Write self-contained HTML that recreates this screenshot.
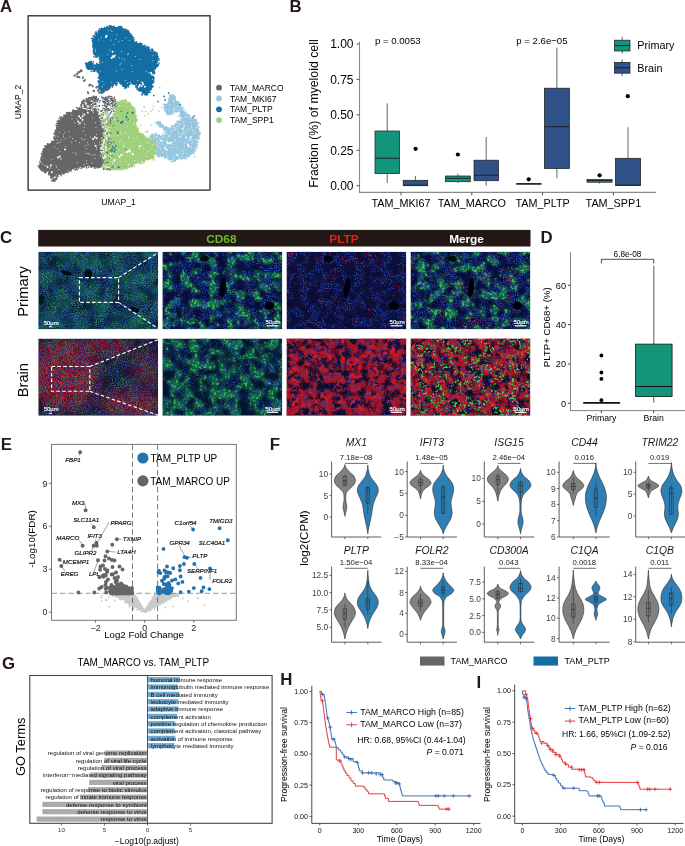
<!DOCTYPE html><html><head><meta charset="utf-8"><title>Figure</title><style>html,body{margin:0;padding:0;background:#fff}svg{display:block;will-change:transform;transform:translateZ(0)}text{font-family:"Liberation Sans",sans-serif}</style></head><body><svg width="685" height="846" viewBox="0 0 685 846" font-family='"Liberation Sans", sans-serif'><defs><filter id="fB1" x="0" y="0" width="100%" height="100%" color-interpolation-filters="sRGB"><feTurbulence type="fractalNoise" baseFrequency="0.85" numOctaves="2" seed="11"/><feColorMatrix type="matrix" values="0 0 0 0 0.122 0 0 0 0 0.267 0 0 0 0 0.659 5 0 0 0 -2.25" result="a"/><feTurbulence type="fractalNoise" baseFrequency="0.11" numOctaves="2" seed="5"/><feColorMatrix type="matrix" values="0 0 0 0 1 0 0 0 0 1 0 0 0 0 1 0 5 0 0 -1.9" result="m"/><feComposite in="a" in2="m" operator="in"/></filter><filter id="fB2" x="0" y="0" width="100%" height="100%" color-interpolation-filters="sRGB"><feTurbulence type="fractalNoise" baseFrequency="0.85" numOctaves="2" seed="23"/><feColorMatrix type="matrix" values="0 0 0 0 0.125 0 0 0 0 0.235 0 0 0 0 0.612 5 0 0 0 -2.25" result="a"/><feTurbulence type="fractalNoise" baseFrequency="0.11" numOctaves="2" seed="5"/><feColorMatrix type="matrix" values="0 0 0 0 1 0 0 0 0 1 0 0 0 0 1 0 5 0 0 -1.9" result="m"/><feComposite in="a" in2="m" operator="in"/></filter><filter id="fB3" x="0" y="0" width="100%" height="100%" color-interpolation-filters="sRGB"><feTurbulence type="fractalNoise" baseFrequency="0.85" numOctaves="2" seed="31"/><feColorMatrix type="matrix" values="0 0 0 0 0.157 0 0 0 0 0.282 0 0 0 0 0.722 5 0 0 0 -2.3" result="a"/><feTurbulence type="fractalNoise" baseFrequency="0.1" numOctaves="2" seed="14"/><feColorMatrix type="matrix" values="0 0 0 0 1 0 0 0 0 1 0 0 0 0 1 0 5 0 0 -1.7" result="m"/><feComposite in="a" in2="m" operator="in"/></filter><filter id="fB4" x="0" y="0" width="100%" height="100%" color-interpolation-filters="sRGB"><feTurbulence type="fractalNoise" baseFrequency="0.85" numOctaves="2" seed="47"/><feColorMatrix type="matrix" values="0 0 0 0 0.122 0 0 0 0 0.267 0 0 0 0 0.643 5 0 0 0 -2.4" result="a"/><feTurbulence type="fractalNoise" baseFrequency="0.1" numOctaves="2" seed="19"/><feColorMatrix type="matrix" values="0 0 0 0 1 0 0 0 0 1 0 0 0 0 1 0 5 0 0 -1.9" result="m"/><feComposite in="a" in2="m" operator="in"/></filter><filter id="fB5" x="0" y="0" width="100%" height="100%" color-interpolation-filters="sRGB"><feTurbulence type="fractalNoise" baseFrequency="0.9" numOctaves="2" seed="53"/><feColorMatrix type="matrix" values="0 0 0 0 0.157 0 0 0 0 0.345 0 0 0 0 0.722 5 0 0 0 -2.3" result="a"/><feTurbulence type="fractalNoise" baseFrequency="0.09" numOctaves="2" seed="3"/><feColorMatrix type="matrix" values="0 0 0 0 1 0 0 0 0 1 0 0 0 0 1 0 5 0 0 -1.6" result="m"/><feComposite in="a" in2="m" operator="in"/></filter><filter id="fG1" x="0" y="0" width="100%" height="100%" color-interpolation-filters="sRGB"><feTurbulence type="fractalNoise" baseFrequency="0.4" numOctaves="3" seed="3"/><feColorMatrix type="matrix" values="0 0 0 0 0.243 0 0 0 0 0.784 0 0 0 0 0.290 5 0 0 0 -2.35" result="a"/><feTurbulence type="fractalNoise" baseFrequency="0.11" numOctaves="2" seed="5"/><feColorMatrix type="matrix" values="0 0 0 0 1 0 0 0 0 1 0 0 0 0 1 0 0 6 0 -2.85" result="m"/><feComposite in="a" in2="m" operator="in"/></filter><filter id="fG2" x="0" y="0" width="100%" height="100%" color-interpolation-filters="sRGB"><feTurbulence type="fractalNoise" baseFrequency="0.42" numOctaves="3" seed="17"/><feColorMatrix type="matrix" values="0 0 0 0 0.227 0 0 0 0 0.796 0 0 0 0 0.298 5 0 0 0 -2.5" result="a"/><feTurbulence type="fractalNoise" baseFrequency="0.1" numOctaves="2" seed="25"/><feColorMatrix type="matrix" values="0 0 0 0 1 0 0 0 0 1 0 0 0 0 1 6 0 0 0 -2.6" result="m"/><feComposite in="a" in2="m" operator="in"/></filter><filter id="fG3" x="0" y="0" width="100%" height="100%" color-interpolation-filters="sRGB"><feTurbulence type="fractalNoise" baseFrequency="0.8" numOctaves="2" seed="29"/><feColorMatrix type="matrix" values="0 0 0 0 0.208 0 0 0 0 0.753 0 0 0 0 0.282 6 0 0 0 -2.8" result="a"/><feTurbulence type="fractalNoise" baseFrequency="0.08" numOctaves="2" seed="2"/><feColorMatrix type="matrix" values="0 0 0 0 1 0 0 0 0 1 0 0 0 0 1 0 5 0 0 -2.0" result="m"/><feComposite in="a" in2="m" operator="in"/></filter><filter id="fG4" x="0" y="0" width="100%" height="100%" color-interpolation-filters="sRGB"><feTurbulence type="fractalNoise" baseFrequency="0.42" numOctaves="3" seed="41"/><feColorMatrix type="matrix" values="0 0 0 0 0.282 0 0 0 0 0.863 0 0 0 0 0.314 5 0 0 0 -2.45" result="a"/><feTurbulence type="fractalNoise" baseFrequency="0.11" numOctaves="2" seed="33"/><feColorMatrix type="matrix" values="0 0 0 0 1 0 0 0 0 1 0 0 0 0 1 0 6 0 0 -2.5" result="m"/><feComposite in="a" in2="m" operator="in"/></filter><filter id="fR1" x="0" y="0" width="100%" height="100%" color-interpolation-filters="sRGB"><feTurbulence type="fractalNoise" baseFrequency="0.24" numOctaves="3" seed="6"/><feColorMatrix type="matrix" values="0 0 0 0 0.847 0 0 0 0 0.102 0 0 0 0 0.141 4.5 0 0 0 -2.0" result="a"/><feTurbulence type="fractalNoise" baseFrequency="0.1" numOctaves="2" seed="13"/><feColorMatrix type="matrix" values="0 0 0 0 1 0 0 0 0 1 0 0 0 0 1 0 5 0 0 -1.9" result="m"/><feComposite in="a" in2="m" operator="in"/></filter><filter id="fR2" x="0" y="0" width="100%" height="100%" color-interpolation-filters="sRGB"><feTurbulence type="fractalNoise" baseFrequency="0.8" numOctaves="2" seed="19"/><feColorMatrix type="matrix" values="0 0 0 0 0.878 0 0 0 0 0.125 0 0 0 0 0.188 6 0 0 0 -2.7" result="a"/><feTurbulence type="fractalNoise" baseFrequency="0.03" numOctaves="2" seed="4"/><feColorMatrix type="matrix" values="0 0 0 0 1 0 0 0 0 1 0 0 0 0 1 0 6 0 0 -2.6" result="m"/><feComposite in="a" in2="m" operator="in"/></filter><filter id="fR3" x="0" y="0" width="100%" height="100%" color-interpolation-filters="sRGB"><feTurbulence type="fractalNoise" baseFrequency="0.6" numOctaves="3" seed="27"/><feColorMatrix type="matrix" values="0 0 0 0 0.878 0 0 0 0 0.125 0 0 0 0 0.290 7 0 0 0 -4.2" result="a"/><feTurbulence type="fractalNoise" baseFrequency="0.06" numOctaves="2" seed="37"/><feColorMatrix type="matrix" values="0 0 0 0 1 0 0 0 0 1 0 0 0 0 1 0 6 0 0 -3.2" result="m"/><feComposite in="a" in2="m" operator="in"/></filter><filter id="fH1" x="0" y="0" width="100%" height="100%" color-interpolation-filters="sRGB"><feTurbulence type="fractalNoise" baseFrequency="0.11" numOctaves="2" seed="5"/><feColorMatrix type="matrix" values="0 0 0 0 0.086 0 0 0 0 0.478 0 0 0 0 0.345 0 0 4.0 0 -1.85"/><feGaussianBlur stdDeviation="1.2"/></filter><filter id="fH2" x="0" y="0" width="100%" height="100%" color-interpolation-filters="sRGB"><feTurbulence type="fractalNoise" baseFrequency="0.1" numOctaves="2" seed="25"/><feColorMatrix type="matrix" values="0 0 0 0 0.082 0 0 0 0 0.478 0 0 0 0 0.345 4.0 0 0 0 -1.65"/><feGaussianBlur stdDeviation="1.2"/></filter><filter id="fH3" x="0" y="0" width="100%" height="100%" color-interpolation-filters="sRGB"><feTurbulence type="fractalNoise" baseFrequency="0.03" numOctaves="2" seed="38"/><feColorMatrix type="matrix" values="0 0 0 0 0.659 0 0 0 0 0.094 0 0 0 0 0.188 3.0 0 0 0 -1.3"/><feGaussianBlur stdDeviation="2"/></filter><filter id="fH4" x="0" y="0" width="100%" height="100%" color-interpolation-filters="sRGB"><feTurbulence type="fractalNoise" baseFrequency="0.07" numOctaves="2" seed="2"/><feColorMatrix type="matrix" values="0 0 0 0 0.082 0 0 0 0 0.439 0 0 0 0 0.361 3.0 0 0 0 -1.1"/><feGaussianBlur stdDeviation="2"/></filter><filter id="fH5" x="0" y="0" width="100%" height="100%" color-interpolation-filters="sRGB"><feTurbulence type="fractalNoise" baseFrequency="0.12" numOctaves="4" seed="13"/><feColorMatrix type="matrix" values="0 0 0 0 0.612 0 0 0 0 0.071 0 0 0 0 0.149 0 5 0 0 -1.9"/><feGaussianBlur stdDeviation="0.35"/></filter><filter id="fB6" x="0" y="0" width="100%" height="100%" color-interpolation-filters="sRGB"><feTurbulence type="fractalNoise" baseFrequency="0.85" numOctaves="2" seed="61"/><feColorMatrix type="matrix" values="0 0 0 0 0.173 0 0 0 0 0.314 0 0 0 0 0.769 5 0 0 0 -2.75" result="a"/><feTurbulence type="fractalNoise" baseFrequency="0.1" numOctaves="2" seed="13"/><feColorMatrix type="matrix" values="0 0 0 0 1 0 0 0 0 1 0 0 0 0 1 0 5 0 0 -1.2" result="m"/><feComposite in="a" in2="m" operator="in"/></filter><filter id="fR4" x="0" y="0" width="100%" height="100%" color-interpolation-filters="sRGB"><feTurbulence type="fractalNoise" baseFrequency="0.8" numOctaves="2" seed="19"/><feColorMatrix type="matrix" values="0 0 0 0 0.894 0 0 0 0 0.125 0 0 0 0 0.188 6 0 0 0 -2.75"/></filter><filter id="soft" x="-2%" y="-2%" width="104%" height="104%"><feGaussianBlur stdDeviation="0.5"/></filter><filter id="soft2" x="-2%" y="-2%" width="104%" height="104%"><feGaussianBlur stdDeviation="0.75"/></filter><clipPath id="cA"><rect x="38.3" y="251.8" width="119.8" height="77.4"/></clipPath><clipPath id="cB"><rect x="162.4" y="251.8" width="119.8" height="77.4"/></clipPath><clipPath id="cC"><rect x="286.5" y="251.8" width="119.8" height="77.4"/></clipPath><clipPath id="cD"><rect x="410.5" y="251.8" width="119.8" height="77.4"/></clipPath><filter id="mblur" x="-30%" y="-30%" width="160%" height="160%"><feGaussianBlur stdDeviation="7"/></filter><mask id="mE" maskUnits="userSpaceOnUse" x="38.3" y="338.6" width="119.8" height="77.1"><rect x="38.3" y="338.6" width="119.8" height="77.1" fill="#000"/><g filter="url(#mblur)" fill="#fff"><ellipse cx="64.3" cy="374.6" rx="34" ry="36"/><ellipse cx="130.3" cy="404.6" rx="30" ry="13"/><ellipse cx="108.3" cy="344.6" rx="22" ry="9"/><ellipse cx="146.3" cy="368.6" rx="14" ry="18" opacity=".6"/></g></mask><clipPath id="cE"><rect x="38.3" y="338.6" width="119.8" height="77.1"/></clipPath><clipPath id="cF"><rect x="162.4" y="338.6" width="119.8" height="77.1"/></clipPath><clipPath id="cG"><rect x="286.5" y="338.6" width="119.8" height="77.1"/></clipPath><clipPath id="cH"><rect x="410.5" y="338.6" width="119.8" height="77.1"/></clipPath></defs><rect width="685" height="846" fill="#fff"/><text x="0" y="12" font-size="16.8" fill="#231815" font-weight="bold">A</text>
<polygon points="170.8,95.6 174,97.2 177.3,102.3 181.7,108.4 186.2,113.8 191.6,118.3 195.7,120.7 197.3,126.4 199,134 197.3,140.8 195.6,147.7 192.3,153.5 187.4,156.7 182.4,157.5 177,158.4 173,161 169,158.5 163.6,156.6 158.6,155.9 156.5,153 156.5,146.1 153.7,140.4 150.4,137.6 153.2,135.1 157.9,135.1 163.5,136.9 167.9,133.3 164.1,128.9 159.8,125.5 158,122.5 160.2,123.7 164.6,127.1 170.4,129 174.5,127 178.2,122.5 181.9,118.5 180,113.2 175.7,110.2 171.6,112 168.8,113.7 166,110.7 164.4,106.2 167.7,102.3 170.5,98.6" fill="#97c7de"/>
<path d="M153.6 140.9h0M176.8 121.2h0M181.9 157.7h0M195 120.1h0M174.2 159.9h0M174.3 110.9h0M198.8 136.4h0M156.3 148.7h0M176.4 112.1h0M188.5 115.6h0M179.3 121.9h0M158.8 123.5h0M172.3 161.8h0M150.7 140.8h0M198.6 131h0M167.4 127.8h0M181.4 114.9h0M151.2 135.6h0M194.2 120.8h0M184.6 113.5h0M170.6 97h0M169.4 100.7h0M169.9 113.9h0M196.1 140.2h0M163.9 127.6h0M198.1 139h0M163.7 128.1h0M176.6 159.4h0M177.2 158h0M157.9 156.3h0M179.9 113.5h0M166.9 110.7h0M170 96.8h0M196 123.8h0M181 158.7h0M196 121h0M156.6 135.4h0M158.7 136.2h0M156.2 135.8h0M158.9 123.5h0M149.9 138.5h0M175.7 126.6h0M197.4 144.8h0M157.4 145.2h0M166.9 157.1h0M175 159h0M174.9 158.5h0M184 156h0M174.7 159h0M176 101.3h0M166.9 114.3h0M152.7 135.7h0M174.5 160.5h0M165.2 111.3h0M163.6 104.2h0M185.7 158.5h0M154.8 139.7h0M160.3 122.5h0M193.5 153.6h0M160.8 124.8h0M162.4 126.9h0M199.4 132.8h0M197.4 123.3h0M183.5 158h0M157.6 153.6h0M181.1 122.3h0M152.1 133.9h0M177 124.6h0M176.9 121.8h0M189.4 154.9h0M196.3 142.9h0M153.6 142h0M197.7 126h0M179.6 107h0M187.8 115.1h0M171 129.7h0M162.4 126.5h0M164.5 156.4h0M160.3 125.8h0M189.3 117.1h0M156.9 147.2h0M167.7 105.1h0M159.4 122.5h0M165.2 126.9h0M159.1 126.1h0M151.3 136.6h0M180.8 115.2h0M176.5 124.2h0M173.6 161.3h0M181.9 109.2h0M159.5 124.1h0M165.2 135.8h0M157.5 146h0M160.3 126h0M196.4 121.1h0M187.7 115.1h0M182.2 115.7h0M179.7 106h0M195.6 151.1h0M165.6 108.6h0M173 129.3h0M169.9 158.5h0M184.9 158.1h0M169 99.7h0M167.6 133.9h0M176.3 158.1h0M168.3 109.9h0M197.7 132.8h0M164.9 129.2h0M173 128.3h0M158.8 156.4h0M174 95.5h0M183.1 117.2h0M181.4 157.8h0M161 124.1h0M171.3 95.3h0M176.3 110.4h0M178.3 158.2h0M195.8 143.5h0M162 135.4h0M156.9 153.6h0M172.8 126.1h0M197.5 139h0M175.1 100.4h0M170.6 95.4h0M177.6 103.4h0M157.9 122.9h0M170.5 98.9h0M189.1 117.2h0M169.1 99.3h0M190.9 119.1h0M175 160.2h0M159 134.9h0M179.8 105.8h0M195.9 141.9h0M167.5 112h0M159.3 156.3h0M165.3 127.6h0M160.8 123.3h0M156.7 146.1h0M155.3 122.5h0M163.5 155.3h0M190 117.3h0M154.3 134.1h0M198.7 133.7h0M168.1 129.7h0M170.5 97.7h0M152.1 137.2h0M154.6 141.4h0M184.5 156.8h0M152.1 136.2h0M187.5 115.7h0M184.2 110.4h0M164.5 107.2h0M171.9 126.8h0M160.8 124.7h0M180.8 115.3h0M166.2 130h0M158.6 153.9h0M193.6 151h0M164.8 104.6h0M181.6 115.9h0M188.2 114.2h0M174.4 160.9h0M163.6 128.8h0M151.5 139.6h0M180.9 112.8h0M159.3 135.7h0M150.1 138.3h0M152.6 135.1h0M182.6 157h0M167.6 104h0M173.1 98.6h0M164.1 127h0M178.3 123.1h0M197.5 124h0M197 124.8h0M158.2 122.6h0M199.8 135h0M155.7 145.5h0M161.4 126.7h0M178.2 123.4h0M168.7 111.3h0M157.7 154.4h0M162.3 125.4h0M165.1 130.3h0M169.5 128.5h0M174.9 159.8h0M180.2 105.7h0M164.8 134.8h0M170.1 128.9h0M186.6 158.4h0M157.5 154.7h0M175.3 159.5h0M170.7 112.7h0M171.5 112.4h0M165.3 134.5h0M199.7 133.7h0M188.1 155.4h0M155.9 149h0M152.5 139.4h0M193.5 119h0M180.4 157.1h0M163.5 128h0M181.9 119.6h0M158.9 124.6h0M164 136.8h0M182.8 107.9h0M151.4 141.3h0M178.3 103.1h0M161.9 155.2h0M166 107.1h0M198.6 122.8h0M163.7 135.7h0M198.1 141.8h0M156.7 146.1h0M152.6 141.6h0M171.9 113.6h0M170.8 159.1h0M181.2 121h0M188 115.2h0M170.9 128.9h0M197.3 135.9h0M181.1 118.7h0M157.2 154.7h0M168 158.8h0M197.3 142.4h0M189.4 115.5h0M175.2 160.7h0M176.1 103.2h0M158.9 123h0M196 125.8h0M181.5 158.7h0M158.9 122.4h0M170.1 95.1h0M182.1 157.8h0M168.6 156.4h0M172.7 97.4h0M168.4 114.3h0M179.6 116.8h0M169 100h0M193.9 152.6h0M169.3 101h0M176 110.6h0M155.5 135.7h0M172.5 96.7h0M194 118.6h0M195.6 148.6h0M163.3 136h0M170.8 129.1h0M193.4 153.7h0M186.1 156.7h0M160.6 123.9h0M194.1 119.3h0M194.3 150.4h0M166.7 110.7h0M182.7 157.3h0M150.8 138.7h0M185.8 156.1h0M179.9 107.2h0M158.7 122.6h0M166.7 132.8h0M155.1 135.2h0M165.1 111h0M166.1 111.5h0M162.7 125.4h0M152.7 135.5h0M178.9 104h0M154 141.7h0M173.2 125.9h0M178.3 101.5h0M198.7 127.8h0M193.2 151h0M152.1 136.8h0M168.2 112.4h0M173.2 127.2h0M167.3 112.4h0M189.9 154.2h0M154.8 142.4h0M200.3 132.8h0M157.2 123h0M194.4 121.8h0M155.6 135h0M155.3 135.4h0M168.3 112h0M169.1 157.5h0M170 97.5h0M175.6 158.2h0M172.9 128.6h0M167 111.7h0M150.2 136.6h0M165.2 130.4h0M166.6 111.3h0M169.9 159.3h0M196 145.9h0M165.3 157.3h0M151 135.5h0M177.2 125.7h0M178.2 102.7h0M195.4 147.9h0M180.9 115.9h0M175.4 124.2h0M168 113.9h0M186 112.8h0M179 121.3h0M157.9 122.1h0M195.9 121.8h0M165 158.3h0M163.2 125.4h0M157.9 153.9h0M170.4 129.6h0M182.7 156.7h0M159.9 137.7h0M166.2 106.4h0M180.7 119.5h0M175.3 98.3h0M155.6 148.3h0M176.2 110.6h0M198 126.4h0M175 98.4h0M180.4 106.2h0M173.3 113.7h0M183.2 119.7h0M158.6 135.7h0M182.8 107.3h0M194.5 119.7h0M196.3 120.2h0M157.8 155h0M165.4 157.2h0M153.5 141.1h0M158.2 154.3h0M162.7 127.7h0M184.5 113.1h0M193.8 120.6h0M175.5 123.6h0M173.1 97h0M185.7 155.3h0M172.2 128.2h0M177.4 158.9h0M162 107.4h0M179.8 113.8h0M168.8 132.6h0M160.9 126h0M166.2 157.5h0M164.6 109.9h0M169.3 113.8h0M194.7 147.1h0M154.6 145.7h0M174.1 111.7h0M170.8 161.2h0M168.7 113.8h0M154.4 143.2h0M189 156.1h0M193.1 153.8h0M195.8 145.3h0M187.5 156.4h0M162.3 136.1h0M159.9 126.5h0M158 124h0M174 96.3h0M176.4 110.1h0M170.8 98.6h0M171.6 110.6h0M158.9 124.4h0M165.8 133h0M193.9 149.6h0M165.1 111h0M187.9 156.5h0M170.4 129.3h0M182 155.5h0M176.4 124.6h0M177.2 158.1h0M153.8 136.3h0M177.5 159.4h0M197.6 131.1h0M167.4 158h0M163.5 128.3h0M174.8 112.1h0M180.3 122.6h0M159.6 123.9h0M164.8 108.7h0M195.6 141.9h0M165.8 132.3h0M196.1 139.6h0M175.4 159.6h0M159.6 126.8h0M161.4 155.7h0M166.2 126.9h0M153.7 135.9h0M196.3 119.4h0M197.4 138.6h0M169 101.9h0M164.2 156.5h0M188.2 156.4h0M167.9 135.7h0M170.5 114.7h0M180.7 113.8h0M179.5 157h0M198.2 131.3h0M197.2 136.9h0M196.1 146.1h0M170.9 113.5h0M158.8 123.3h0M156.8 124.1h0M186.3 115.6h0M175.2 98.4h0M151.9 138.7h0M197 139.8h0M152.9 139.5h0M177.2 124.1h0M150.7 138.6h0M157.1 154.9h0M158.9 156.5h0M168.8 129.3h0M156.9 152h0M178.2 104.4h0M179.7 113.2h0M181.8 157.6h0M186.3 112h0M167.7 112h0M171.7 98.7h0M165.2 107.6h0M180.8 106.1h0M172.7 94.8h0M180.9 114.3h0M177.5 104.8h0M182.3 110.9h0M166.6 130.2h0M170.6 95.1h0M169.5 98.8h0M194 121.5h0M167.4 110.7h0M199.4 133.4h0M198.9 127.6h0M171.1 157.8h0M156.4 133.4h0M191.8 118.6h0M170.2 101.2h0M178.7 102.5h0M168 114.8h0M193.1 152.1h0M154.6 143.6h0M171 98h0M165.3 104.6h0M158.4 121.5h0M157.1 154.2h0M168.7 111.1h0M195.9 145.8h0M171 158.9h0M173.7 160.5h0M168.7 159.7h0M179.8 105.5h0M180.9 112.5h0M181.3 114.5h0M193 119.7h0M176.6 159.5h0M177.3 158.3h0M161.9 136.8h0M185.8 113.9h0M175.1 125.6h0M182 158.9h0M154.9 136.3h0M197.8 142h0M196 122.9h0M154.2 143.6h0M174.8 99.5h0M177.2 111.5h0M162.9 155.8h0M168.9 113.9h0M182.3 157.6h0M180.5 105h0M189.6 116.1h0M191.5 118.4h0M169.8 102h0M158.4 135.1h0M181.8 108h0M180.3 113.5h0M171.8 125.5h0M182.1 109.1h0M183.7 158.4h0M164.4 106.4h0M197.2 130h0M196.5 146.4h0M184.4 158.8h0M192.5 116.6h0M199.7 138.8h0M161.9 135.9h0M152.7 139.9h0M154 135.4h0M159.9 125.3h0M161.5 156.5h0M176.1 111.1h0M164.2 127.6h0M197.4 148.2h0M168.7 98.3h0M198 129.2h0M164 156.5h0M158.6 156.1h0M157.7 154.7h0M171.9 128.4h0M175.4 125.9h0M166.6 132.1h0M189.8 155.7h0M172.4 112.8h0M169.2 129h0M170.1 98.6h0M187 155.7h0M183.6 111.8h0M164.5 106.8h0M160.4 123.5h0M176 111.1h0M156.4 134.5h0M158.8 123h0M170.3 158.3h0M161.7 135.7h0M196.1 126.2h0M177.9 123.9h0M192.7 119.2h0M166.2 157.4h0M186.8 155.8h0M159 122.7h0M197.3 124.9h0M168 127.8h0M198.8 130.4h0M175 158.1h0M193.7 153.3h0M165.4 130.5h0M184.8 113.2h0M152 137.4h0M154.4 141.2h0M174.7 125.6h0M161.7 126.7h0M191 154.1h0M174 98.8h0M160.1 121.5h0M177 101.9h0M169.6 95.6h0M180 107.2h0M163.5 128.2h0M153.1 136.8h0M175.2 127.8h0M194.7 143.7h0M165.5 132.2h0M177.9 121.8h0M174.8 161.4h0M159.6 124.5h0M156.2 153.3h0M179.5 120.9h0M151.6 136.9h0M154.6 145.9h0M159.6 155.9h0M168.8 113.6h0M161.6 137.8h0M176.8 125.6h0M196.3 143.2h0M185.3 155.8h0M176.1 125h0M160.5 123.7h0M199 137.4h0M178.5 115.5h0M179.8 112.2h0M166.4 112.6h0M158.1 123.5h0M176 125.1h0M166.4 128.9h0M196.1 144.2h0M153.6 138.1h0M154.2 145.8h0M170.8 97.6h0M156.7 145.5h0M160.5 127h0M161.8 136.3h0M157.6 121.7h0M195.1 123h0M179.7 113.6h0M163.3 133.2h0M151.4 138h0M156.4 134.9h0M170.7 128h0M152.9 138h0M163.8 130.2h0M179.9 158.5h0M166 108.9h0M165.9 108.1h0M171.8 96h0M156.6 150.3h0M173.5 98.2h0M160.1 155.3h0M195.9 145h0M193.7 150.6h0M185.5 114.3h0M168 111.2h0M170.1 97.6h0M152.4 137.1h0M175.9 111.5h0M175.1 96.8h0M178.8 104.5h0M177.5 103h0M174 96.4h0M172.8 110.8h0" stroke="#97c7de" stroke-width="1.6" stroke-linecap="round" fill="none"/>
<path d="M153.7 139.9h0M183.2 133.8h0M166.7 152.6h0M166.7 138.2h0M194.8 131.8h0M176.9 147.1h0M177.4 126.1h0M168.3 109.8h0M170.1 136.8h0M173.5 109h0M192.1 139.8h0M179.4 124.4h0M170.1 129h0M156.5 144.7h0M191.8 143.7h0M184.2 146.4h0M194.8 148.2h0M164.4 149h0M191.5 126h0M180.9 136.7h0M189.3 140.8h0M184.6 125.9h0M180 109.9h0M183.3 122.1h0M180 123.8h0M186.3 131.7h0M181 157.2h0M177.9 110.5h0M174.6 129.7h0M195.4 139.4h0M178.4 156.8h0M182.3 154.5h0M192.9 133.9h0M165.9 146.4h0M167.2 155.3h0M170.7 144.2h0M167.4 157.7h0M174.9 140.6h0M191.2 136.5h0M175.1 139.8h0M160.4 139.6h0M191.6 146.5h0M174.2 108h0M177.6 107h0M158.4 146.7h0M183.8 127.4h0M173.9 141.7h0M156.9 137.5h0M184.8 134h0M162.1 136.8h0M196.2 139.9h0M191.2 122.2h0M160.4 140.7h0M173.2 159.7h0M174 144.5h0M166.5 143.9h0M163.3 137.8h0M196.9 127.5h0M188.5 116.7h0M185.9 141.3h0M169.6 105.1h0M175.9 154.2h0M185.4 115.9h0M180.4 120.4h0M181.9 118.9h0M179.7 136.6h0M157.1 137.2h0M191.8 127h0M190.9 129h0M159 143h0M189.5 139.8h0M178 126.3h0M176.8 129.4h0M171.2 130.6h0M169.9 135.4h0M185.5 117.3h0M182.4 132.6h0M192.5 130.3h0M181.2 151.1h0M161.2 144h0M178.6 131.9h0M191.1 138.1h0M159.5 139.4h0M172.7 131h0M184.3 143.7h0M194.6 132.7h0M191.8 140h0M174.9 128.8h0M183.8 131.2h0M173.5 101.7h0M168.6 136.1h0M196.9 125.7h0M156 143.2h0M191.3 148.2h0M175.4 129.9h0M190.1 118.7h0M167.6 141h0M171.8 147.3h0M174.1 100.4h0M183 150.3h0M179 112h0M174.1 127.3h0M154 136.2h0M181.7 134.8h0M184.1 124.9h0M156.8 136.4h0M160.7 149.2h0M185.8 117.3h0M173.2 156.9h0M173.9 110.4h0M162.5 152.9h0M180 136.9h0M178.3 133.8h0M157.2 141.3h0M171.1 133h0M192.8 142.4h0M166.7 141.7h0M183.1 153.4h0M188.4 128.5h0M193.9 148.5h0" stroke="#fff" stroke-width="0.9" stroke-linecap="round" fill="none"/>
<path d="M177.3 113.9h0M175.9 115.1h0M178.7 113h0M167.7 142.8h0M169.5 143.2h0M171.2 142.8h0M186.1 137.6h0M187.9 144.6h0M188.7 146.3h0M177.3 155.1h0M165.1 148.1h0M166.8 149.8h0M190.5 137.6h0M182.6 128.8h0M161.6 141.1h0" stroke="#fff" stroke-width="2.0" stroke-linecap="round" fill="none"/>
<polygon points="117.2,103.5 121.5,101.4 126.8,102.1 131.5,106.1 134.8,111.8 136.4,118.4 135.5,124.5 137.5,131.4 142.2,135.2 146.7,138.8 151.8,142.1 154.9,146.8 154.9,152.9 151.8,157.5 145.3,160.7 138.3,162.4 131.2,166 124.4,168.5 117.8,169.3 111.1,168.5 106.5,167 104.4,163.5 105.2,157.1 107,149.9 106.1,142.9 107.9,136.1 108.8,128.7 106.9,123.1 111,120.2 114.8,115.4 115.7,109" fill="#a0d07c"/>
<path d="M155.4 149.5h0M103.7 161h0M151 141.6h0M106.6 146.6h0M116.2 109.4h0M115.4 115.9h0M142.9 160.4h0M111.1 119.8h0M136.2 120.3h0M135.9 122.4h0M124 102.8h0M109.5 122.1h0M126.3 101.9h0M107.3 129.4h0M116.2 102.7h0M106.6 166h0M109.4 120.2h0M105.9 160h0M107.3 135.2h0M129.6 167.2h0M108 122.6h0M150.8 141.4h0M152.9 142.9h0M127.4 168.8h0M148.8 156.9h0M135.2 115.6h0M106.9 144.6h0M125.1 103.4h0M105.8 154.9h0M116.1 108.6h0M133.8 109h0M106 165.9h0M120.7 102.9h0M137.5 130.3h0M156.4 150.2h0M110.8 120.6h0M105.7 138.7h0M135.9 130.2h0M143.9 160.8h0M106.2 159.3h0M152.4 156.5h0M155.5 153.7h0M104.8 164.1h0M106.1 154.6h0M106.5 141.8h0M136.3 163h0M111 118.2h0M136 118h0M132.1 166.3h0M107.2 168h0M114.8 115.3h0M126 101.5h0M108.8 122.2h0M108.1 135.2h0M114.2 113.4h0M106.3 141.4h0M153.3 144.3h0M155.5 146.8h0M108.9 131.5h0M109.6 168.3h0M117.6 103.2h0M131.4 106.8h0M152 158.6h0M104.5 164.4h0M155.2 151.8h0M137.9 130.3h0M128.4 103.9h0M131.5 106.2h0M108.3 132.1h0M104.6 157h0M155.7 145.1h0M104.7 155.7h0M151.2 157.9h0M147.6 159.3h0M141 133.4h0M109.4 167.3h0M105.3 161.5h0M114.5 111.4h0M104.2 159.1h0M117.7 167.6h0M128 166.6h0M107.6 124.3h0M106 156.5h0M104.4 160.3h0M121.4 168.4h0M144.8 138.7h0M124.1 166h0M130.1 105.6h0M129.2 167.4h0M134.9 117.5h0M106.1 122.3h0M153.8 142.4h0M132.6 107.6h0M155.2 147.9h0M140.5 162.6h0M139.4 162.2h0M107.9 134.8h0M134.7 114.1h0M155.1 149.3h0M122.8 168.5h0M134.2 119.7h0M143.5 135.7h0M105.8 165.6h0M116.2 104h0M125.1 102.1h0M105.6 141.6h0M108.2 135.9h0M137.2 120.1h0M106.8 153.2h0M107.3 122h0M129.6 166.5h0M107 135.3h0M137.7 163h0M134.7 124.2h0M126.8 167.9h0M137.7 127.6h0M121.5 169.4h0M129.3 103.8h0M133.5 108.4h0M144.3 159.5h0M130.7 165h0M109.4 125.4h0M109.2 121.8h0M116.9 102.8h0M128.2 105.2h0M122.8 167.9h0M149.3 138.6h0M108.9 122h0M135.9 128.9h0M134.6 166.6h0M153.4 142.5h0M125.7 101.9h0M116.2 106.5h0M108.4 133.4h0M112.5 169.6h0M138.2 130.9h0M107.4 168h0M108.5 127.2h0M119.8 169.7h0M106.2 145.8h0M108.7 126.4h0M131.8 167.1h0M116.1 110.4h0M106.6 150.1h0M126.8 102.5h0M143.4 162.4h0M153.8 144.6h0M144 135.9h0M108.8 133.6h0M152.5 143.4h0M120 169.6h0M135.9 120.6h0M107.8 126.2h0M103.7 163.6h0M155.3 145h0M113.1 115h0M108.4 167.1h0M137.7 162.3h0M139.9 134.7h0M133.5 113.4h0M105 162.3h0M136.5 162.7h0M109.1 128.6h0M143.1 160.3h0M109.5 168h0M116.8 168.9h0M113.5 169.3h0M107.9 150.6h0M150.7 140.8h0M149 140.3h0M131.9 108.1h0M153.8 145.2h0M130.2 166.4h0M123.5 169.2h0M109.1 122h0M133 111.6h0M116.4 168.8h0M136.3 119.5h0M153.9 156.5h0M131.2 106.3h0M105.8 167.2h0M106.2 125.8h0M122.7 101h0M148.8 139h0M114.1 116.1h0M108.8 133.4h0M107.4 147.7h0M106.6 142.5h0M154 145.4h0M111.2 117.9h0M114.6 114.7h0M110.3 120h0M131 104.5h0M108 127.6h0M134.9 112.8h0M126.3 100.5h0M115.7 170.1h0M116.3 106.4h0M119.8 168.8h0M108.5 132h0M137.7 131.7h0M114 117.1h0M104.9 156h0M106.6 164h0M152.2 158.6h0M106.7 132.6h0M107.8 135h0M116.3 107.5h0M110.4 169h0M129.2 102.5h0M149 139.9h0M111.8 116.7h0M131.6 106.7h0M111.4 121.6h0M153.9 149.1h0M113.5 116.5h0M117.3 103h0M110.8 121.7h0M121.4 102.1h0M112.4 169.5h0M134.6 110.3h0M106.4 160.3h0M103.9 160.8h0M145.6 139.6h0M106.5 164h0M125.5 102.1h0M118.1 102.2h0M121.5 169.8h0M136 116.4h0M155.4 144.4h0M141.9 135.1h0M127.3 103.2h0M145.1 139h0M120.3 102.4h0M108 128.2h0M106.5 154.1h0M108.4 124.1h0M155.4 153.8h0M122.3 100.9h0M149.2 140.6h0M108.4 136.2h0M150 142h0M115.7 113h0M154.2 153.4h0M133 106.7h0M109 128h0M122.4 100.5h0M118.5 169.4h0M154.7 154h0M151.7 142.3h0M117.9 102.4h0M153.3 152.4h0M109.8 119.4h0M105.8 157h0M113.6 111.6h0M105.6 165.1h0M107 122.6h0M152.4 156.7h0M105.7 150.6h0M105 158.2h0M103.5 163.7h0M109.3 122.4h0M136.4 130.2h0M109.1 130.2h0M108 120.9h0M113.1 119.7h0M153.1 157.9h0M107 153.5h0M107.5 138.1h0M137 131.5h0M111.5 167.7h0M107.8 154.9h0M135.2 124.2h0M145.7 136.8h0M109 167.7h0M132.5 110.9h0M115.6 106.9h0M108.1 132.4h0M115.7 169.2h0M120.6 102.6h0M116.5 104.3h0M154.6 154.4h0M106.7 157.9h0M116.1 105.5h0M106.1 166.1h0M104.7 157.5h0M109.6 168.6h0M135.8 124.9h0M106.3 141h0M143.2 134.2h0M152.4 140.6h0M107.3 145.7h0M152.7 156.4h0M104.1 164.7h0M114.3 168.8h0M125.1 101.1h0M120.3 101.9h0M133.1 112.4h0M132.6 165.1h0M133.7 165.3h0M126.8 167.4h0M145.7 137.3h0M147.4 138.5h0M107.4 146.5h0M151.6 157.9h0M115.9 169.2h0M108.1 134.8h0M114.9 169.2h0M107 168.1h0M111.8 121.2h0M153.7 158h0M114.9 108.2h0M106.3 163.9h0M113.9 169.1h0M154.7 153.8h0M106 151.5h0M134.1 112.6h0M106.3 155.3h0M153.1 154.8h0M106.7 144.8h0M137.4 130.1h0M143.5 134.6h0M125.1 100.5h0M141.4 135.6h0M117.3 108.2h0M135.1 119h0M152.5 140.8h0M115.8 109.8h0M103.5 164.1h0M106 167h0M104.6 160.9h0M119.8 102.9h0M125.3 168.2h0M103.7 162.2h0M105.8 166.8h0M131.9 108.5h0M131.7 107.4h0M145.5 137.7h0M106.7 141.7h0M104.1 158.4h0M139.4 161.9h0M137.2 129.2h0M116.1 115.8h0M105.5 158.4h0M110.6 119.4h0M145.4 138.5h0M154.5 147.3h0M134.4 122.7h0M107.2 137.2h0M152.6 144.3h0M117.8 102.5h0M108.4 125.3h0M112.7 118.8h0M125.4 103.2h0M155.6 147.8h0M136 127.3h0M118 103.5h0M108.3 136.6h0M151.6 140.4h0M147.7 159.7h0M142.1 163.6h0M150.5 142h0M118.4 102.3h0M105.9 166.2h0M107.1 167.2h0M127.2 102.5h0M153.5 146.7h0M104.1 163h0M107.5 139.4h0M153.3 153.9h0M106.9 143h0M156 146.3h0M138.3 132.6h0M153.2 143.4h0M111.6 118.5h0M150.2 141.4h0M134.9 111.1h0M129.5 104.7h0M120.3 102h0M154.8 148.5h0M108.2 131h0M104.5 164.4h0M150.7 141.2h0M106.2 167.2h0M155.4 147.8h0M116.5 101.9h0M137.8 132.6h0M132.9 108.4h0M134.8 108h0M149.2 159.1h0M154.9 150.3h0M122.2 102.9h0M115.8 168.8h0M155.6 153h0M139.2 133.3h0M131.6 108.6h0M140.9 163.3h0M106.2 167.2h0M154.6 146.2h0M144.3 136h0M124.2 167.2h0M124.5 102.8h0M109.9 169h0M114.5 113.9h0M154.1 149.6h0M120.1 102h0M136.7 132.7h0M108.4 126.4h0M116.4 108.7h0M155 153.6h0M125.4 166.8h0M137.1 130.4h0M136.3 125.9h0M117.4 104.9h0M148.3 159.7h0M136.5 119.4h0M107 134.5h0M105.8 155.5h0M146.8 139h0M129.6 167.7h0M136.8 120.8h0M139.7 163.2h0M142.3 134.5h0M117.6 105.6h0M109.3 128.2h0M150.7 141.7h0M130.2 102.9h0M104.1 164.1h0M132.2 163.9h0M112 117.3h0M111.3 168.3h0M106.4 149.5h0M116.3 105.8h0M106.7 148.9h0M155.3 145.9h0M106.8 158.1h0M138.7 161.7h0M152.3 157.5h0M152.5 156.9h0M105.6 145.7h0M155 148.2h0M140.9 135.5h0M110.2 168.5h0M115.4 106.9h0M107.4 140.8h0M120.3 101.2h0M134.8 109.9h0M106 167.5h0M106.5 140.8h0M143.9 136.2h0M104.6 157.6h0M118.8 102.8h0M118 103.3h0M105.9 155.8h0M113.8 116.8h0M132.3 106.9h0M135.1 163.5h0M147.5 159.3h0M115.1 115.2h0M111.3 168.4h0M109.3 121.9h0M138.4 128.6h0M106.1 141h0M105.1 157.3h0M137.1 162.5h0M104.4 154.2h0M110.1 167.4h0M135.4 111.7h0M107.6 125.9h0M148.3 159.4h0M141.1 134.9h0M104.4 164.7h0M135.7 120.9h0M143.8 136.1h0M153.9 143.7h0M107.7 130.8h0M146.7 138.7h0M123.3 102.2h0M104 164.1h0M133.7 108.8h0M103.5 158.6h0M133 109.2h0M127.7 102.6h0M155.3 145.7h0M103.9 155.1h0M116.5 113.8h0M129.8 104.9h0M117.7 104.7h0M110 167h0M104.7 158.7h0M152.4 154.6h0M123.1 101.1h0M133.1 111.6h0M107.5 167.8h0M107.3 136.6h0M112.3 119h0M147.8 138h0M154.6 154.7h0M150.1 141.7h0M108.8 137.2h0M132.7 110.9h0M115.6 103.5h0M135.8 117.7h0M106 145.2h0M152.1 157.6h0M155 145.6h0M111.7 120h0M154.2 146.8h0M154.3 151h0M116.8 107.2h0M103 163.5h0M108 121h0M107.3 149.3h0M125.5 168.8h0M134.9 112.1h0M124.3 100.2h0M115.3 114.7h0M109.5 120.9h0M112.5 120.4h0M133.1 163.4h0M136.8 129.8h0M134.2 108.2h0M138.5 132.1h0M121.7 101.7h0M107.4 133.4h0M112.5 116.2h0M106.2 143.2h0M113.4 113.8h0M130.6 166.2h0M116.9 106.1h0M153.9 150.9h0M105.7 164.1h0M153.9 159.9h0M136.6 120.2h0M155.2 146.2h0M124.8 99.7h0M150.6 157.7h0M150.2 158.9h0M104.7 143.2h0M121.5 103.8h0M107.9 125h0M115.7 110.9h0M115.9 168.8h0M121.9 100.4h0M104.8 150.1h0M123.6 169.5h0M118.5 102.2h0M143.5 137.3h0M122.8 101.5h0M105.8 154.8h0M140.5 134.5h0M115.7 115.8h0M133.6 109h0M145 138.7h0M131.2 165.9h0M130.2 105.4h0M151.2 141.9h0M152.5 141h0M137.3 132.7h0M147.6 139.1h0M134.7 114.1h0M136.9 119.6h0M115.5 168.6h0M135.4 127.7h0M137.2 129.4h0M154.5 152.5h0M106.1 152.5h0M110 120.6h0M107.7 131.7h0M116.6 110.7h0M135.2 120.5h0M115.8 104.2h0M151.3 155.8h0M154.9 146.8h0M107.5 167.7h0M107.5 127.8h0M140.6 163h0M155.1 149.4h0M116 107.1h0M108.6 167.6h0M106.9 134.7h0M124.9 168.1h0M137.1 162.8h0M135.9 125.5h0M148.5 139.8h0M106.5 142.9h0M136 115.2h0M115 114.2h0M131.9 165.7h0M110 121.5h0M147.3 139.1h0M118.4 102.3h0M144.7 162.1h0M105.3 157.9h0M108.2 122.3h0M141.1 133.4h0M111.8 119.8h0M154.3 149.8h0M108.9 167.7h0M109.6 129.6h0" stroke="#a0d07c" stroke-width="1.6" stroke-linecap="round" fill="none"/>
<path d="M137.7 136.1h0M129.5 148.2h0M112.3 145.3h0M129.6 164.1h0M123.6 146.4h0M121.2 134h0M112.5 162.2h0M115 146.5h0M133.7 123.6h0M136.8 139.4h0M133.3 138.5h0M126 107h0M125.3 121.4h0M130 149.3h0M111.1 127h0M148.6 142.6h0M126.4 161.4h0M127 126.4h0M106.2 158.1h0M119.5 105.8h0M117.4 154.5h0M114.7 135.9h0M129.7 137.2h0M143.2 148.5h0M138.9 148.8h0M146.6 156.5h0M119.3 142.3h0M148.1 151.5h0M117.5 135.8h0M126.8 103.1h0M108.5 155.1h0M134.7 160.9h0M146.8 142.8h0M152.7 145.2h0M142.6 145.2h0M112.7 163h0M115.6 159.7h0M115.7 119h0M123.7 143.8h0M125.4 133.3h0M120.2 105.5h0M123.7 145.7h0M128.6 137.4h0M114.3 119h0M130.7 109.5h0M120.4 161.8h0M128.1 164.8h0M121 124.7h0M109.2 127.2h0M110 167.3h0M129.5 120.6h0M121 140.6h0M113.4 153.7h0M120.4 132.5h0M123 154.3h0M151.8 148.6h0M128.6 164.6h0M114.3 166.5h0M119.2 149.6h0M140.2 141.2h0" stroke="#fff" stroke-width="0.9" stroke-linecap="round" fill="none"/>
<path d="M128.3 150.7h0M130 151.6h0M126.9 151.9h0M121.3 155.1h0M119.5 156.8h0M132.7 154.2h0M114.3 160.3h0M139.7 146.3h0" stroke="#fff" stroke-width="2.2" stroke-linecap="round" fill="none"/>
<polygon points="83.7,101.5 88.3,100.2 93.5,98.5 96.4,97.2 94.7,102.2 96,109.6 98.3,116.7 100.7,125.4 102.4,132.2 101.8,140.6 100,147.7 100.9,155 101.7,161.7 100.5,166 96.5,166.5 89.6,165.6 82.3,166.5 75.2,168.3 68,170.1 62.7,172.7 57,174.7 54.4,180 53.4,180.6 52.4,177 50.2,172 44.5,170.9 40.9,168.8 40.3,165.4 42,160.4 42.9,153.4 44.4,148.6 48.4,144.7 54,141.7 55.1,135.9 56.9,128.9 58.5,122.2 62.6,117.4 68.4,113.2 74.3,110.7 80.9,108.7 83.1,104.5" fill="#666666"/>
<path d="M40.3 168.6h0M54.7 137.2h0M104.4 128.8h0M72.9 111.4h0M40 166.9h0M85.2 102h0M58.8 123.4h0M101.8 161.7h0M102 126.5h0M53.2 180.1h0M89.9 97.8h0M103 130.3h0M39.7 161.7h0M93.8 101.3h0M100 150.8h0M52.2 176.2h0M101.7 140.9h0M58.8 173.2h0M40.6 165.8h0M86.6 167.5h0M82.1 167.6h0M45.8 146.7h0M93.3 96.7h0M42.9 153.7h0M100.9 157.9h0M98.1 112.7h0M96 105.8h0M99.5 142.7h0M99.5 123.1h0M96.4 97.7h0M100.9 153h0M95.6 98.9h0M101.8 165h0M40.1 164.3h0M43 154.3h0M100.5 163.3h0M51.5 176.7h0M94.8 167.3h0M95.9 103.9h0M76.6 168.7h0M51.5 145.1h0M66.7 116h0M45.8 148.5h0M89.7 97.8h0M95.9 97.1h0M56.8 178.1h0M72.4 168.1h0M73.5 168.8h0M102.1 131.2h0M83.2 101.2h0M99.9 127.1h0M84.6 101.1h0M56.2 176.5h0M60 116.8h0M65.4 115.7h0M53.6 181h0M92 165.5h0M90.2 99h0M58.3 127.8h0M42 154.9h0M53.9 138.3h0M94.4 97.6h0M98.5 165.2h0M43.5 150.2h0M98.2 166.3h0M77.5 166.9h0M95 99.4h0M76.6 107.6h0M92.7 166.4h0M100.8 158.8h0M49.2 145.1h0M39.5 166.2h0M55.7 174.4h0M54.7 178.8h0M54.5 180.3h0M40.7 163.6h0M100.8 127.2h0M81.7 108.6h0M102.1 157.6h0M55.6 175.3h0M100.5 162h0M95 167.9h0M86.9 165.2h0M55.8 174.9h0M74.3 110.7h0M41.5 158.7h0M96.4 166.3h0M39.9 163.7h0M94.3 97.6h0M44.9 145.9h0M94.1 100.8h0M102.2 159.2h0M51.7 171.2h0M43.4 153.3h0M99.5 167.1h0M100.2 157.9h0M62.6 173.2h0M99.6 148.4h0M63.9 174.1h0M51.6 176.9h0M75.1 169.9h0M48.8 174.8h0M56.5 175h0M101.2 150.5h0M45.1 170.9h0M57 126.3h0M44.5 151.8h0M96.8 99.6h0M41 169.5h0M101.6 164.2h0M100.8 156.4h0M81.6 104h0M65.8 172.3h0M81 109h0M99.9 163h0M66.7 112.6h0M55.6 176.8h0M42.6 156.8h0M97.6 116.6h0M54.6 139.2h0M101.8 161h0M81.3 105.6h0M44.1 150.4h0M84.1 103.7h0M97.3 109.2h0M95.9 98.7h0M99 115.7h0M71.5 169.3h0M68.5 171.8h0M59 118.8h0M44.7 171.6h0M44.7 149.2h0M70.2 169h0M60.6 174.1h0M50.8 175.6h0M82.5 103.7h0M53.6 180.1h0M44 169.7h0M99.7 158.1h0M100.9 165.6h0M98.7 119.4h0M65.5 170.8h0M42.2 160.8h0M101 136.1h0M102.6 139.2h0M99.5 122.1h0M41.5 160.3h0M99.6 119.8h0M57.1 175.2h0M101.3 139.6h0M99.5 151h0M56.6 140.3h0M102.2 162.7h0M99.9 122.9h0M57.4 172.8h0M100.7 160.1h0M96.4 110.1h0M78.3 167h0M68.3 114h0M96.9 110.8h0M100.8 157.6h0M52.6 175.2h0M91.6 166.7h0M43.1 152.6h0M98.8 167h0M57.4 126.6h0M54.3 136.3h0M56 130.2h0M40.6 165.2h0M94.3 100.3h0M81.9 166.5h0M50.3 172.6h0M76.7 166.3h0M48.3 144.7h0M83.9 103.6h0M87.7 100.8h0M55.7 177.8h0M94.9 102.1h0M58 173.8h0M99.6 115.7h0M93.5 98.1h0M80.8 107h0M99.9 126.5h0M41.7 158h0M100.3 161.7h0M41 169.3h0M66.9 113.7h0M100.6 163.1h0M51.1 176.2h0M68.8 171h0M39.8 167.7h0M56.1 175.1h0M101.1 125.2h0M91.4 100h0M96.4 110.3h0M96.7 115h0M95.3 102.4h0M77.2 169.7h0M68.7 115.5h0M41.1 168h0M40 164h0M70 170.6h0M89.1 99.3h0M70.2 169.4h0M56 132.9h0M54.7 137.6h0M87.1 165.5h0M82.3 108.8h0M76.6 166.9h0M100.8 139.2h0M58.5 123.5h0M51.4 175.4h0M42.7 151.9h0M98 117.5h0M41.7 170.8h0M42.5 170.8h0M61 117.9h0M64.2 116.3h0M100.5 144.7h0M44.1 153.9h0M97.2 106.9h0M68 170.1h0M77.3 108.3h0M58.2 124.9h0M63.9 115.4h0M55.3 134.2h0M53.3 181h0M99.9 166.2h0M46.4 172h0M85 101.1h0M90.5 166.4h0M73.2 112.1h0M94.8 168.4h0M101 129.9h0M72.8 110.1h0M43.3 170.4h0M46.1 172h0M82.7 103.8h0M64.1 173.4h0M52 174.7h0M79 167.1h0M41.2 157.5h0M102.1 130.5h0M102.6 135.2h0M101.5 165.7h0M96.4 99.8h0M101.5 158.1h0M47 145.7h0M90.8 164.5h0M86.5 165.2h0M94.5 100.4h0M78.9 109.4h0M84.7 100h0M54 142.2h0M69.7 114.3h0M83 103.5h0M58 125.6h0M98.5 121.5h0M87.4 98.9h0M63.4 171.9h0M71.4 169.5h0M86.6 166h0M82.9 101.7h0M57.7 126.5h0M66.7 113.2h0M60.6 118.9h0M45.8 147.2h0M63.8 172.6h0M95.2 103h0M100.8 154.4h0M90.8 163.3h0M56.5 179.2h0M98 118.8h0M51.6 180.6h0M63.8 172.6h0M49.9 145.7h0M83.5 100.4h0M95.9 105h0M61.4 174.3h0M44.7 152.3h0M102.6 126.3h0M92.1 166.3h0M81.7 165.1h0M84.3 100.6h0M101.3 141.2h0M99.6 146.3h0M78.5 168.7h0M50.5 174h0M101 126.9h0M56.5 176.7h0M43.2 149.3h0M97.2 111.7h0M97.9 109.2h0M44.3 172.1h0M41.2 167.3h0M101.8 161.3h0M43.5 150.4h0M49.2 172.3h0M100.8 127.5h0M83.1 103.3h0M97 116.6h0M40.7 164.6h0M54.1 136.8h0M99.6 166h0M55 181.1h0M97.7 115.5h0M53.4 142.5h0M64.9 171.3h0M46.5 145.8h0M78.4 167h0M88.7 99.5h0M101.7 166.5h0M100.7 164.3h0M83.8 102.5h0M39.9 166.4h0M43.6 150.7h0M96.2 105.5h0M39.3 166h0M81.8 165.8h0M38.2 166.1h0M40.9 160.2h0M95.7 101.6h0M98.2 117.5h0M42.5 154.3h0M95 103.9h0M100.4 146.5h0M94.5 104.1h0M100.6 125.7h0M42.1 170.6h0M94.2 166.3h0M45.6 148h0M101.5 136.4h0M58.5 122.7h0M71.1 168.9h0M53.5 179.7h0M86.8 99.8h0M51.9 176.9h0M60.8 172.3h0M47.7 143.9h0M50.5 171.1h0M90.9 98h0M54.5 177.8h0M79 109.2h0M99.4 164.8h0M64.6 170.5h0M41.4 153.6h0M64 170.6h0M100.4 166h0M66 169.8h0M101 158.6h0M69.8 113.2h0M53.8 138.5h0M63.1 170.3h0M56.3 179.4h0M84.9 102.8h0M39.9 165.3h0M58.9 173.1h0M102.9 134.5h0M101.3 129h0M41.7 157.7h0M95.8 97.2h0M57.2 121.4h0M82.8 166.1h0M84.5 166.7h0M88.2 164.7h0M51.7 144h0M94.1 166h0M54.3 180.4h0M102.5 142.8h0M81.9 103h0M101.5 134.3h0M97.7 117h0M52.3 180.6h0M101.5 163.8h0M44.1 148.5h0M99.5 120.1h0M60.9 120h0M40.1 168.3h0M83.6 102.4h0M53.9 180.1h0M49.6 144.9h0M73.1 111.8h0M97.4 113.2h0M103.3 131.9h0M78.6 111.4h0M40.3 165.9h0M102.6 137.8h0M89.6 164.9h0M69.1 112.6h0M85.3 99.9h0M98 120.2h0M95.7 99.1h0M99.4 155.9h0M102.8 136.1h0M95.3 111.7h0M63.8 116.1h0M101.8 161.8h0M54.2 180.4h0M101.8 154.7h0M97 167.7h0M99.5 165.1h0M44.1 149.3h0M53.9 181h0M98.6 116.9h0M55.3 130.3h0M94.4 100h0M41.2 167.6h0M40.9 169.7h0M55 133.5h0M76.3 110.7h0M42.9 170.3h0M96 98.3h0M62.5 170.6h0M83.5 167h0M46.6 147.2h0M50 175h0M45.2 148.8h0M100.7 164.7h0M49 144.9h0M101.6 132.5h0M85.2 162.6h0M69.1 113.6h0M55.5 174.1h0M57.8 132.8h0M55.4 179.4h0M79.5 107.9h0M41.6 159.3h0M61.2 175.8h0M72.7 168.3h0M101 142.1h0M75.6 110.8h0M98.4 167.8h0M59.5 173.7h0M48.6 173.4h0M81.7 166.4h0M98.9 166.6h0M50.7 171.1h0M76 111h0M56.6 125.8h0M100.9 156.1h0M64.8 172.1h0M64 170.9h0M96.2 99.9h0M102.9 129.5h0M54 134h0M102.9 162.5h0M54.4 179.6h0M101.7 126.6h0M60.2 121.1h0M78.2 108.7h0M71 170.9h0M97.1 114.4h0M40.7 165h0M82.9 101.6h0M68.1 114.1h0M86.4 165.9h0M40.1 165.8h0M95.8 110.2h0M75 111.3h0M100.6 122.7h0M100.6 145h0M41.7 159.5h0M49.1 172.5h0M51.3 173.5h0M45.5 148.5h0M56.5 123.9h0M65.6 117.4h0M55.2 179.3h0M101.9 158.2h0M81 168.3h0M101.1 128.4h0M43.9 150.4h0M55.8 178.9h0M95.5 98.1h0M51.9 177.6h0M75.8 169.3h0M83.9 106.5h0M94.2 98.1h0M58.1 127.1h0M102.2 140.2h0M43 154.6h0M89.8 165.7h0M101.5 142.9h0M56.7 128.7h0M49.3 145.5h0M91.3 167.2h0M54.5 142.1h0M100.9 138.3h0M54.9 132.4h0M51.4 143h0M47.6 145h0M92.1 99.2h0M94.3 103.3h0M41.5 156.3h0M61.3 117.2h0M59.6 126.2h0M97.6 166.6h0M50.8 177.5h0M96.8 167.1h0M90.3 99.6h0M40.1 166.8h0M79.2 108h0M82.5 102.6h0M67.7 172.4h0M57.7 174.3h0M53.3 142.9h0M83.1 104.7h0M51.4 178.3h0M53.8 178.6h0M102.6 141.6h0M96.1 105.6h0M90.7 166.2h0M41.2 166.8h0M87.3 99.8h0M50.9 176.2h0M45.2 172.7h0M90.8 99.7h0M89.6 99.2h0M57.9 132.5h0M95.4 106.6h0M96 106h0M44.7 154.5h0M58.9 123.2h0M47.6 145.2h0M61 119.1h0M91.3 99h0M40.8 159h0M66.1 171.2h0M57 129.7h0M101.7 159.8h0M52.4 175.7h0M85.9 166h0M95.6 107.6h0M100.2 120.5h0M55.9 179.3h0M46.5 147.3h0M101.2 158.2h0M63.4 118.7h0M51.7 173.5h0M39.2 167.5h0M80.7 105.1h0M67.4 169.7h0M58.3 122.3h0M86.5 162.6h0M41.6 169.9h0M99.9 144.2h0M95.2 103.2h0M45 149.8h0M84.6 100.5h0M100.4 161.6h0M100.4 165.6h0M98.3 165.4h0M82.6 165.6h0M55.3 178.4h0M62 170.6h0M91.5 99.5h0M39.3 167.6h0M92.9 97.2h0M101.6 146.2h0M82 102.5h0M57.2 127.6h0M90.6 99.8h0M87.1 99.6h0M48 143.9h0M99.8 128.4h0M57.6 123.3h0M95.7 166.4h0M56.1 131.4h0M68.1 112.6h0M84.9 102.4h0M96.2 166.3h0M95.3 98h0M49.5 144.2h0M100 163.9h0M95.2 165h0M64.7 116.1h0M96 110.7h0M96.1 102.3h0M93.8 96.5h0M81.4 105.8h0M88.7 167.3h0M84.3 103.2h0M54.9 138.5h0M94.2 165.4h0M83.7 101.7h0M85.6 100.2h0M95.1 104.4h0M102.1 139.7h0M56.8 127.6h0M86.7 98.8h0M101.6 136.3h0M90.5 100.4h0M87.6 101.1h0M96.7 166.4h0M54.6 139h0M100.8 158h0M81.4 105.1h0M102 163.8h0M96.6 109.4h0M102.1 125.5h0M48.9 172.6h0M102 130.8h0M98.8 120.3h0M73.8 168.1h0M99.1 166h0M101.7 156.4h0M55.9 178.5h0M75.2 111h0M65.6 114.8h0M50.9 175.3h0M53.9 179.1h0M62.1 117.3h0M59 120.9h0M96.3 96.6h0M65.7 115.2h0M45 146.7h0M40.9 164.1h0M41.5 162.7h0M53.3 142.9h0M52.9 141.8h0M60.7 173.3h0M101.4 150.7h0M71 169.5h0M92.3 99.5h0M100.5 144.4h0M52 142.4h0M97 167.2h0M100.7 140.7h0M93.9 96.7h0M53.6 179.9h0M72.4 111.3h0M40.1 168.6h0M51.3 176h0M47.4 144.1h0M100.6 132.2h0M40.3 166.5h0M95.5 102.6h0M94 165.4h0M76.6 167.7h0M100.9 153.8h0M74.3 110.5h0M99 118.7h0M84.5 164.9h0M66.6 172.2h0M100 153.4h0M74.1 110.9h0M96.9 166.1h0M95.2 101.8h0M49.6 173.1h0M98.6 126.3h0M41.8 160h0M46 171.8h0M44.2 170.7h0M97.5 112.3h0M99.2 118.8h0M96.8 107.7h0M101.1 123.2h0M56.2 125.7h0M56.6 175.5h0M44.8 170.9h0M84.2 103.1h0M53.7 178.7h0M48.3 145.9h0M100.5 167h0M81.7 103.4h0M95.9 110.1h0M100.5 126.6h0M80 109.6h0M40 166.2h0M96.7 166.8h0M67 169.6h0M54.9 179.3h0M96 105.7h0M40.2 163.9h0M39.9 164.1h0M45.5 150h0M78.7 166.1h0M44.6 149.3h0M101.5 136.3h0M49.5 144.4h0M58.2 174.3h0M95.3 106.4h0M59.5 173.9h0M100.4 150.9h0M44.3 151h0M75.8 169.2h0M51.7 141.2h0M44.3 148.7h0M94.8 101.9h0M52.6 177.3h0M61.8 119.2h0M96.3 113h0M99.6 122.4h0M42.9 156.8h0M54.2 179.5h0M102 146.2h0M97.5 111.3h0M100.7 141.5h0M98.7 125.1h0M83 106.4h0M56.3 176.1h0M45.4 148.9h0M97 166.1h0M72.6 111.4h0M98 111h0M58.8 124.9h0M77.3 166.7h0M68.2 171h0M98.8 149h0M95.4 107.9h0M84.2 104.2h0M56.6 173.8h0M47.9 146.6h0M96.1 107.9h0M100.3 129.2h0M50.4 143.8h0M53 180.3h0M96.5 108.6h0M66.1 171.6h0M73.7 167.2h0M94 166.7h0M95.1 107.6h0M41.4 162.5h0M53.5 180.6h0M76.4 167.7h0M95.1 97.2h0M71 169.7h0M65.4 170.2h0M86.6 168h0M94.6 100.4h0M97.9 166.7h0M55.7 131.2h0M100.7 164.7h0M70.6 113.9h0M51.5 174.5h0M67.3 115.2h0M55.5 132.4h0M101.6 139h0M81.8 101.5h0M96.1 103.4h0M65.2 171.3h0M45.3 152.9h0M52.2 177.3h0M97.1 166.6h0M58.6 120.7h0M101 142h0M44.9 170.8h0M101.2 137h0M59 122.4h0M42.7 151.8h0M57.6 130.3h0M102.4 138.5h0M53 179.7h0M57.8 175.6h0M100.8 126.5h0M53 180.5h0M82 106.1h0M100.8 129.7h0M55.1 178.8h0M100.8 156.7h0M82.6 167.1h0M77.9 108.7h0M51.8 174.5h0M95.1 101.1h0M54.5 175.4h0M90.3 100.8h0M52.6 142h0M44.4 148.7h0M101.8 134.3h0M69.9 169.7h0M100 145.4h0M67.3 169h0M63.5 172h0M94.3 102.9h0M58.1 176.8h0M98.4 166.1h0M95.8 98.2h0M97.4 116.4h0M55.4 138.6h0M58.2 121h0M44.5 170.7h0M63.2 171.2h0M46.2 171.5h0M56.9 128.1h0M64.2 116.4h0M89.9 164.1h0M43.4 163h0M53.9 142h0M45.9 149.4h0M72.1 113.1h0M100.8 157.7h0M41.5 162h0M42 170.2h0M60.8 121.3h0M101.5 133.3h0M53.4 141.2h0M41.9 171h0M83 105.1h0M43.3 150.4h0M96.1 97.8h0" stroke="#666666" stroke-width="1.6" stroke-linecap="round" fill="none"/>
<path d="M87.1 153.7h0M65.8 146.9h0M71.8 142.2h0M69 131.5h0M83.2 106.5h0M87.6 142.5h0M51.7 159.7h0M90.4 137.2h0M93.6 112.8h0M61.1 140.1h0M85.4 134.6h0M59 169.5h0M64.6 132.2h0M84.2 127.4h0M81.4 138.3h0M58.2 142.7h0M49.8 168.2h0M57.1 139.8h0M96.5 134.3h0M54.8 147h0M74.4 123h0M86.6 148.6h0M96.8 147.8h0M84 164.8h0M57.8 136.2h0M94.5 143.9h0M86.5 161h0M57.5 148.8h0M63.6 136.8h0M73.2 152.8h0M50.7 167.1h0M87.6 110.7h0M61.8 158.8h0M92.7 111.5h0M75.4 141.1h0M78.4 124.3h0M88 145h0M91.7 104.5h0M92.9 139.5h0M79.6 117.1h0M83.5 131.1h0M85.1 145.9h0M79.5 142.7h0M84.7 124.6h0M69.9 137h0M86.8 103.3h0M72 118.8h0M76.9 118.8h0M95.9 127.5h0M95 158.5h0M57 143.4h0M72.5 138.5h0M82 121.3h0M96.8 149.1h0M44.8 165.5h0M95.3 122.6h0M92.3 117.9h0M90.1 154.5h0M99.9 145h0M86 153.1h0M65.1 138.8h0M71.8 115.2h0M56.5 167.6h0M92.9 155.4h0M83.1 139.7h0M75.9 152.8h0M56.1 165.9h0M42.3 163.8h0M56.2 174.9h0M63.4 134.8h0M99.4 142.6h0M82.6 106.4h0M46.8 165.9h0M55.8 177.1h0M82.4 113.2h0M84.4 123.7h0M92 162.9h0M76.4 154.8h0M60.5 158.9h0M55.2 136.8h0M95.5 107.9h0M86.8 163.5h0M59.9 142.4h0M59.5 132.4h0M59.9 151.6h0M95.1 154.7h0M85.2 139.4h0M93.1 106.1h0M77.4 162.8h0M88.5 153.3h0" stroke="#fff" stroke-width="0.9" stroke-linecap="round" fill="none"/>
<path d="M79.1 116.3h0M80.8 118h0M82.6 119.8h0M78.2 121.5h0M79.9 123.3h0M82.6 116.3h0M84.3 114.5h0M87.8 112.8h0M94.8 137.3h0M96.6 138.2h0M93.1 139.1h0M95.7 146.1h0M65 149.6h0M58 157.4h0M59.8 156.6h0M47.5 167.1h0M51.9 172.3h0M54.5 177.6h0M51 165.3h0" stroke="#fff" stroke-width="2.0" stroke-linecap="round" fill="none"/>
<polygon points="97.8,31.9 104.3,27.8 112.6,26.7 120.9,27.8 127.4,31.1 130.6,35.2 136.1,42.4 143.4,46.1 150.3,49.6 156,53.5 157.5,58.9 156.7,65.2 154.1,68.7 152.8,74.4 153.1,81.4 151.5,87.9 148.3,91.9 145.8,94.1 142.3,91.7 138.1,88.4 134.4,83.8 129.7,82.8 126.6,85.6 125,86.7 122.2,83.8 117.9,81.8 111.8,83.8 108.1,87.4 103.4,90.6 101.2,90.9 100,86.5 99.2,79.8 99.9,72.2 96.3,69.6 91.9,69.6 88.9,68.1 86.9,66.4 88.1,63.4 90.4,62.9 94.9,65.5 100.7,63.1 100.7,58 95.3,55.2 93.9,49.7 93,43 93.8,36.6" fill="#136ea3"/>
<path d="M128.6 30.7h0M117 83.7h0M93 44.5h0M154.9 67.4h0M149.9 89.9h0M89.7 68.1h0M130.7 37.2h0M90.2 63.8h0M155.2 57.9h0M152.3 51h0M91.2 61.4h0M98.1 56.9h0M100.6 86h0M94.1 43.5h0M156.8 58.6h0M115.4 84.5h0M100.9 59.3h0M127.1 84.2h0M89.5 62h0M147 92.4h0M99.5 28.9h0M155.1 54.6h0M90.1 62.1h0M98.6 86.9h0M93.5 45.9h0M140.1 90.6h0M148.2 91.8h0M132.1 82h0M121.3 83.9h0M93.5 41.2h0M126.1 85.1h0M112.3 83.1h0M125.3 86.6h0M153.6 67.6h0M94.8 54.3h0M133.4 83h0M97.1 33.2h0M95.2 40.5h0M109.5 27.4h0M105 88.2h0M101.7 57.5h0M157.4 60.3h0M87.8 68.6h0M120.4 27h0M128.5 32.4h0M138 86.8h0M128.4 85.2h0M153.3 51h0M143.8 91.1h0M144.5 46.4h0M100.9 88.6h0M93.8 50.6h0M124.7 84.8h0M86 65.2h0M94 56.7h0M113.5 26.9h0M118.8 80.6h0M151.4 81.1h0M150.9 50.3h0M121.5 82.2h0M99.4 75.2h0M87.5 65.2h0M155.8 57h0M155.7 53.7h0M152.6 51.1h0M97.7 50.5h0M136.1 85.3h0M120.2 27.1h0M128.2 31.9h0M128.7 33.7h0M101.5 58.3h0M153.9 81.7h0M158.1 56.9h0M120.3 83h0M113.1 85.4h0M156.1 66.7h0M94.7 69.5h0M154.4 71.6h0M123.1 83.3h0M128.9 35h0M116.4 81.8h0M146 93h0M106.4 88.3h0M115 83.3h0M112.2 83.1h0M112.3 84.2h0M153.9 71.2h0M156.3 66.1h0M129.9 37.7h0M128.8 35.5h0M113.7 26.2h0M134.6 84.2h0M90.5 65.6h0M125 88.4h0M95.2 43h0M96.3 65.6h0M153.2 68.6h0M101.1 81.6h0M97.2 32.5h0M137.9 86.7h0M128.8 83h0M96.9 69h0M91.2 71.3h0M99.4 76.3h0M127.1 84.6h0M102.1 89.1h0M119.6 81.7h0M91 63.2h0M131.4 83h0M88.4 62.6h0M92.5 40.7h0M127.8 85.3h0M130.3 83.3h0M146.9 46.3h0M148.6 47.1h0M115.7 83.5h0M126.7 87.8h0M116.1 28h0M156.2 67.3h0M126.6 86.8h0M132.6 37.1h0M93.5 45.2h0M125.3 30.6h0M102.7 89.5h0M151.8 51h0M100.6 87.1h0M93.7 42.6h0M95 64.9h0M121.8 26.9h0M127.6 31.5h0M156.3 65.6h0M151.3 70.6h0M128.5 84.6h0M90.3 67.7h0M97.7 69.4h0M152.2 82.1h0M99.2 85.4h0M146.6 93.7h0M87.1 67.6h0M126.9 86.3h0M96.6 34h0M141.7 94.8h0M95.2 33.4h0M154.8 53.3h0M97.6 56.8h0M142 90.2h0M93.8 41.8h0M157.3 54.4h0M96.6 69.4h0M101 79.1h0M127.9 32.4h0M150.4 85.2h0M92.7 44.7h0M147 46.5h0M92.8 38.9h0M99.5 62.6h0M96 31.9h0M131.8 81.6h0M124 85.6h0M142.2 93.1h0M100.9 85.3h0M157.5 55.9h0M87.8 64.6h0M102 90.1h0M100 58.1h0M87.1 65.9h0M144.8 93.3h0M99.2 83.7h0M96.3 56.9h0M101.6 30.9h0M100.7 72.9h0M153.7 79.1h0M96.2 66h0M123.8 85.8h0M124.8 86.9h0M137 89.3h0M94.4 50.1h0M151.2 51.1h0M98.6 31.9h0M95.2 55.5h0M112 27.2h0M94 41.6h0M142.1 90.1h0M132.8 83.9h0M93 39.7h0M116.2 85.5h0M103.7 89.6h0M155.7 59.2h0M116 80.7h0M122.4 82.9h0M89.4 68.9h0M139.7 86.8h0M136.1 87.7h0M101.7 28.2h0M130.2 35.7h0M87.9 68.2h0M87.4 63.5h0M128.2 85.8h0M121.6 82.4h0M138.3 44.6h0M93 63.7h0M97 68.9h0M122.7 83.2h0M109.9 87.1h0M157.3 58.5h0M96.8 68.1h0M101.7 88.8h0M157.3 66.4h0M87.1 65.5h0M153.8 69.8h0M97.2 56.3h0M133.5 84.1h0M95.7 53h0M149.6 89.8h0M129.6 84.5h0M154.4 67.5h0M98.2 56.3h0M118.7 80.5h0M148.7 48.3h0M102.2 59.6h0M96.5 34.9h0M128.9 81.5h0M152.9 73.2h0M128 32.7h0M86.6 67.4h0M107.9 87.1h0M110.8 86h0M108.5 85.7h0M99 81.5h0M118.9 28.3h0M93.5 49.4h0M100.9 60.4h0M140.9 90.9h0M154.8 53.7h0M142.4 91.4h0M110.8 85.6h0M120.1 26.4h0M86.8 63.2h0M112.7 81.8h0M88.5 64.2h0M104.3 90h0M153.3 72.8h0M94.7 65.6h0M152.6 68.8h0M99.5 85.7h0M143.8 93.3h0M98.9 88.2h0M95.9 69h0M100.1 76.6h0M112.7 81.9h0M146.7 94.4h0M149.7 90.1h0M88.2 67.1h0M93.1 42.3h0M142 46.7h0M89.8 61.9h0M142.1 46.5h0M90.3 68.1h0M154.5 72.7h0M88.2 67.5h0M98.2 32.6h0M155.8 64.3h0M137.6 43.9h0M99 89.3h0M147.4 92.6h0M113.7 83.7h0M149.1 48.1h0M130.9 34.7h0M93.9 46.2h0M88.5 65.5h0M107.5 87.6h0M123.1 28.8h0M156 53.8h0M93.6 49h0M141.2 46.7h0M157.3 55.7h0M124.6 31.2h0M153.3 53.6h0M107.2 88.5h0M141.9 46.8h0M103.3 91h0M156.5 66.1h0M89 69.1h0M153 80.4h0M155.4 67.9h0M125.1 86.8h0M96.2 53.9h0M157.1 56.5h0M94 39.1h0M101.2 57h0M107.9 85.5h0M135.8 84h0M134.8 83.2h0M121.2 27.9h0M156.4 57.7h0M112.7 82.5h0M90.5 67.2h0M133.8 37.8h0M96.9 34.9h0M95.2 50.7h0M96 51.4h0M98.5 81.7h0M99.3 58.8h0M123.6 84.7h0M89.1 68.1h0M152.8 77h0M93.9 70.8h0M88.2 66.2h0M112.3 83h0M129.2 83h0M94 69.6h0M140.9 43.3h0M115.5 82.8h0M113.5 84.1h0M126.1 35.1h0M95.9 67h0M86.7 63.3h0M99.5 78.6h0M125.7 30.8h0M98.4 71.2h0M123.4 86.2h0M135.5 43.6h0M158.3 65.4h0M93.5 35.6h0M94 69.4h0M106.6 87h0M108.8 85h0M93.3 43.8h0M150.2 92.3h0M131.5 82.8h0M95.8 56.5h0M89.1 63h0M155.7 65.9h0M159 60.2h0M96.9 63.3h0M94 45.6h0M109.9 26.6h0M139.5 45.6h0M136.8 42h0M99.6 74.8h0M93.7 70.3h0M92.7 64.2h0M120.5 82.4h0M141.6 44.8h0M106.9 27.9h0M128.7 32.9h0M107.6 88.1h0M88.3 64.5h0M147.7 94h0M155.3 67.1h0M149 92.3h0M155.9 66.4h0M151.5 87h0M144.9 46.5h0M151.9 81.7h0M109.2 88.2h0M125.5 30.1h0M93.6 51.6h0M93.6 39.1h0M115.1 80.7h0M99 89.1h0M129.1 84.6h0M110.5 83.4h0M107.6 89.4h0M145.7 93.7h0M113 26.9h0M135.2 83.3h0M88 68.7h0M121.4 28.3h0M143.9 91.1h0M102.4 89.6h0M128.8 36.3h0M98.9 31.5h0M125.3 85.2h0M147.7 93.4h0M140.4 44.6h0M139.5 91.1h0M120.4 28.6h0M153.3 76.8h0M94.4 68.8h0M125.3 85.1h0M101.8 90.9h0M122.6 84h0M103.5 90.3h0M156.4 63.5h0M93.4 42.5h0M151.8 49h0M99.9 58.1h0M96.6 35h0M93.8 48.6h0M127.8 84.7h0M105 90.2h0M152.2 79.7h0M149.9 50.1h0M92.8 65.8h0M115.5 82.7h0M99.4 83.4h0M139.9 45.3h0M98.2 77.6h0M151.7 86.9h0M107.5 88.1h0M142 89.8h0M144.8 91.8h0M110.8 27.4h0M93 64.5h0M127.5 32.5h0M155.2 68.9h0M103.1 28.6h0M153.5 53.3h0M107.9 88.6h0M157.5 64.7h0M102.1 62.3h0M154 68h0M139.4 46.2h0M104.4 91.7h0M124.4 85.4h0M148.3 49h0M144.6 45.4h0M93.9 49.7h0M100.4 61.6h0M125.3 29.1h0M98.1 71.2h0M94.1 50.7h0M124.8 87h0M98.3 32.3h0M157.7 58.4h0M141.9 90.8h0M140 89.8h0M142.5 94.8h0M132.4 82.2h0M156.6 60.7h0M86.6 66.6h0M147.1 95.1h0M108.8 87h0M93 68.2h0M92.6 65.7h0M109.9 85.2h0M102.1 91.5h0M117.3 28.5h0M110.4 84.1h0M88 64.2h0M132.6 83.6h0M99.2 88.7h0M128.2 32.9h0M104 90.4h0M109.4 85.2h0M152.4 74.9h0M123.5 84.2h0M86.5 63.9h0M86.3 64.2h0M93.2 45.1h0M147.1 92.8h0M94.6 70h0M93.1 71.2h0M154.9 68.1h0M151.5 87.2h0M138.5 90.2h0M156.7 56.6h0M96.1 54h0M156.5 64.2h0M152 79.7h0M88 69.2h0M134.9 82.1h0M125.2 86.1h0M103.2 92.1h0M108.5 29.9h0M115.7 82.4h0M104.5 29.1h0M105.9 88.5h0M108.6 86h0M108.5 87.4h0M152.6 50h0M152.2 87.3h0M111.2 83.6h0M94.2 49.9h0M100.5 90.2h0M99.9 88.9h0M145 93.8h0M100.2 57.2h0M153.3 82.2h0M151.8 49.1h0M105.7 88.9h0M146.8 94h0M126.7 30.3h0M107.3 87.3h0M98.7 71.9h0M153.1 76.7h0M126.6 29.7h0M152.7 50.2h0M133.9 40.1h0M149.1 90.7h0M98.5 65.1h0M88.1 63h0M94.6 37h0M155.1 57.4h0M137.4 87.8h0M143.2 45.9h0M111.9 83.2h0M158.6 64h0M106.3 86.8h0M121.9 84.2h0M109 86.8h0M96.7 64.2h0M149.2 50.1h0M112.3 85h0M94.2 48.6h0M93.2 36.2h0M115.1 82.7h0M89.1 62.8h0M99.2 78.4h0M95 37.3h0M133.3 40.5h0M97.3 56.5h0M143.3 92.4h0M107.5 89.7h0M101.3 90.3h0M92.4 65.1h0M125.9 85.2h0M143.7 92.3h0M115.3 81.9h0M106.4 89.4h0M90 64.9h0M129.2 33.5h0M146.9 48.4h0M107.5 27.1h0M122.7 86.2h0M137.5 87.4h0M147.4 93.2h0M153.8 79.9h0M102.2 29h0M110.4 84.1h0M89.5 68.9h0M159 63.1h0M125 88h0M131.7 37.4h0M91.8 68.7h0M118.3 80.8h0M153.4 77.9h0M93.5 65.6h0M109.7 83.8h0M93.6 47.2h0M106.5 89h0M88.5 68.7h0M126.5 33.8h0M91.8 69.5h0M98.3 80.9h0M126.2 85.3h0M129.2 32.5h0M88.1 64.7h0M138.3 90.3h0M94.5 44.5h0M154.1 53h0M116.7 27.9h0M94.9 50.4h0M106.4 87.8h0M100.3 84.7h0M100.9 29.4h0M157.2 61.4h0M88.6 63h0M151.7 79.2h0M90.8 63h0M108.8 87.2h0M98.8 77.6h0M100.1 88h0M98.4 82.2h0M94.4 52.7h0M127.4 85.9h0M86.6 67.7h0M108.4 89.1h0M88.8 67.9h0M96.9 32.7h0M156.7 61.1h0M88.8 63.2h0M97.2 71.7h0M94.1 42.3h0M92.8 64.3h0M96.1 34.6h0M147.9 92.8h0M90.4 68.9h0M112.3 83.8h0M157.1 62.5h0M88.6 63.2h0M89.1 68h0M136.9 86.1h0M127.3 84.7h0M136.4 85h0M102.1 31.3h0M149.2 50.1h0M133.5 83.1h0M95.4 69.9h0M107.2 89.5h0M98.4 70.8h0M147.5 94.1h0M138.6 87.4h0M99.7 60h0M152.9 50.9h0M95.4 54.3h0M91.4 62.4h0M154.1 69.6h0M126.9 32.1h0M100.1 30.5h0M89.6 68.5h0M127.1 86.1h0M136.7 84.7h0M93.5 42.8h0M151.3 74.6h0M92.8 42.2h0M128.1 84.2h0M92.9 46.9h0M154.2 67.9h0M137.2 85.4h0M102.4 88.8h0M152.6 49.2h0M138.6 89.4h0M96.9 33h0M144.4 93.5h0M128.1 84.2h0M100.3 72.7h0M130.2 82h0M151.9 87.6h0M98.4 71.4h0M132.2 37.2h0M154.1 72.8h0M154.1 77.8h0M108.9 86.5h0M152.8 78.2h0M152.2 82.8h0M113.6 84h0M127.7 84.5h0M156.9 57.1h0M98.9 85.4h0M146.8 92.5h0M117.6 83.3h0M128.7 87h0M101.3 90.4h0M128.6 84.4h0M97 64.3h0M99.3 83.7h0M93.3 51.2h0M94.9 49.5h0M151.8 80.9h0M120 83.3h0M130.4 33.8h0M88.5 65.2h0M102.6 60.3h0M147.3 93h0M92.8 46.5h0M100.3 71.2h0M102 89.6h0M153.6 53h0M130.2 83.6h0M153.4 71.6h0M119.1 27.1h0M92.6 68.9h0M157.8 57.2h0M92.4 40.6h0M127.1 30.4h0M88.3 63.1h0M98.5 69.9h0M101.7 91.5h0M94.4 69h0M145 94.9h0M93.2 51.7h0M110.7 25.9h0M113 84.8h0M156.3 66.8h0M139.8 90.6h0M99 72.3h0M100.9 61.6h0M120.2 83.6h0M146 94.4h0M87 63.8h0M126.5 85.6h0M123.9 29.8h0M102.6 89.7h0M136.2 85.8h0M136.4 42.2h0M94.1 54.1h0M125.6 86h0M93.3 61.9h0M130.5 81.6h0M151.5 51.8h0M126.8 31h0M144.3 92.9h0M91.8 38.4h0M131.2 35.5h0M88.7 67.1h0M143.8 93h0M124.7 85.6h0M152.9 82.6h0M155.7 53.1h0M95.9 57.3h0M89 65.4h0M151.9 87.3h0M151.2 89.5h0M150.7 75.9h0M140.3 45.2h0M100.3 31.9h0M85.6 63.4h0M101.3 29.6h0M131.9 35.8h0M157 52.7h0M153.7 65.7h0M100 75.5h0M101.1 87.7h0M99.5 87.6h0M88.7 67.5h0M98.4 30.6h0M116.7 83.9h0M103.3 90.1h0M107 85h0M96.1 65.8h0M97.4 64.9h0M101.9 90.8h0M125.5 86.9h0M88.4 65.4h0M120.5 83.6h0M131.8 35.4h0M111 84.9h0M153.2 68.1h0M103.2 90.9h0M126.7 87h0M156.7 59.7h0M93.3 68.8h0M121.9 27.8h0M98.1 66h0M152.7 72.5h0M155.2 52.6h0M97 69.2h0M156.4 58.7h0M97.9 72.2h0M101.3 63.6h0M111.2 26.3h0M97.2 55.7h0M145.1 46.5h0M122.6 83.6h0M123.3 85h0M151.2 78.1h0M146.6 48.4h0M151.7 50.6h0M146.7 47.6h0M145.7 91.7h0M92.1 69.2h0M94.7 35.7h0M151.4 80.3h0M139.5 90.1h0M150.1 89.3h0M155.5 53.5h0M141.9 43.9h0M87.4 65.9h0M146.6 94.2h0M150 90.1h0M115.4 84.3h0M155.1 52.1h0M107.5 87h0M128.1 83.7h0M89 63.8h0M122.9 30h0M111.2 26.1h0M128.7 35.7h0M142.8 92.9h0M145.2 94.5h0M93.5 50.2h0M154 52.7h0M91.9 63.8h0M115 28.1h0M118.4 26.7h0M102.5 89.8h0M108.3 87.7h0M114 26.4h0M125.8 84.6h0M109.3 27.6h0M154.4 73.7h0M88 68.9h0M87.2 67.2h0M157.3 55h0M101.2 62.3h0M106.7 90.5h0M94.8 37.3h0M93.6 45.5h0M99.6 73h0M146.1 94.2h0M135.8 86.6h0M113.1 82.9h0M148.3 47.3h0M93.7 51h0M88.5 69.3h0M88.1 68.4h0M86.8 66.7h0M101.1 60h0M153.2 73h0M102.3 58.2h0M102.4 63h0M123.4 84.8h0M132.7 37.9h0M95.3 35.3h0M97.8 65.3h0M97.5 69.9h0M155.3 68.9h0M88.5 64.4h0M96 70.6h0M101.7 91.9h0M98.1 71.6h0M103 91.1h0M114.8 82h0M95.3 69.2h0M94.4 67.8h0M106.8 28h0M104.1 90.4h0M147.3 92h0M138.2 87.7h0M134.1 39.9h0M98.9 73.8h0M96.4 33.9h0M107.4 29h0M93.2 41.6h0M133.8 84.1h0M136.5 42.1h0M157.1 65.1h0M152.9 80.2h0M146.3 91.9h0M153.2 86.3h0M102.2 90.1h0M109.1 25.9h0M101.6 74h0M101.6 90.6h0M88.2 67h0M91.5 63h0M107 26.6h0M154.7 52.1h0M94.5 71.5h0M101 60h0M111.9 81.3h0M124.4 86.7h0M131.2 39.5h0M153.9 70.2h0M109.5 86h0M119.2 28h0M103.4 90h0M99.9 83.2h0M87.5 64.6h0M100.7 90.6h0M154.5 53.1h0M128.3 31.5h0M130.9 81.1h0M145.2 93.5h0M155.1 54.1h0M139.9 44.1h0M90.8 68.9h0M127.3 84.9h0M155.8 58h0M151.5 74h0M151.2 88.5h0M151.9 67h0M149.3 89.6h0M111.2 84.1h0M99.3 85h0M122.4 29h0M146.3 92.2h0M99.5 62.7h0M89.4 63.4h0M156 56.8h0M96.7 65.7h0M99 74.3h0M134.7 84h0M122.9 85.3h0M92.7 65.6h0M103.1 92.6h0M152 86h0M146 92.6h0M96.9 56.3h0M104.8 27.3h0M156 55.7h0M142.5 91.8h0M124.7 86.8h0M98.8 81h0M98.4 71.7h0M153.3 73.5h0M125.7 85.6h0M92.3 40.7h0M101.5 61.8h0M123.8 82.9h0M92.5 41.6h0M143.8 92.4h0M157.1 59.9h0M151.9 81.3h0M106.6 88.4h0M93.3 46.1h0M152.8 83.3h0M101.7 91.4h0M139.4 43.2h0M100.1 76h0M158.9 58.9h0M154.2 66h0M92.5 63.8h0M128.4 80.9h0M100.2 60.6h0M104.7 28.2h0M94.4 47.3h0M93.6 53.5h0" stroke="#136ea3" stroke-width="1.6" stroke-linecap="round" fill="none"/>
<path d="M148.5 73h0M152.4 79.4h0M134.4 40.8h0M95.2 49.7h0M111.8 82.2h0M103.9 84.6h0M121.3 51.8h0M110.8 29.9h0M100.1 71.1h0M98.9 56.1h0M97.5 32.8h0M121.1 63.2h0M111.9 31.5h0M125.9 37.8h0M132.7 71.7h0M129.6 40.3h0M111.2 40.2h0M98.7 40h0M122.2 40.5h0M101.1 37.9h0M120 64.3h0M136.3 84.6h0M95.2 35.6h0M95.4 51.1h0M116.2 71h0M153.1 55.6h0M127.7 54.4h0M113.9 44.5h0M137.9 80.5h0M135.3 56.4h0M115.9 39.4h0M128.4 53.9h0M124.7 59.9h0M107.6 54.8h0M119 41.6h0M119.4 57.7h0M122.2 58.6h0M108.3 30.3h0M109.8 50.1h0M94.2 67.1h0M102.4 62.5h0M122 69.6h0M150 73.2h0M146 71.3h0M102.7 81.5h0M140.2 59.5h0M151 50.8h0M125.2 80.4h0M117 34.8h0M152.7 60.8h0" stroke="#fff" stroke-width="0.9" stroke-linecap="round" fill="none"/>
<path d="M112.6 56.2h0M114 57h0M111.7 57.9h0M114.7 55.6h0M105.9 36.9h0M106.6 35.7h0M139.7 85.1h0M141.5 86h0M143.2 84.2h0M138.8 86.8h0M145 86.8h0M142.3 82.4h0M151.1 72.8h0M152 74.6h0M112.6 51.8h0" stroke="#fff" stroke-width="2.0" stroke-linecap="round" fill="none"/>
<path d="M107.1 130.8h0M103.5 115h0M101.3 138.9h0M102.8 139.7h0M102.6 98.4h0M112.8 109.2h0M101.2 158.9h0M98 115h0M108.8 138.7h0M104.3 144.3h0M100.6 162.6h0M101.1 120.1h0M107.7 146.9h0M103.8 108.5h0M103.7 169.6h0M103.4 145.5h0M99.3 105.4h0M110.8 151.5h0M105.1 130.6h0M105 105.5h0M107 143.4h0M105.5 136.7h0M110.8 138.9h0M110.8 142.1h0M105.3 120.8h0M107.3 99.5h0M106.6 125.5h0M109.1 152.5h0M106.9 135.2h0M107.2 147.2h0M104.6 106.1h0M107.5 123.5h0M101.4 114.5h0M109.4 121.9h0M105.4 99.8h0M103.3 168h0M107.9 117.7h0M104.1 130.6h0M106.9 161.6h0M110.9 149h0M100.6 165.4h0M109.1 110.4h0M104.5 169h0M103.8 155.1h0M101.1 118.4h0M108.3 101.6h0M104.2 130.3h0M105.4 159.3h0M103.3 112.5h0M104.3 137.7h0M98.6 109.5h0M105.1 131h0M102.6 110.6h0M106.5 125h0M103.5 120.4h0M104.9 135.5h0M108.9 122.3h0M104.1 99.5h0M102.6 105.5h0M105.2 131.6h0M103.3 150.7h0M103.5 143.1h0M106.4 135.4h0M105.9 141.2h0M103.3 122.1h0M104.7 149.4h0M102.4 113.7h0M107.9 142.9h0M105.3 152.1h0M105.5 155.6h0M113.1 148.3h0M104.9 131.1h0M105 127.6h0M110.5 120.6h0M108.7 148.9h0M108.4 153.2h0M106.7 143.5h0M107.3 106.5h0M111 143.1h0M100.7 116.1h0M100.5 122.2h0M103.4 144.4h0M99.9 153.7h0M101.3 145.8h0M99 141h0M103.6 147.3h0M104.9 137.7h0M106.9 113.2h0M107.7 162.4h0M105.1 121.3h0M107 120.5h0M109.4 169.5h0M104.4 119.6h0M104.5 105.2h0M101.6 120.1h0M105.7 146.1h0M99.9 146.6h0M107.5 115.9h0M105.9 114.2h0M104.8 99.1h0M109.3 158.4h0M104.3 169.3h0M111.3 98.5h0M109.2 148.2h0M106.3 162h0M102.5 153h0M102.9 108.6h0M105.5 102.6h0M101.7 110.7h0M104.5 135.7h0M107.9 145.8h0M106.8 108h0M103.8 161.4h0M105.3 112.4h0M112 167.4h0M102.5 117.6h0M105 168h0M104.4 147.5h0M107.2 104.7h0M105.9 122.4h0M110.7 120.8h0M103.3 156.1h0M109.5 125.4h0M105.8 102.5h0M109.6 169.7h0M103.2 143.7h0M104.3 131.8h0M104.3 162.5h0M101.2 130.6h0M103.9 123.1h0M107.7 110.6h0M105.7 103.7h0M110.6 169.7h0M107.3 147.9h0M106.6 159h0M103.6 124.8h0M106.9 118.8h0M103.6 135.4h0M105.9 150h0M107.9 154.6h0M110.1 122.6h0M105 131.2h0M101.8 164h0M103.3 138.4h0M109 129.6h0M104.6 99.1h0M103.8 97.8h0M108.8 129.1h0M107.4 161.5h0M107.2 163.8h0M108.7 132.5h0M108.3 100.9h0M104.3 128h0M109.3 138.6h0M109.5 141.6h0M107.3 110.8h0M98.7 162.1h0M102.4 142h0M100.2 130.1h0M104.8 148.6h0M102.7 150.6h0M108.4 139.7h0M103 122.6h0M103.6 144.8h0M102.2 124.7h0M106.6 118.2h0M100.9 111.2h0M100.8 144.4h0M101 145.4h0M104.6 126.2h0M108.5 135h0M105.7 143h0M109.7 144.7h0M103.4 122.6h0M106 161.6h0M103.9 132.7h0M100.8 136.6h0M106.9 169.7h0M106.3 140.4h0M106.3 113.5h0M107.1 135.6h0M116.8 118.4h0M104 115.4h0M107.2 106.8h0M110.7 123.3h0M104.7 104.9h0M112.1 103.9h0M104.5 160.4h0M96.7 129.2h0M102.6 128.8h0M109.7 114.4h0M105.7 161.3h0M106.6 121.4h0M112 155.9h0M103.8 139h0M98.2 123.3h0M105.3 104.5h0M107.8 118.8h0M103.1 97.5h0M110.9 133.6h0M103.6 147.6h0M105.4 112.1h0M105.4 161.1h0M103.6 119.8h0M107 111.9h0M106.5 106.6h0M102.2 124.4h0M113.3 125.7h0M105.5 103.4h0M104.2 160.5h0M104.6 110.4h0M107.3 151.3h0M108.7 149h0M105 130.7h0M106.3 121.8h0M108.2 115.3h0M105.9 125.2h0M104.2 150.6h0M113.6 141.9h0M107.2 144.6h0M106.3 158.6h0M107.5 168.2h0M111.4 111.6h0M106.1 102.6h0M104.3 158.4h0M104.7 158.6h0M105.1 134.5h0M107.2 151.7h0M110.4 106h0M106.7 124.6h0M106.2 136h0M106.6 118.9h0M111.4 150h0M101.8 134.4h0M103.8 131.2h0M103.2 137h0M102.4 159.2h0M107.2 169.2h0M104.9 119.3h0M99.2 102.4h0M106.1 152.8h0M109.2 150.6h0M110.3 118.8h0M102.7 101h0M102.7 160.5h0M105.8 163.1h0M100.1 150.1h0M104.2 134.9h0M98.1 155.2h0M108.3 138.7h0M107.3 153.2h0M105.4 137.2h0M104.8 139.4h0M107 160.4h0M108.6 169h0M111.6 111.2h0M102 121.5h0M104.3 105.7h0M104.7 158.3h0M113.1 166.5h0" stroke="#666666" stroke-width="1.5" stroke-linecap="round" fill="none"/>
<path d="M103.1 113.7h0M106 135.6h0M99.1 113.9h0M102.1 149.4h0M112.4 122.1h0M107.9 151.6h0M104.9 137.7h0M104.7 135.4h0M107.1 113.8h0M108.3 152.5h0M109.1 134h0M105.4 140.9h0M108.5 151.5h0M109.2 116.2h0M105.1 152.1h0M106.9 110.9h0M106.6 160.1h0M105.3 121.5h0M102.1 166.3h0M105.3 162.5h0M108.3 135.8h0M109.2 120h0M100.3 111.2h0M107.4 151.9h0M101 138.5h0M104.6 124.9h0M106.7 151.3h0M105 127.6h0M107.4 161h0M106.5 119.4h0M107.2 165.7h0M105.3 113.2h0M104.3 145.8h0M103.4 165.5h0M107.2 144.2h0M113.8 158.5h0M106 153.2h0M114.6 138.3h0M107 143.6h0M111 169.4h0M109.1 153.3h0M103.2 120.1h0M107.9 115.9h0M102.5 114.2h0M107.4 155.9h0M107 156h0M105.2 166.3h0M103.7 119.1h0M106.4 125.6h0M108.7 154.2h0M108.1 129.4h0M102.4 144.8h0M104.7 141.9h0M108.9 119.2h0M108.6 156.7h0M102.2 115.5h0M106.4 158.5h0M110.1 147.1h0M108.4 123.6h0M104.9 138.5h0M105.2 156.9h0M108.3 129.4h0M105.2 111.3h0M102.7 140.6h0M108.4 161.1h0M103.3 148.3h0M106.7 135.5h0M106 121.9h0M106.1 149.9h0M103.9 149.3h0M109.4 129.7h0M106.4 125.2h0M103.8 122.8h0M103.2 152.7h0M106.8 163.3h0M106.4 165.7h0M113.7 154.5h0M103.3 144.1h0M103 166.6h0M105.4 168h0M104.5 142.3h0M106.7 135.4h0M108 147.2h0M100.7 114.9h0M104.7 142.2h0M105.7 159.1h0M104.7 119.5h0M103.5 165.9h0M108 113.1h0M103.9 150.6h0M104 132.7h0M107.5 126.5h0M108.3 141.1h0M108.8 135.9h0M106 119.7h0M103 126.1h0M102.5 148h0M104.7 154.8h0M103.3 145h0M109.3 125.3h0M108.5 160.8h0M108.5 167h0M107.9 145.4h0M101.7 124.7h0M104.6 126.4h0M110.8 139h0M105.5 116.7h0M105.9 122h0M107.3 115.2h0M101.8 119.7h0M107.5 158h0M105.9 145.2h0M108.8 115.8h0M103.1 156.2h0M105.8 166.5h0M105.3 127.5h0M103 143.3h0M106.7 144.2h0M110.5 141.4h0M108 115.9h0M104.4 135.9h0M106 153.2h0M106 127.3h0M104.5 168.1h0M104.9 146.6h0M104.8 124.9h0M109.3 116.7h0M107.6 118.4h0M103.2 114.1h0M100.1 154.9h0M106.5 111h0M106.7 111.2h0M105.3 110.8h0M100.6 119h0M108.4 129.3h0M106.7 121.5h0M106.5 147.9h0M104.9 118.6h0M105.3 121.8h0M104.9 169.3h0M105.7 149.6h0M108.7 169.9h0M104.8 150.1h0M105.6 151h0M103.9 159.2h0M104.8 113.8h0M103 165.1h0M105.1 156.8h0M106.2 145.8h0M108.5 132.8h0M113.2 137.3h0M109 118.4h0M106.3 164.7h0M106.4 118.4h0M100.5 156.1h0M103.7 145.5h0M105.2 158.4h0M109.7 122.4h0M106.3 145.9h0M108.6 163.4h0M104.3 153.5h0M104.9 119h0M106.3 144.6h0M106.2 144.7h0M102.9 121.3h0M106.7 122.6h0M103.8 140h0M104.7 164.9h0M102 113.6h0M106.8 139.4h0M107.6 121.3h0M106.6 133h0M109.2 128h0M110.9 128.3h0M108.2 157h0M107 142.8h0M108.7 148.6h0M103.9 135.6h0M107.4 118.4h0M103.7 123.5h0M106.3 120.8h0M105.2 147.6h0M104.8 149.1h0M103.4 135.2h0M105.4 134.7h0M105.6 168.4h0M104 147.4h0M105 168.6h0M103.5 159.3h0M106.6 161h0M106.6 127.9h0M109.7 131.2h0M106.8 164.9h0M103.8 139.2h0M106.9 134.3h0M105 112h0M109.3 139.2h0M101.9 137.9h0M108.4 128.4h0M105.5 118.2h0" stroke="#a0d07c" stroke-width="1.5" stroke-linecap="round" fill="none"/>
<path d="M109.4 135.8h0M103.3 149.6h0M107.4 107.4h0M102.3 144.1h0M107.5 129h0M103.5 143.8h0M106.1 146.3h0M107.2 167.5h0M108.3 134.2h0M107.9 102.6h0M106.6 147.1h0M107.3 109h0M103.1 151.3h0M108 167.7h0M106.4 138h0M104.1 141.2h0M102.3 126h0M104.4 116.2h0M103 146.4h0M101.1 144.7h0M107.3 139.1h0M105 156.2h0M105.4 134.7h0M105.4 155.5h0M106.2 166.8h0M107.9 130.9h0M102.3 157.8h0M104.6 131h0M108.6 127.3h0M103.2 141.8h0M105.2 133h0M106.3 103.1h0M104 166h0M110.1 113.5h0M106.7 130.6h0M107.5 109.6h0M106 136.7h0M104.1 118.5h0M104.7 133.6h0M104.5 157.7h0M107.1 104.9h0M105.7 156.9h0M104.6 161.2h0M103.9 111.8h0M101.5 140.9h0M105.8 104.5h0M107 164.3h0M106 161.1h0M105.3 143.2h0M106.2 113.5h0M109.9 153.2h0M102 152.8h0M106.3 125.8h0M100.9 149.1h0M109.3 130.3h0M105.8 166.9h0M106.1 148.1h0M102.8 139.8h0M105.3 115.3h0M105.3 117.5h0M103.9 142.7h0M100.2 151.6h0M104.6 117.4h0M104.4 139.6h0M105.6 147.3h0M102.9 122.7h0M104.9 128.1h0M106.9 139.4h0M109.9 100.6h0M109.2 149.7h0M102.1 119.5h0M110.3 101.7h0M104.6 155.6h0M103.2 145.3h0M102.1 146.3h0M106.8 122.3h0M106.7 138.7h0M108.9 103.2h0M106.9 106.1h0M107.8 135.7h0M103.8 151h0M106.8 150.2h0M108.6 167.5h0M106.9 141.2h0M107.3 115h0M105.3 122.2h0M105.6 117.3h0M107 134.1h0M107.1 102.7h0M101.5 152.1h0M104.2 100.5h0M104 158.5h0M106.8 120.7h0M106.9 154.2h0M110.7 157.8h0M103.6 157.5h0M104.7 116h0M105.6 109.6h0M106.5 121.7h0M106.4 103.4h0M104.1 116.4h0M110.2 134.6h0M105.8 149.4h0M105.1 136.9h0M110.7 154.1h0M106.5 106.9h0M108.7 143.2h0M104.7 114.4h0M109.3 148.5h0M106.2 112.3h0" stroke="#fff" stroke-width="1.2" stroke-linecap="round" fill="none"/>
<path d="M104.8 105.2h0M108 101.6h0M114.3 105h0M105.8 107.2h0M112.7 105.1h0M115.3 103.6h0M111.9 97h0M107.9 100.9h0M109.4 104.2h0M105.8 107h0M105.1 100.1h0M111.1 96.5h0M108.2 108.9h0M112.8 102.1h0M106.4 108h0M114.4 97.4h0M109.2 104.8h0M112.4 99.3h0M113.8 105.7h0M113.6 111.1h0M112.2 106.7h0M107.8 100.4h0M108.7 108.9h0M111.2 100.5h0M114.7 104.3h0M115.6 106.4h0M112.8 101.6h0M115.7 103.7h0M112.1 102.5h0M110.4 98.9h0M108.7 102.6h0M112.9 98.6h0M106.7 106.3h0M109.8 110h0M104.7 103.1h0M113.9 108h0M108.5 104.3h0M109 96.2h0M105.4 99.7h0M114.4 99.2h0M107.7 104.9h0M112.4 106.4h0M108 101.5h0M104.6 108.7h0M108.8 100.7h0M106.8 103.9h0M106.2 101.3h0M105.7 99.1h0M110.5 101.3h0M105.7 109.9h0M105.1 102.6h0M107.8 97h0M107.8 103.1h0M112.3 100.2h0M108.8 110.3h0M111.7 103.2h0M106.9 108.5h0M115.1 99.9h0M114.1 102h0M109.9 96.5h0M107.2 99.9h0M106.8 109.2h0M115.3 101.2h0M113.6 100.9h0M111.1 99.2h0M114.8 104.3h0M111.2 108.7h0M110.4 103.9h0M112.6 103.6h0M111 100.8h0" stroke="#666666" stroke-width="1.6" stroke-linecap="round" fill="none"/>
<path d="M84.8 100.8h0M97 105.6h0M82.8 100.3h0M91.2 104.6h0M97.3 109.8h0M83.6 108.5h0M97.2 107.7h0M96.8 102.9h0M91.9 106.9h0M94.4 107.3h0M94.8 102.3h0M94.4 105.7h0M96.9 102.1h0M91.8 109.2h0M93.9 107h0M84.7 99.9h0M87.3 106.4h0M83 106.6h0M84.3 100.4h0M86.7 105.1h0M93.3 110.3h0M86 99h0M95.3 105.6h0M96.2 107.3h0M84.5 102.6h0M85.8 103.8h0M86.8 109.2h0M95.9 100.4h0M97.4 110.5h0M88.3 109.4h0M96.6 107.5h0M88 106.2h0M94 102.3h0M89.6 99.1h0M84.9 108.3h0M87.2 107.1h0M89 107.2h0M86.8 99h0M92.5 101.3h0M85.6 104h0M89.9 109.6h0M92.9 103.6h0M89.1 105.8h0M84.5 101.8h0M91.5 110.2h0M91.5 100.6h0M97 108.3h0M85.9 102.7h0M83.1 107.9h0M85.8 108.7h0M93.2 108.1h0M91 101.1h0M83.1 105.7h0M82.8 104.7h0M94.1 99.7h0" stroke="#fff" stroke-width="1.3" stroke-linecap="round" fill="none"/>
<path d="M74.9 75.4h0M76.6 73.7h0M78.4 71.9h0M80.1 71.1h0M81.9 70.7h0M77.5 76.3h0M79.3 77.2h0M82.8 78.1h0M84.5 80.7h0M89.8 85.1h0M92.4 86h0M88 92.1h0M93.3 91.2h0M97.7 90.3h0M99.4 92.1h0M96.8 86.8h0M104.7 90.3h0M107.3 89.5h0M109.9 87.7h0M112.6 86h0M102 93h0M83.7 100.8h0M86.3 99.1h0M88.9 98.2h0M91.5 97.3h0M94.2 96.5h0M95 99.1h0M97.7 100.8h0M105.6 97.3h0M107.3 99.1h0M103.8 101.7h0M74.3 75.7h0M75.1 75.7h0M74.7 75.2h0M76.8 74h0M77.6 73.3h0M77.1 74.1h0M78.3 72h0M78.4 72.7h0M79.6 72.1h0M80 71.5h0M80.4 71h0M80.5 71.5h0M81.7 71.1h0M80.8 70.1h0M81.8 70.8h0M76.8 77h0M77.4 76.4h0M77.5 76.7h0M79 77.5h0M78.9 76.5h0M79.5 77.3h0M83.2 77.2h0M82.8 77.8h0M82.7 77.9h0M84.4 80.4h0M85 79.9h0M83.7 80.9h0M90.8 84.7h0M89.4 84.5h0M89.3 85.7h0M92.8 86.4h0M92.6 86.1h0M92.2 85.5h0M88.4 93.3h0M87.9 92.7h0M87.7 92.1h0M94.1 91.2h0M93.6 90.9h0M94.2 90.6h0M98 90.2h0M97.8 90.5h0M98.3 90.7h0M99.9 92.3h0M98.9 92.7h0M100.2 92.3h0M97.2 86.7h0M96.1 87.3h0M96.5 87.7h0M105 90.3h0M104.4 90.4h0M104.2 90.2h0M108.1 89.3h0M108.2 89.4h0M107.5 89h0M109.8 87.5h0M109.3 88.6h0M110.2 87.7h0M112 86h0M112.1 85.5h0M112.5 87h0M101.2 93.2h0M101.8 91.6h0M101.4 92.9h0M83.7 100.5h0M84.5 101.1h0M83.4 100.1h0M86.4 98.8h0M86.8 98.6h0M86.9 98.9h0M89 98.1h0M89.2 98.8h0M88.7 97.8h0M92.5 97.8h0M92.5 97.8h0M91.6 98.1h0M93.9 96.3h0M94 96.8h0M93.8 96.4h0M94.6 99h0M95.6 99.6h0M94.9 100.3h0M97.3 101.1h0M97.5 99.8h0M97.1 101.4h0M104.8 98.7h0M105.5 97.5h0M106.2 97.4h0M107 98.8h0M106.9 99.4h0M107.1 99.3h0M103.1 101.5h0M104.8 101.9h0M103.8 102.3h0" stroke="#666666" stroke-width="1.7" stroke-linecap="round" fill="none"/>
<path d="M86.9 133.8h0M71.2 160.1h0M44 155.7h0M43.1 151.3h0M99.2 105.8h0M100.1 100.5h0M101 111h0M101.8 118h0M99.2 123.3h0M112.3 118h0M117.6 132h0M121.1 122.4h0M126.4 116.3h0M128.1 119.8h0M122.9 121.5h0M132.5 112.8h0M114.1 147.8h0M112.3 150.4h0M115.8 146.1h0M118.5 167.1h0M110.6 112.8h0M108.8 97.9h0M101.8 97h0M98.3 98.8h0M107.1 133.8h0M108 142.6h0" stroke="#136ea3" stroke-width="1.7" stroke-linecap="round" fill="none"/>
<path d="M127.4 113h0M132.7 112.7h0M126.5 117.4h0M122.2 121.8h0M121.3 123.5h0M112.5 146.3h0M115.1 149.8h0M114.3 151.6h0M117.8 133.2h0M118.7 167.3h0M168.6 92.9h0M164.2 96.4h0M165.1 99.9h0M180 104.3h0M153.7 95.5h0M158.1 101.6h0" stroke="#136ea3" stroke-width="1.7" stroke-linecap="round" fill="none"/>
<path d="M174.7 126.2h0M190.5 127.9h0M194.9 148.1h0M142.3 111.3h0M145.8 111.3h0M148.4 113.9h0M151.1 111.3h0M152.8 109.5h0M144.9 115.7h0M140.6 125.3h0M145.8 132.3h0M147.6 131.4h0M151.9 137.6h0" stroke="#a0d07c" stroke-width="1.6" stroke-linecap="round" fill="none"/>
<path d="M193.1 117.4h0M194.5 115.7h0M121.3 111.3h0M117.8 120.9h0M126.5 149.8h0M107.3 152.4h0M108.1 146.3h0" stroke="#666666" stroke-width="1.6" stroke-linecap="round" fill="none"/>
<path d="M144.1 106.9h0M153.7 106h0M158.9 111.3h0M157.2 101.6h0M159.8 87.6h0M194.9 156.8h0M151.1 125.3h0M158.1 122.7h0" stroke="#97c7de" stroke-width="1.6" stroke-linecap="round" fill="none"/>
<path d="M127.4 83.3h0M130.1 82.4h0M131.8 65.8h0M102 86.8h0" stroke="#a0d07c" stroke-width="1.5" stroke-linecap="round" fill="none"/>
<rect x="28.1" y="15.8" width="181.9" height="174.3" fill="none" stroke="#2e2422" stroke-width="1.3"/>
<text x="118.5" y="204.8" font-size="8.6" fill="#000" text-anchor="middle">UMAP_1</text>
<text x="21.2" y="102" font-size="8.6" fill="#000" text-anchor="middle" transform="rotate(-90 21.2 102)">UMAP_2</text>
<circle cx="219" cy="87.7" r="2.9" fill="#666666"/>
<text x="229.9" y="90.8" font-size="8.5" fill="#000">TAM_MARCO</text>
<circle cx="219" cy="98.5" r="2.9" fill="#97c7de"/>
<text x="229.9" y="101.6" font-size="8.5" fill="#000">TAM_MKI67</text>
<circle cx="219" cy="109.3" r="2.9" fill="#136ea3"/>
<text x="229.9" y="112.4" font-size="8.5" fill="#000">TAM_PLTP</text>
<circle cx="219" cy="120.1" r="2.9" fill="#a0d07c"/>
<text x="229.9" y="123.2" font-size="8.5" fill="#000">TAM_SPP1</text>
<text x="289.6" y="12" font-size="16.8" fill="#231815" font-weight="bold">B</text>
<line x1="359.5" y1="41.8" x2="359.5" y2="192.9" stroke="#8a8a8a" stroke-width="1.1"/>
<line x1="359" y1="192.4" x2="656" y2="192.4" stroke="#8a8a8a" stroke-width="1.1"/>
<line x1="356.5" y1="185.7" x2="359.5" y2="185.7" stroke="#444" stroke-width="0.9"/>
<text x="353.5" y="190" font-size="12" fill="#000" text-anchor="end">0.00</text>
<line x1="356.5" y1="150.3" x2="359.5" y2="150.3" stroke="#444" stroke-width="0.9"/>
<text x="353.5" y="154.6" font-size="12" fill="#000" text-anchor="end">0.25</text>
<line x1="356.5" y1="114.8" x2="359.5" y2="114.8" stroke="#444" stroke-width="0.9"/>
<text x="353.5" y="119.1" font-size="12" fill="#000" text-anchor="end">0.50</text>
<line x1="356.5" y1="79.4" x2="359.5" y2="79.4" stroke="#444" stroke-width="0.9"/>
<text x="353.5" y="83.7" font-size="12" fill="#000" text-anchor="end">0.75</text>
<line x1="356.5" y1="44" x2="359.5" y2="44" stroke="#444" stroke-width="0.9"/>
<text x="353.5" y="48.3" font-size="12" fill="#000" text-anchor="end">1.00</text>
<line x1="401" y1="192.4" x2="401" y2="195.4" stroke="#444" stroke-width="0.9"/>
<text x="401" y="207.3" font-size="10.8" fill="#000" text-anchor="middle">TAM_MKI67</text>
<line x1="471.8" y1="192.4" x2="471.8" y2="195.4" stroke="#444" stroke-width="0.9"/>
<text x="471.8" y="207.3" font-size="10.8" fill="#000" text-anchor="middle">TAM_MARCO</text>
<line x1="542.6" y1="192.4" x2="542.6" y2="195.4" stroke="#444" stroke-width="0.9"/>
<text x="542.6" y="207.3" font-size="10.8" fill="#000" text-anchor="middle">TAM_PLTP</text>
<line x1="613.4" y1="192.4" x2="613.4" y2="195.4" stroke="#444" stroke-width="0.9"/>
<text x="613.4" y="207.3" font-size="10.8" fill="#000" text-anchor="middle">TAM_SPP1</text>
<text x="318" y="113.5" font-size="12.3" fill="#000" text-anchor="middle" transform="rotate(-90 318 113.5)">Fraction (%) of myeloid cell</text>
<text x="375" y="44.3" font-size="9.6" fill="#000">p = 0.0053</text>
<text x="516.3" y="44.3" font-size="9.6" fill="#000">p = 2.6e−05</text>
<line x1="387.2" y1="131" x2="387.2" y2="103.4" stroke="#333" stroke-width="0.75"/>
<line x1="387.2" y1="173.6" x2="387.2" y2="183" stroke="#333" stroke-width="0.75"/>
<rect x="375" y="131" width="24.5" height="42.6" fill="#12957a" stroke="#222" stroke-width="0.75"/>
<line x1="375" y1="158.2" x2="399.5" y2="158.2" stroke="#222" stroke-width="1.0"/>
<line x1="415.4" y1="180.3" x2="415.4" y2="176" stroke="#333" stroke-width="0.75"/>
<rect x="403.2" y="180.3" width="24.5" height="5.4" fill="#2f5288" stroke="#222" stroke-width="0.75"/>
<line x1="403.2" y1="185.2" x2="427.7" y2="185.2" stroke="#222" stroke-width="1.0"/>
<circle cx="415.6" cy="148.8" r="2.1" fill="#000"/>
<line x1="457.9" y1="176" x2="457.9" y2="173.6" stroke="#333" stroke-width="0.75"/>
<line x1="457.9" y1="181.7" x2="457.9" y2="183" stroke="#333" stroke-width="0.75"/>
<rect x="445.5" y="176" width="24.8" height="5.7" fill="#12957a" stroke="#222" stroke-width="0.75"/>
<line x1="445.5" y1="178.3" x2="470.3" y2="178.3" stroke="#222" stroke-width="1.0"/>
<circle cx="457.9" cy="154.5" r="2.1" fill="#000"/>
<line x1="486.2" y1="160.2" x2="486.2" y2="137" stroke="#333" stroke-width="0.75"/>
<line x1="486.2" y1="180.7" x2="486.2" y2="185.7" stroke="#333" stroke-width="0.75"/>
<rect x="474" y="160.2" width="24.5" height="20.5" fill="#2f5288" stroke="#222" stroke-width="0.75"/>
<line x1="474" y1="175.3" x2="498.5" y2="175.3" stroke="#222" stroke-width="1.0"/>
<line x1="516.2" y1="183.9" x2="541.5" y2="183.9" stroke="#111" stroke-width="1.6"/>
<circle cx="528.7" cy="179.3" r="2.1" fill="#000"/>
<line x1="556.9" y1="88.2" x2="556.9" y2="47.8" stroke="#333" stroke-width="0.75"/>
<line x1="556.9" y1="168.5" x2="556.9" y2="178.2" stroke="#333" stroke-width="0.75"/>
<rect x="544.4" y="88.2" width="25" height="80.3" fill="#2f5288" stroke="#222" stroke-width="0.75"/>
<line x1="544.4" y1="126.7" x2="569.4" y2="126.7" stroke="#222" stroke-width="1.0"/>
<line x1="599.5" y1="182.2" x2="599.5" y2="183.5" stroke="#333" stroke-width="0.75"/>
<rect x="587" y="179.6" width="25.1" height="2.6" fill="#12957a" stroke="#222" stroke-width="0.75"/>
<line x1="587" y1="180.6" x2="612.1" y2="180.6" stroke="#222" stroke-width="1.0"/>
<circle cx="599.6" cy="175.3" r="2.1" fill="#000"/>
<line x1="628" y1="158.3" x2="628" y2="127.2" stroke="#333" stroke-width="0.75"/>
<rect x="615.5" y="158.3" width="25.1" height="27.3" fill="#2f5288" stroke="#222" stroke-width="0.75"/>
<line x1="615.5" y1="185.1" x2="640.6" y2="185.1" stroke="#222" stroke-width="1.0"/>
<circle cx="627.8" cy="96.2" r="2.1" fill="#000"/>
<line x1="622.2" y1="37" x2="622.2" y2="53.6" stroke="#1a1a1a" stroke-width="0.7"/>
<rect x="614.4" y="40.2" width="15.6" height="10.8" fill="#12957a" stroke="#1a1a1a" stroke-width="0.7"/>
<line x1="614.4" y1="45.6" x2="630" y2="45.6" stroke="#1a1a1a" stroke-width="0.9"/>
<text x="637.2" y="49" font-size="10.8" fill="#000">Primary</text>
<line x1="622.2" y1="59.5" x2="622.2" y2="76" stroke="#1a1a1a" stroke-width="0.7"/>
<rect x="614.4" y="62.4" width="15.6" height="10.8" fill="#2f5288" stroke="#1a1a1a" stroke-width="0.7"/>
<line x1="614.4" y1="67.8" x2="630" y2="67.8" stroke="#1a1a1a" stroke-width="0.9"/>
<text x="637.2" y="71.6" font-size="10.8" fill="#000">Brain</text>
<text x="0" y="242.9" font-size="16.8" fill="#231815" font-weight="bold">C</text>
<rect x="38.2" y="229.9" width="492.3" height="16.6" fill="#231815"/>
<text x="221.4" y="242.9" font-size="11.8" fill="#6cb92d" text-anchor="middle" font-weight="bold">CD68</text>
<text x="344" y="242.9" font-size="11.8" fill="#e8221a" text-anchor="middle" font-weight="bold">PLTP</text>
<text x="466.5" y="242.9" font-size="11.8" fill="#ffffff" text-anchor="middle" font-weight="bold">Merge</text>
<text x="28" y="291.4" font-size="14.7" fill="#000" text-anchor="middle" transform="rotate(-90 28 291.4)">Primary</text>
<text x="28" y="380.1" font-size="14.7" fill="#000" text-anchor="middle" transform="rotate(-90 28 380.1)">Brain</text>
<g clip-path="url(#cA)"><g filter="url(#soft2)">
<rect x="38.3" y="251.8" width="119.8" height="77.4" fill="#0a1d3a"/>
<rect x="38.3" y="251.8" width="119.8" height="77.4" filter="url(#fH4)" opacity="0.6"/>
<rect x="38.3" y="251.8" width="119.8" height="77.4" filter="url(#fB5)" opacity="0.8"/>
<rect x="38.3" y="251.8" width="119.8" height="77.4" filter="url(#fG3)" opacity="0.5"/>
<ellipse cx="38.3" cy="251.8" rx="6" ry="2.0" fill="#03060c" opacity="0.9" transform="translate(28 21) rotate(15 38.3 251.8)"/>
<ellipse cx="38.3" cy="251.8" rx="4" ry="4.5" fill="#03060c" opacity="0.9" transform="translate(50 22) rotate(0 38.3 251.8)"/>
<ellipse cx="38.3" cy="251.8" rx="5" ry="2.6" fill="#03060c" opacity="0.85" transform="translate(96 58) rotate(20 38.3 251.8)"/>
<ellipse cx="38.3" cy="251.8" rx="2.5" ry="5" fill="#03060c" opacity="0.7" transform="translate(3 48) rotate(0 38.3 251.8)"/>
</g></g>
<g clip-path="url(#cB)"><g filter="url(#soft)">
<rect x="162.4" y="251.8" width="119.8" height="77.4" fill="#070d3c"/>
<rect x="162.4" y="251.8" width="119.8" height="77.4" filter="url(#fH1)" opacity="0.9"/>
<rect x="162.4" y="251.8" width="119.8" height="77.4" filter="url(#fB1)" opacity="1"/>
<rect x="162.4" y="251.8" width="119.8" height="77.4" filter="url(#fG1)" opacity="0.88"/>
<ellipse cx="162.4" cy="251.8" rx="3.0" ry="10" fill="#02040a" opacity="1" transform="translate(60.5 36) rotate(6 162.4 251.8)"/>
<ellipse cx="162.4" cy="251.8" rx="5" ry="4" fill="#02040a" opacity="1" transform="translate(107 54) rotate(0 162.4 251.8)"/>
<ellipse cx="162.4" cy="251.8" rx="4.5" ry="3" fill="#02040a" opacity="0.9" transform="translate(42 7) rotate(0 162.4 251.8)"/>
</g></g>
<g clip-path="url(#cC)"><g filter="url(#soft)">
<rect x="286.5" y="251.8" width="119.8" height="77.4" fill="#070a34"/>
<rect x="286.5" y="251.8" width="119.8" height="77.4" filter="url(#fB2)" opacity="1"/>
<rect x="286.5" y="251.8" width="119.8" height="77.4" filter="url(#fR3)" opacity="1"/>
<ellipse cx="286.5" cy="251.8" rx="3.0" ry="10" fill="#02040a" opacity="1" transform="translate(60.5 36) rotate(6 286.5 251.8)"/>
<ellipse cx="286.5" cy="251.8" rx="5" ry="4" fill="#02040a" opacity="1" transform="translate(107 54) rotate(0 286.5 251.8)"/>
<ellipse cx="286.5" cy="251.8" rx="4.5" ry="3" fill="#02040a" opacity="0.9" transform="translate(42 7) rotate(0 286.5 251.8)"/>
</g></g>
<g clip-path="url(#cD)"><g filter="url(#soft)">
<rect x="410.5" y="251.8" width="119.8" height="77.4" fill="#070d3c"/>
<rect x="410.5" y="251.8" width="119.8" height="77.4" filter="url(#fH1)" opacity="0.9"/>
<rect x="410.5" y="251.8" width="119.8" height="77.4" filter="url(#fB1)" opacity="1"/>
<rect x="410.5" y="251.8" width="119.8" height="77.4" filter="url(#fG1)" opacity="0.9"/>
<rect x="410.5" y="251.8" width="119.8" height="77.4" filter="url(#fR3)" opacity="0.9"/>
<ellipse cx="410.5" cy="251.8" rx="3.0" ry="10" fill="#02040a" opacity="1" transform="translate(60.5 36) rotate(6 410.5 251.8)"/>
<ellipse cx="410.5" cy="251.8" rx="5" ry="4" fill="#02040a" opacity="1" transform="translate(107 54) rotate(0 410.5 251.8)"/>
<ellipse cx="410.5" cy="251.8" rx="4.5" ry="3" fill="#02040a" opacity="0.9" transform="translate(42 7) rotate(0 410.5 251.8)"/>
</g></g>
<g clip-path="url(#cE)"><g filter="url(#soft2)">
<rect x="38.3" y="338.6" width="119.8" height="77.1" fill="#161230"/>
<rect x="38.3" y="338.6" width="119.8" height="77.1" fill="#7a1430" opacity=".55" mask="url(#mE)"/>
<rect x="38.3" y="338.6" width="119.8" height="77.1" filter="url(#fB5)" opacity="0.7"/>
<rect x="38.3" y="338.6" width="119.8" height="77.1" filter="url(#fR4)" opacity=".72" mask="url(#mE)"/>
<rect x="38.3" y="338.6" width="119.8" height="77.1" filter="url(#fG3)" opacity="0.4"/>
</g></g>
<g clip-path="url(#cF)"><g filter="url(#soft)">
<rect x="162.4" y="338.6" width="119.8" height="77.1" fill="#06152e"/>
<rect x="162.4" y="338.6" width="119.8" height="77.1" filter="url(#fH2)" opacity="0.8"/>
<rect x="162.4" y="338.6" width="119.8" height="77.1" filter="url(#fB4)" opacity="0.9"/>
<rect x="162.4" y="338.6" width="119.8" height="77.1" filter="url(#fG2)" opacity="0.8"/>
</g></g>
<g clip-path="url(#cG)"><g filter="url(#soft)">
<rect x="286.5" y="338.6" width="119.8" height="77.1" fill="#0d0a2a"/>
<rect x="286.5" y="338.6" width="119.8" height="77.1" filter="url(#fH5)" opacity="1"/>
<rect x="286.5" y="338.6" width="119.8" height="77.1" filter="url(#fR1)" opacity="1"/>
<path d="M286.5 338.6m6 12q24 8 32 36q20 12 36 6" stroke="#0c0a2a" stroke-width="3" fill="none" opacity=".55" filter="url(#soft2)"/>
<path d="M286.5 338.6m58 2q4 18 0 30" stroke="#0c0a2a" stroke-width="2.6" fill="none" opacity=".5" filter="url(#soft2)"/>
<rect x="286.5" y="338.6" width="119.8" height="77.1" filter="url(#fB6)" opacity="0.85"/>
</g></g>
<g clip-path="url(#cH)"><g filter="url(#soft)">
<rect x="410.5" y="338.6" width="119.8" height="77.1" fill="#0d0a2a"/>
<rect x="410.5" y="338.6" width="119.8" height="77.1" filter="url(#fH5)" opacity="1"/>
<rect x="410.5" y="338.6" width="119.8" height="77.1" filter="url(#fR1)" opacity="1"/>
<path d="M410.5 338.6m6 12q24 8 32 36q20 12 36 6" stroke="#0c0a2a" stroke-width="3" fill="none" opacity=".55" filter="url(#soft2)"/>
<path d="M410.5 338.6m58 2q4 18 0 30" stroke="#0c0a2a" stroke-width="2.6" fill="none" opacity=".5" filter="url(#soft2)"/>
<rect x="410.5" y="338.6" width="119.8" height="77.1" filter="url(#fB6)" opacity="0.8"/>
<rect x="410.5" y="338.6" width="119.8" height="77.1" filter="url(#fG4)" opacity="0.9"/>
</g></g>
<rect x="79.4" y="277.6" width="39.2" height="24.8" fill="none" stroke="#fff" stroke-width="1.1" stroke-dasharray="3.6 2.2"/>
<line x1="118.6" y1="277.6" x2="158.1" y2="252.6" stroke="#fff" stroke-width="1.1" stroke-dasharray="3.6 2.2"/>
<line x1="118.6" y1="302.4" x2="158.1" y2="328.4" stroke="#fff" stroke-width="1.1" stroke-dasharray="3.6 2.2"/>
<rect x="51.6" y="366.5" width="38.2" height="24.8" fill="none" stroke="#fff" stroke-width="1.1" stroke-dasharray="3.6 2.2"/>
<line x1="89.8" y1="366.5" x2="158.1" y2="339.6" stroke="#fff" stroke-width="1.1" stroke-dasharray="3.6 2.2"/>
<line x1="89.8" y1="391.3" x2="158.1" y2="415.2" stroke="#fff" stroke-width="1.1" stroke-dasharray="3.6 2.2"/>
<text x="43.8" y="324.6" font-size="5.9" fill="#fff" stroke="#fff" stroke-width="0.15">50µm</text>
<line x1="49" y1="326.8" x2="52.2" y2="326.8" stroke="#fff" stroke-width="1.0"/>
<text x="280.6" y="324.2" font-size="6.0" fill="#fff" text-anchor="end" stroke="#fff" stroke-width="0.15">50µm</text>
<line x1="266.6" y1="325.8" x2="278.3" y2="325.8" stroke="#fff" stroke-width="1.2"/>
<text x="404.7" y="324.2" font-size="6.0" fill="#fff" text-anchor="end" stroke="#fff" stroke-width="0.15">50µm</text>
<line x1="390.7" y1="325.8" x2="402.4" y2="325.8" stroke="#fff" stroke-width="1.2"/>
<text x="528.7" y="324.2" font-size="6.0" fill="#fff" text-anchor="end" stroke="#fff" stroke-width="0.15">50µm</text>
<line x1="514.7" y1="325.8" x2="526.4" y2="325.8" stroke="#fff" stroke-width="1.2"/>
<text x="43.8" y="411.1" font-size="5.9" fill="#fff" stroke="#fff" stroke-width="0.15">50µm</text>
<line x1="49" y1="413.3" x2="52.2" y2="413.3" stroke="#fff" stroke-width="1.0"/>
<text x="280.6" y="410.7" font-size="6.0" fill="#fff" text-anchor="end" stroke="#fff" stroke-width="0.15">50µm</text>
<line x1="266.6" y1="412.3" x2="278.3" y2="412.3" stroke="#fff" stroke-width="1.2"/>
<text x="404.7" y="410.7" font-size="6.0" fill="#fff" text-anchor="end" stroke="#fff" stroke-width="0.15">50µm</text>
<line x1="390.7" y1="412.3" x2="402.4" y2="412.3" stroke="#fff" stroke-width="1.2"/>
<text x="528.7" y="410.7" font-size="6.0" fill="#fff" text-anchor="end" stroke="#fff" stroke-width="0.15">50µm</text>
<line x1="514.7" y1="412.3" x2="526.4" y2="412.3" stroke="#fff" stroke-width="1.2"/>
<text x="540.4" y="243" font-size="16.8" fill="#231815" font-weight="bold">D</text>
<line x1="570.5" y1="252.2" x2="570.5" y2="411.1" stroke="#777" stroke-width="0.9"/>
<line x1="570" y1="410.6" x2="685" y2="410.6" stroke="#777" stroke-width="0.9"/>
<line x1="567.9" y1="403.3" x2="570.5" y2="403.3" stroke="#333" stroke-width="0.9"/>
<text x="566.1" y="406.6" font-size="9.2" fill="#000" text-anchor="end">0</text>
<line x1="567.9" y1="364" x2="570.5" y2="364" stroke="#333" stroke-width="0.9"/>
<text x="566.1" y="367.3" font-size="9.2" fill="#000" text-anchor="end">20</text>
<line x1="567.9" y1="324.6" x2="570.5" y2="324.6" stroke="#333" stroke-width="0.9"/>
<text x="566.1" y="327.9" font-size="9.2" fill="#000" text-anchor="end">40</text>
<line x1="567.9" y1="285.3" x2="570.5" y2="285.3" stroke="#333" stroke-width="0.9"/>
<text x="566.1" y="288.6" font-size="9.2" fill="#000" text-anchor="end">60</text>
<line x1="601.4" y1="410.6" x2="601.4" y2="413.2" stroke="#333" stroke-width="0.9"/>
<text x="601.4" y="421.4" font-size="8.7" fill="#000" text-anchor="middle">Primary</text>
<line x1="653.7" y1="410.6" x2="653.7" y2="413.2" stroke="#333" stroke-width="0.9"/>
<text x="653.7" y="421.4" font-size="8.7" fill="#000" text-anchor="middle">Brain</text>
<text x="549.7" y="327.3" font-size="9.7" fill="#000" text-anchor="middle" transform="rotate(-90 549.7 327.3)">PLTP+ CD68+ (%)</text>
<line x1="583.2" y1="402.8" x2="620.1" y2="402.8" stroke="#111" stroke-width="1.8"/>
<circle cx="601.4" cy="355.5" r="1.9" fill="#000"/>
<circle cx="601.4" cy="372.5" r="1.9" fill="#000"/>
<circle cx="601.4" cy="378.9" r="1.9" fill="#000"/>
<circle cx="601.4" cy="400.2" r="1.9" fill="#000"/>
<line x1="653.8" y1="344.1" x2="653.8" y2="265.7" stroke="#222" stroke-width="0.75"/>
<line x1="653.8" y1="396.6" x2="653.8" y2="402.8" stroke="#222" stroke-width="0.75"/>
<rect x="635.5" y="344.1" width="36.6" height="52.5" fill="#12957a" stroke="#111" stroke-width="0.75"/>
<line x1="635.5" y1="386.5" x2="672.1" y2="386.5" stroke="#111" stroke-width="1.0"/>
<path d="M601.4 263.3V259.3H653.7V263.3" stroke="#222" stroke-width="0.8" fill="none"/>
<text x="627.5" y="257.4" font-size="8.2" fill="#000" text-anchor="middle">6.8e-08</text>
<text x="0.7" y="450.4" font-size="16.8" fill="#231815" font-weight="bold">E</text>
<path d="M131.3 599.3h0M138.2 604.1h0M157.3 601.1h0M139.1 607.6h0M144.2 610.2h0M161.5 600.4h0M136.2 603.8h0M162.5 594.2h0M165.5 597.5h0M142.9 610.3h0M142.5 607.4h0M143.8 610h0M130.7 602.3h0M176.5 595.1h0M128.5 599.7h0M137.2 598.8h0M124.7 595.6h0M140.6 606.1h0M149.1 604h0M157.9 603.6h0M115.8 595.6h0M134.2 594.5h0M116.2 595.8h0M163.9 600.7h0M172.6 596.5h0M149.5 609.4h0M149.8 604h0M173.8 595.2h0M145.3 610h0M134.8 602.3h0M173.9 595.3h0M149.5 604.9h0M141.1 606.8h0M158.3 600.7h0M154.3 606.7h0M149 605.7h0M171.4 596.1h0M148.4 608.1h0M135.2 599h0M143.1 611.2h0M174.7 595.4h0M133.4 602.3h0M171.2 594.1h0M154.2 596.2h0M145.1 610.5h0M132.5 599.5h0M119.9 593.7h0M157 604.9h0M138.7 603h0M167.4 595.9h0M164.1 598.5h0M145.5 611h0M135.7 602.8h0M146.1 609.2h0M151.8 604h0M137.3 602.7h0M143.3 609.5h0M139.4 606.8h0M120.6 593.7h0M159.6 600.2h0M158 601.4h0M171.2 598h0M170.5 597.1h0M161.1 594.1h0M138.9 607.7h0M139.9 608h0M174.3 594.9h0M155 602.1h0M143.1 611h0M129.8 605.1h0M139.8 604.9h0M144.6 611.9h0M137.9 605h0M124.6 597.1h0M155.3 599.6h0M139.9 603.3h0M142.3 610.6h0M121.7 599.2h0M115.3 594.7h0M175 595.5h0M136 597.9h0M138.9 603.8h0M149.7 609h0M118.7 597.8h0M113.2 594.5h0M134.6 606.6h0M150.3 606.8h0M168.4 595.4h0M134.5 596.8h0M166.3 595.3h0M127.3 593.9h0M113.1 593.9h0M128.7 597.6h0M145.6 609.3h0M179.3 593.6h0M116.7 594.1h0M149.3 608.5h0M175.3 596h0M126.9 602.6h0M150.7 601.6h0M139.4 606.2h0M135.8 600.3h0M173.1 595.7h0M151.8 608.6h0M140.2 605.3h0M128.7 599.5h0M145.4 610.6h0M125.2 595.8h0M133 601.5h0M144.1 611.2h0M144.7 610.8h0M129.4 596h0M135.5 597.7h0M139.7 605.1h0M151.6 602.4h0M156.5 599.8h0M133.2 601.9h0M119.1 598.2h0M153 606.7h0M127.9 596.3h0M141.8 606.1h0M151.7 605.5h0M163.1 598.4h0M120.3 599.2h0M114.8 594.9h0M141.3 609.2h0M134.4 604.2h0M158.3 597.9h0M135.6 601.4h0M152.9 606.3h0M128.4 601.3h0M143 609.1h0M138.1 609.3h0M147.9 608.9h0M140.4 608.7h0M122.3 594.9h0M123.3 598.6h0M142.7 608.2h0M158.9 601.2h0M137.4 605.5h0M154.5 604.5h0M160.5 596.7h0M131.2 601.3h0M148.3 608.7h0M145.2 611.2h0M154.1 603.3h0M111 594.1h0M120 597.9h0M141.7 608.2h0M167.6 598.7h0M123.7 593.9h0M119.2 597.1h0M163.8 599.6h0M138.2 602.2h0M119.4 593.7h0M118 593.7h0M134.5 603.4h0M156.4 605.7h0M128.9 603.2h0M139.2 607.2h0M170.3 596.6h0M145.8 609.6h0M169.1 596.2h0M134.5 604.6h0M167.4 595.8h0M138.9 609.4h0M150.3 607.5h0M175.3 594.6h0M113.2 594.5h0M158.9 594.3h0M149.4 606.9h0M136 599.9h0M145.3 610.7h0M122.4 595.2h0M151.1 601.5h0M112.4 594.1h0M130.9 603.3h0M125.9 599.6h0M149 610h0M126.5 597.3h0M148.7 607.7h0M134 596.6h0M158 602.6h0M160.6 600.3h0M132.4 604.7h0M158.8 600.9h0M156.9 599.9h0M123.2 596.5h0M130.9 598h0M138.6 601h0M119.2 595h0M149 606.6h0M162.7 596.9h0M110.3 593.6h0M154.2 601.6h0M138.5 606.4h0M150.3 604.3h0M157.3 605.6h0M161.8 596.8h0M136.7 599.3h0M154.8 606.9h0M163.5 598.7h0M155.9 603.7h0M138.6 606.9h0M143.3 609.3h0M141.4 606.1h0M110.9 594.2h0M170.1 598.2h0M139.1 604.3h0M128.2 600h0M139.2 608.2h0M156.5 601.1h0M132.3 600.1h0M168.6 595h0M165.4 598.6h0M159.8 600h0M127.1 594.8h0M139.1 609.2h0M152.1 604.2h0M148.9 605.1h0M171.2 596.9h0M179.8 593.9h0M151.6 605h0M152 602.2h0M179.5 593.8h0M159.8 601.5h0M142.8 607.8h0M137.4 599.3h0M124.8 595.6h0M163.7 593.8h0M164.2 600.2h0M146.6 608.4h0M122.7 595.4h0M160.9 600.6h0M132.2 595.5h0M157.1 601.8h0M146.3 611.9h0M141.2 607.1h0M112.1 594.1h0M120 595.8h0M151.3 602.5h0M159.4 604.3h0M150.7 604.7h0M130.8 597h0M142.9 609.5h0M129.4 597.5h0M124.9 600h0M170.1 595.7h0M141.1 607.6h0M162.8 600.2h0M149.4 608.5h0M124.9 594.1h0M136.1 606.6h0M176.4 595.7h0M165.6 599.7h0M114 593.9h0M163 597.7h0M149.1 609.1h0M156.6 596.2h0M158.5 599.1h0M128 597.2h0M146.9 610.5h0M159.6 599.1h0M160.7 603.3h0M150.2 609.4h0M149.4 608.6h0M129.1 599.3h0M134.4 596.9h0M141.2 608.7h0M146.1 608.8h0M124 598.4h0M127.3 597.5h0M136.6 604.6h0M140.7 609.8h0M122.4 599.4h0M144.7 611.8h0M168.6 599.6h0M131.7 604.7h0M137.8 604.2h0M137.7 600.4h0M135.1 595.4h0M167.3 595.1h0M135.8 596.6h0M146.5 610.1h0M166.4 596.6h0M130.7 599.9h0M135.7 600.4h0M138 601.7h0M128.8 602.4h0M154.1 598.5h0M168.7 594.6h0M157.2 595.2h0M140.3 608.1h0M152.2 606.3h0M143.6 610h0M152.9 602.1h0M173.8 595h0M148.3 605.5h0M130 599.2h0M153.6 603.8h0M171.6 596h0M136.9 606.4h0M128.8 594.9h0M159.1 594.2h0M160.1 594.4h0M174.5 596.4h0M137.3 607.1h0M146 610.8h0M139.7 603.2h0M149 606h0M174.2 593.8h0M125.9 600.3h0M168.3 596.5h0M156.1 604.1h0M147.8 609.4h0M126.7 597.8h0M124.7 597.2h0M144.4 611.5h0M161.8 598.5h0M135.1 605.6h0M160.6 604.2h0M136.5 597.8h0M163 597.7h0M129.4 594.7h0M154.9 607.2h0M168.5 595.4h0M136.9 607h0M142.6 609.2h0M147.3 610.4h0M140.7 608.6h0M175.7 595h0M136 600.9h0M125.3 601.5h0M144.8 611.6h0M140.5 607.9h0M132.7 600.8h0M142.4 609.2h0M135.8 596.7h0M117.1 595.7h0M142.4 607.7h0M144.9 612.1h0M138.8 605.1h0M168.8 594.8h0M145.6 610.2h0M158.6 594h0M118.1 594.9h0M161.3 595.5h0M135.2 598.2h0M171.6 596.6h0M150.9 608.1h0M115.6 595.7h0M158.6 594.5h0M151 608h0M128.2 598.6h0M119.5 597h0M174.1 595.7h0M120.2 597.8h0M140.3 609.4h0M146.2 608.1h0M156.5 597.3h0M138.1 600.9h0M147.9 605.8h0M136 599.3h0M139.7 608.9h0M139.4 608.6h0M176.2 594.8h0M150.7 605h0M113 595.5h0M163.7 593.9h0M139 605.7h0M145.7 609.8h0M133.9 601.9h0M132 604.2h0M125.5 599.1h0M139.3 604.8h0M152 599.5h0M152.8 598.3h0M136.7 598.2h0M139.6 608.6h0M136.6 604.1h0M139.3 603.5h0M128.2 602h0M127.8 595.1h0M158.1 596.6h0M139.3 602.1h0M137.2 603.7h0M133.1 600.2h0M151.4 601.3h0M170.7 595.8h0M137.8 605.4h0M136.1 598.8h0M150.2 605.8h0M138.5 605.2h0M139 604.2h0M154.7 604.8h0M115.9 594.1h0M152.8 602h0M166.6 599.2h0M135 599h0M162.5 595.6h0M125.7 597.5h0M128.1 598.5h0M170 597.7h0M165.7 600h0M126.5 596.4h0M133.4 599.9h0M163.8 594.4h0M117.4 595.5h0M155.7 594.5h0M140 606.3h0M128.2 599.4h0M146.3 611h0M163.6 594.9h0M154.4 597.5h0M118.5 597.8h0M144.7 611.5h0M164.5 593.6h0M120.2 594.7h0M124.2 598h0M119.2 595.7h0M173.3 595.9h0M167.3 593.9h0M152 606.7h0M158.3 595.6h0M162.5 596.3h0M150.5 601.5h0M120.7 596h0M155.3 605.7h0M156.7 600.9h0M169 596.4h0M124.2 594.6h0M122.3 597.2h0M146.6 609.4h0M169.2 599.3h0M154.1 597.6h0M124.3 599.3h0M168.9 598.9h0M136.6 600.5h0M121.6 598.4h0M128 603.3h0M155.4 598.4h0M155.3 599.3h0M164.4 594.5h0M145 611.4h0M138.5 603.5h0M138.2 605.6h0M137.4 606.7h0M176.1 594.8h0M160 600.4h0M116.6 595.5h0M175.2 596.2h0M161.7 600.7h0M138.5 604.3h0M160.7 595.1h0M139.5 607.1h0M137.2 606.8h0M111 594.1h0M136.5 597.9h0M128.3 600.2h0M153.6 596.5h0M170.7 593.8h0M153.6 605.8h0M150 607.6h0M159.1 596.3h0M125.9 594.9h0M140.2 605.8h0M137.6 599.4h0M152.4 606.9h0M176.2 594h0M145.6 610.7h0M166.4 595.8h0M177.1 593.8h0M144.5 611.1h0M159.8 598.8h0M126.5 601.2h0M163.3 597.6h0M152.4 600.6h0M139.1 602.2h0M148.8 609.7h0M159.2 597.8h0M138.1 607.5h0M129.2 604.5h0M150.4 605.9h0M167.8 594.5h0M125.4 601.5h0M159.9 602.3h0M134.7 605.1h0M144.3 610.4h0M132.1 600.8h0M166.7 600.9h0M148.9 607.1h0M151.1 607.8h0M131.4 600.5h0M125.7 602.3h0M137.3 599.2h0M134.2 605.9h0M143 608.6h0M125.1 598.6h0M144.8 610.8h0M157.6 593.7h0M136.1 604.3h0M158 595.9h0M141.3 609.8h0M140 606.8h0M125.3 601.4h0M138.9 605.5h0M151.4 605.8h0M168.7 598.3h0M119.7 595.1h0M110 593.6h0M172.8 596.6h0M165.1 597.5h0M114.7 594.6h0M140.1 606.2h0M126.5 600.2h0M119.4 594.1h0M174.4 595.5h0M126.1 597.3h0M168.6 597.6h0M149.9 607.5h0M152.4 601.6h0M135.7 599.7h0M135.5 605.7h0M128.8 596h0M140.9 605.1h0M166.6 597.9h0M159 601.5h0M131.8 602.2h0M144.7 610.9h0M134.7 603.9h0M116.6 596h0M119.1 595.8h0M154.2 598.6h0M123.8 594.1h0M139.1 607.5h0M126.1 596.9h0M125.8 594.9h0M171.5 593.9h0M122.5 594.2h0M124.8 595.6h0M161.7 602.1h0M154.2 605.5h0M149.8 608.8h0M114.6 594.3h0M120.2 597.1h0M165.4 601.1h0M174 595.1h0M160 600.1h0M139.2 605.1h0M127.5 596.6h0M147.6 606.9h0M153.1 600h0M141.8 606.3h0M163 599.6h0M144.9 610.8h0M137.2 603.3h0M137.8 605h0M161.2 596.8h0M142.3 608.8h0M133.1 601.8h0M164.1 599.1h0M174.1 596.2h0M142.1 610.4h0M134.7 595.5h0M144.6 611.5h0M148.4 607.4h0M136.4 607.4h0M172.9 594.4h0M158.5 598.9h0M170.6 596.5h0M135 599.4h0M129.4 595.2h0M119.5 597.7h0M135 603.7h0M119 595.9h0M156.4 600.5h0M150 607.6h0M128.1 602.2h0M167.2 594.9h0M124.8 599.9h0M147.1 610.5h0M128 601.6h0M148 606h0M140.3 604.2h0M162.1 600.1h0M158.3 596.6h0M139.4 606h0M146.5 610.3h0M136.4 601.9h0M153.9 601.5h0M148.1 609.6h0M134.1 603.7h0M168.6 595.3h0M147.4 611.1h0M130.1 593.8h0M160.6 598.1h0M152.6 604.6h0M120.3 594h0M159.4 600.1h0M140.3 609.5h0M168.9 595.8h0M128.8 600.6h0M151 602h0M140 606.5h0M149.8 605.7h0M133.6 600.8h0M145.8 609.8h0M138.7 608.8h0M138.6 604.9h0M151.9 603.1h0M174.4 594.6h0M121.9 594.9h0M156.1 595.6h0M134.6 601.8h0M161.2 595.9h0M159.5 594h0M153.5 596.8h0M171.2 596.9h0M129 602.1h0M172.2 595.3h0M113 594.1h0M130.1 603.1h0M147.6 607.8h0M131.3 594.4h0M131.4 594.6h0M150.3 604.2h0M136.4 600.7h0M115 595.4h0M149.3 605.3h0M154.6 605.1h0M172.4 595.5h0M146 610.9h0M176.1 594.7h0M140.9 606.4h0M160.5 597.2h0M110.7 594.5h0M156.9 603.2h0M157.4 597.5h0M155.3 603.3h0M129.1 598.3h0M145.3 611.4h0M148.4 610.4h0M159.6 596h0M149.2 605.5h0M146.8 610h0M120.5 595.6h0M112.8 595.9h0M175.8 595h0M134.3 599.9h0M148.1 608h0M153.8 600.3h0M163.9 601.9h0M130.4 602.3h0M153.7 601.1h0M132.2 605h0M109.9 593.8h0M151.6 606.5h0M151.3 606.8h0M152.9 599.2h0M131.8 599.9h0M137.1 606.3h0M165.8 600.7h0M148 605.3h0M134.2 596.5h0M153.9 599.9h0M126.9 595.8h0M137.3 604.1h0M119.9 596h0M138.6 607.7h0M166 600.4h0M147.9 607.7h0M142.4 607.5h0M143.7 609.5h0M149 606.9h0M154.1 599.5h0M165.1 598.4h0M162.2 600h0M159 597.9h0M131 599.1h0M133.1 595.6h0M144.8 611.1h0M157.6 598.6h0M135 605.6h0M163.7 601.5h0M134.8 600.3h0M144.1 611.5h0M120.6 595h0M126.3 593.8h0M137.5 606.4h0M147.8 609.2h0M138.8 608.3h0M158.1 603.6h0M138.9 609h0M173.4 594h0M138 605.6h0M121.7 596h0M159.7 603.8h0M159.5 601.2h0M155.4 599.7h0M146.6 609.8h0M136.9 602.2h0M138.7 606.1h0M167.9 593.6h0M168.7 596.6h0M147.8 608.7h0M148 607.1h0M123.9 595.5h0M145.9 611.5h0M133.6 604.8h0M138.3 606.1h0M165.2 597.7h0M158.8 599.8h0M164.8 601.4h0M145.9 608.6h0M130.4 600.7h0M145.4 609.6h0M132.7 598.3h0M149.5 604.2h0M143.1 609.3h0M161.9 597.5h0M120.5 597.2h0M172.8 593.9h0M163.4 602.8h0M127.3 598.2h0M119.3 598.7h0M133.1 604.6h0M137.3 601.3h0M157.7 601.8h0M160.6 597.1h0M146.1 609.2h0M128.9 598.2h0M137.5 600.9h0M132.5 596.1h0M154.3 600.2h0M143.9 609.8h0M151.2 601.4h0M139.7 608h0M130 593.7h0M138.9 608.2h0M154.6 595.4h0M127.2 596.8h0M147.4 609.8h0M135.8 601.4h0M150.2 603.1h0M151.5 606.3h0M120.6 596.9h0M120 596.8h0M128.1 598.6h0M151.2 606.2h0M127.5 597.7h0M162.3 594.8h0M149.8 607.4h0M137.7 605.6h0M148.6 605.4h0M115 595.1h0M149.2 603.8h0M147.7 610.3h0M125.3 593.6h0M141.3 605.8h0M150 603.5h0M136.5 603.6h0M158.1 598h0M146.9 607.4h0M148.4 607.7h0M170.8 595.9h0M159.5 593.9h0M132.2 602.3h0M152.6 604h0M171.4 594h0M120.8 599h0M163.6 596.3h0M130.3 596h0M178.6 594h0M126.8 595.5h0M160.9 595.1h0M160.1 593.7h0M142.8 610h0M153 602.4h0M134.3 606.2h0M149.8 607.4h0M140.9 609h0M148.2 608.6h0M157.2 595.9h0M128.7 596.8h0M149.3 608.3h0M144.7 611.2h0M141.1 606.4h0M159.4 600h0M116.8 593.9h0M160.1 604.3h0M144.8 611.1h0M157.3 599.8h0M114.5 594.8h0M142.9 610.3h0M141.7 606.7h0M148.7 607.6h0M154.8 598.2h0M135.8 601.5h0M157.7 601.4h0M158.6 598.3h0M130.7 595.7h0M121.7 598h0M144.1 610.2h0M138.3 603h0M159.2 598.6h0M129.4 601.9h0M116.5 593.9h0M144.9 610.8h0M158.6 599.7h0M138.6 604.8h0M169 596.5h0M166.6 594.1h0M147.9 607.4h0M129.7 601h0M151.8 606.5h0M133.2 595.1h0M141.4 606.8h0M133.5 601.1h0M128.3 601.7h0M161 597.5h0M144.1 609.6h0M135.7 606.9h0M160.1 599.8h0M135.5 605.4h0M130.3 601.7h0M178.3 594.6h0M158.8 596.5h0M142.9 610.2h0M148.4 609h0M169.8 598.9h0M143.5 609.2h0M130.9 604.9h0M168 597.8h0M130 600.3h0M110.9 593.6h0M138.9 606.7h0M135.8 598.8h0M149.4 608.8h0M148.9 605.2h0M165 599.6h0M134.1 603.4h0M154.8 594.8h0M144 610.2h0M160 597.6h0M127.4 602.4h0M136.6 607.1h0M126.8 594.1h0M148.3 610.1h0M172.3 595h0M133.4 602.4h0M156 597.6h0M141.7 609.8h0M143.3 609.2h0M167.8 595.8h0M158.7 602.9h0M138.1 601h0M159.6 603h0M143.8 609.4h0M142 609.6h0M146.1 609.9h0M127.6 599.1h0M165.4 598.9h0M147.8 607.1h0M165.3 599.7h0M130.1 594.5h0M127.8 597.5h0M163.2 603.2h0M162.6 595.2h0M143.7 610.2h0M150.8 601.5h0M142.4 609.1h0M123.7 598.7h0M148.3 610.5h0M120.4 596.3h0M164.5 598.1h0M154.1 598.1h0M125 594.4h0M143.8 610.4h0M158 599.4h0M147.4 608.7h0M142.9 610.6h0M115.2 594.6h0M142.8 609h0M164.9 594.1h0M175 593.7h0M125.7 598.8h0M151.4 602.6h0M148.3 606.5h0M114 595.3h0M141.7 608.6h0M148.9 608.2h0M118.9 594.5h0M148.8 604.7h0M158.8 603.5h0M133.2 602.8h0M158.3 601.5h0M127.4 596.5h0M157 594.8h0M177.3 593.8h0M127.5 595.8h0M134.2 594.5h0M146.2 609.5h0M154.6 603.6h0M159.3 604.7h0M164.6 595.8h0M149.9 607.1h0M168.4 594.1h0M150.1 602.9h0M142.6 609.8h0M177.8 594.9h0M149.7 602.9h0M137.5 600h0M147.8 607.8h0M153.2 597.4h0M129.3 596h0M158.2 595.4h0M140.8 608.9h0M145.7 611.2h0M149.1 606.5h0M142.5 607.9h0M117.9 596.2h0M123.4 594.9h0M146.6 610.6h0M169.8 595.4h0M154.3 605.1h0M164.4 594.1h0M140.2 607.5h0M147.6 610.1h0M160.6 595.2h0M150.9 604.1h0M140.3 605.1h0M159.7 595h0M127.1 597.8h0M136.7 601.7h0M150.9 607.7h0M171.8 597.3h0M151.1 603.9h0M129.8 595.1h0M132.2 601.2h0M161.7 599.6h0M163.2 593.8h0M159.7 602h0M146 611.2h0M144.5 611.4h0M133.7 606.8h0M161.6 596h0M136.7 603.7h0M126 595.2h0M121.4 595.3h0M139 603.3h0M146.1 610h0M151.2 604.7h0M113.8 595.1h0M134.1 597.7h0M121 595.2h0M137.1 602.3h0M149.6 608.8h0M165.6 594.8h0M155.9 599.1h0M170.9 595.4h0M126.7 602.1h0M149.8 608.3h0M162.4 602.2h0M159.7 602.2h0M168.4 597.3h0M157.6 593.8h0M141.2 606.9h0M135.4 596h0M156 604.5h0M126.1 600.9h0M152.9 601.5h0M162.2 596.1h0M169.6 597.2h0M138.3 601.6h0M144.6 610.8h0M131.2 593.7h0M116 597h0M150.2 602.4h0M136.4 601h0M167.2 598.3h0M147.4 607.2h0M137.8 603.4h0M152.8 601.3h0M159.2 599.6h0M176.2 595.8h0M157.2 593.8h0M120.1 596.3h0M153.7 597.3h0M156.1 598h0M143.6 609.7h0M138.8 603.4h0M169.2 595.4h0M149.1 606.2h0M131.9 601.5h0M150.7 603.3h0M133.5 602.6h0M147.1 607h0M168.2 595.1h0M159.4 593.8h0M148.1 609.4h0M154.4 609.3h0M109.2 606.8h0M105.8 600.1h0M133.7 608.4h0M132.9 609.3h0M121.6 598.7h0M153.1 607.1h0M111.8 595.4h0M204.6 605.4h0M126.9 600.8h0M114.9 600.4h0M173 606.4h0M147.1 610.6h0M160.6 602h0M188.2 601.4h0M101.3 597.5h0M198.2 598.2h0M183 598.4h0M137 609.6h0M106.7 600.1h0M178.2 596.5h0M163.7 601h0M132.2 608.6h0M142.8 611.4h0M125.1 602.3h0M150.2 610.6h0M197.6 598.2h0M165.3 607.5h0M160.1 601.6h0M101.6 595.4h0M101.6 601.1h0M109 596.4h0M135.1 606h0M141.6 611.4h0M154.3 609.6h0M129.6 606.8h0" stroke="#c4c4c4" stroke-width="1.9" stroke-linecap="round" fill="none" opacity="0.9"/>
<line x1="51.5" y1="593.3" x2="236.3" y2="593.3" stroke="#8c8c8c" stroke-width="0.9" stroke-dasharray="5.5 3"/>
<line x1="132.5" y1="444.4" x2="132.5" y2="620.3" stroke="#555" stroke-width="0.8" stroke-dasharray="5.5 3"/>
<line x1="157.6" y1="444.4" x2="157.6" y2="620.3" stroke="#555" stroke-width="0.8" stroke-dasharray="5.5 3"/>
<path d="M129.3 593.6h0M125.1 592.9h0M110.5 591.1h0M110.8 589.4h0M115.4 592.8h0M127.6 593.1h0M114.6 591.7h0M130.2 590.2h0M132 591.3h0M117.1 592.7h0M123.1 590.7h0M116.6 591.4h0M110 591.3h0M114.4 590.3h0M132.3 592.9h0M123.8 592.9h0M122.4 592h0M112.8 591.9h0M129.6 592.4h0M132 588h0M110.8 593h0M114.8 589.2h0M123.2 593.1h0M126.4 586.7h0M125.2 592.2h0M128.5 589.5h0M115.8 593h0M119.2 593.3h0M122.1 593.5h0M112.4 591h0M112.8 592.4h0M126 591.8h0M114.9 589.2h0M114.7 592h0M124.9 592.1h0M110.8 590.8h0M131.2 590.3h0M123.7 592.8h0M112.4 589.4h0M125.5 591.3h0M131.9 593.4h0M119.3 586.8h0M124.9 590.7h0M116.4 590.1h0M123.1 590.6h0M131.9 593.5h0M117.7 589.9h0M126.2 593.4h0M116.6 589.9h0M112 586.5h0M131.5 591.8h0M125.6 589.8h0M131.2 591.7h0M122.6 588.1h0M118.6 592.9h0M115.4 592.1h0M126.8 592.8h0M117.9 592.1h0M124.7 590.2h0M123.4 591.7h0M117.7 587.5h0M130.4 591.3h0M125 591h0M122.5 593.1h0M124.5 592.8h0M111.8 589.4h0M128.1 591.1h0M117.6 591.2h0M124.4 591.6h0M118.5 590.1h0M117 591.3h0M126.9 587.3h0M121.7 591.8h0M125.1 593.3h0M110.6 591.7h0M116 593.4h0M123.1 593.5h0M129.9 588.5h0M122.4 592h0M119.6 590.7h0M113 593.6h0M117.7 591.5h0M124.6 592h0M130.1 589h0M114.2 590.4h0M111.3 589.1h0M119.3 592.7h0M125.6 592.9h0M127.8 593.5h0M120.6 593.1h0M114.4 592.4h0M117.1 593.6h0M118.6 593.4h0M117 592.7h0M123.4 588.6h0M111.5 591.1h0M128.7 590.3h0M112.1 589.9h0M114.8 588.5h0M129.5 591.6h0M115.9 589.1h0M119.2 588.2h0M126.7 592.5h0M128 592.9h0M129.9 591h0M129.6 592.2h0M127.7 592.8h0M116.1 593h0M118 592.8h0M121.3 589.9h0M127.7 591.8h0M127.1 590.4h0M118 592.4h0M130.6 591.6h0M118.3 588.8h0M121.6 591h0M126.4 591.7h0M123.3 592h0M115 590.8h0M129.7 592.1h0M124.3 590h0M114.2 587.1h0M127.2 588.7h0M111.6 574.5h0M127.4 590.6h0M117 581h0M127.4 589.3h0M116.9 578.4h0M118.9 590.6h0M122.5 585.6h0M120.8 586.2h0M117.1 584.3h0M127 590.7h0M105.7 575.4h0M122.2 590.2h0M107.1 588.1h0M125.9 588.7h0M123.4 589.4h0M124 589.4h0M100.4 566.6h0M99.4 577.3h0M127.3 590.1h0M121.8 586.5h0M115.1 578.3h0M119.8 590.3h0M115.6 578.8h0M126.4 589.4h0M110.6 587.4h0M120.1 586.4h0M123.1 590.2h0M125.5 588.9h0M126.4 591h0M100.1 569.7h0M125.6 587.6h0M107.4 570.6h0M103.5 576.8h0M125.3 589h0M121.8 586.3h0M123 586.3h0M115.8 588.1h0M125.3 590.7h0M127.2 589.7h0M101.6 587h0M119.3 584.8h0M124.7 586.3h0M127.1 588.9h0M112.7 574.3h0M121 583.4h0M126.3 589.7h0M106 581.9h0M120.4 585.7h0M114.6 577.9h0M119.3 586.6h0M123.7 590.9h0M105.8 588.7h0M116.6 590.2h0M111.5 584.9h0M125 589.8h0M121.8 584.3h0M105.4 585.1h0M124.7 586.9h0M114.7 589.5h0M119.7 590.7h0M124.5 590.2h0M125.3 590.7h0M121.5 589.5h0M102.7 575.7h0M110.1 587.5h0M126.4 589.7h0M115.6 582h0M80.2 452.3h0M85.6 510.2h0M93.8 527.3h0M82.6 545.7h0M93.6 545.7h0M96.8 545.7h0M96.3 543h0M116.8 539.3h0M112.3 544.7h0M107.3 551.4h0M105.5 556.3h0M98 560.3h0M59.6 559.8h0M61.3 566h0M78.4 592.6h0M94.3 592.6h0M99.3 588.4h0M106.2 592.6h0M104.5 560.5h0M109 558.5h0M112 560h0M114.5 560.5h0M103 565.5h0M105 569h0M107 572h0M112.5 567h0M119.5 566.5h0M122.5 569.5h0M104 575h0M108 579.5h0M116 572.5h0M118 577h0" stroke="#666666" stroke-width="4.0" stroke-linecap="round" fill="none"/>
<path d="M157.7 589.7h0M158.5 588h0M165.5 592.6h0M169.1 591.9h0M169.7 592.5h0M165.7 589.3h0M165.9 590.8h0M159.5 587.8h0M167.3 586.6h0M170.1 589.9h0M170.4 588.4h0M169.2 588.1h0M166.4 593h0M159.4 593.5h0M159.8 592.1h0M165.8 591.6h0M163.3 590.9h0M159.1 589.5h0M163.7 584h0M162.5 590.5h0M171.3 591.1h0M170.8 590.3h0M157.7 587.4h0M164 591.8h0M171.2 590.6h0M168.3 593.4h0M165.8 591.3h0M170.6 589h0M157.9 590.4h0M167 588.3h0M167.7 591.5h0M166.8 586.8h0M157.8 591h0M158.1 592.3h0M163.7 591.4h0M163.9 589.2h0M167.3 585.2h0M160.1 589.4h0M171 589.9h0M161.1 591.9h0M168.7 590.2h0M171.9 588.1h0M160.4 573.1h0M175.4 579.4h0M164.2 578.7h0M162 580.7h0M164.5 577.2h0M167.6 576.4h0M167.8 572.2h0M158.9 570.6h0M159.1 572.5h0M170.2 573h0M168.6 583h0M166.1 572.4h0M165.6 584.3h0M164.8 576.8h0M193.1 529.5h0M219.6 528.3h0M227.8 540.2h0M163.5 548.9h0M184.4 557.1h0M186.9 557.8h0M183.9 564h0M194.3 564h0M210 568.5h0M200.5 577.9h0M167 566.5h0M173.2 568.2h0M179.9 566h0M179.9 570.2h0M193.8 588.1h0M203.5 587.4h0M201.7 591.3h0M209.4 589.1h0M188.8 591.6h0M180.6 592.1h0M180.6 576.5h0M182.4 581.9h0M178.2 583.4h0M170 573h0M164.5 570.5h0M158.5 572h0M166 576.5h0M172 580.5h0M169.5 585h0" stroke="#2673ab" stroke-width="3.9" stroke-linecap="round" fill="none"/>
<rect x="51.5" y="444.4" width="184.8" height="175.9" fill="none" stroke="#767676" stroke-width="1.0"/>
<line x1="49.1" y1="612.2" x2="51.5" y2="612.2" stroke="#444" stroke-width="0.8"/>
<text x="47.5" y="615.3" font-size="8.8" fill="#222" text-anchor="end">0</text>
<line x1="49.1" y1="569.3" x2="51.5" y2="569.3" stroke="#444" stroke-width="0.8"/>
<text x="47.5" y="572.4" font-size="8.8" fill="#222" text-anchor="end">3</text>
<line x1="49.1" y1="526.3" x2="51.5" y2="526.3" stroke="#444" stroke-width="0.8"/>
<text x="47.5" y="529.4" font-size="8.8" fill="#222" text-anchor="end">6</text>
<line x1="49.1" y1="483.4" x2="51.5" y2="483.4" stroke="#444" stroke-width="0.8"/>
<text x="47.5" y="486.5" font-size="8.8" fill="#222" text-anchor="end">9</text>
<line x1="95.6" y1="620.3" x2="95.6" y2="622.7" stroke="#444" stroke-width="0.8"/>
<text x="95.6" y="630.7" font-size="8.8" fill="#222" text-anchor="middle">−2</text>
<line x1="144.7" y1="620.3" x2="144.7" y2="622.7" stroke="#444" stroke-width="0.8"/>
<text x="144.7" y="630.7" font-size="8.8" fill="#222" text-anchor="middle">0</text>
<line x1="193.8" y1="620.3" x2="193.8" y2="622.7" stroke="#444" stroke-width="0.8"/>
<text x="193.8" y="630.7" font-size="8.8" fill="#222" text-anchor="middle">2</text>
<text x="144" y="638.3" font-size="9.7" fill="#000" text-anchor="middle">Log2 Fold Change</text>
<text x="35.2" y="539" font-size="9.9" fill="#000" text-anchor="middle" transform="rotate(-90 35.2 539)">-Log10(FDR)</text>
<circle cx="142.9" cy="458" r="5.6" fill="#2673ab"/>
<text x="150.6" y="462.3" font-size="10" fill="#000">TAM_PLTP UP</text>
<circle cx="142.9" cy="480.9" r="5.6" fill="#666666"/>
<text x="150.2" y="485.1" font-size="10" fill="#000">TAM_MARCO UP</text>
<text x="65.3" y="461.8" font-size="6.2" fill="#111" font-style="italic" stroke="#111" stroke-width="0.18">FBP1</text>
<text x="72" y="505" font-size="6.2" fill="#111" font-style="italic" stroke="#111" stroke-width="0.18">MX1</text>
<text x="73.2" y="521.8" font-size="6.2" fill="#111" font-style="italic" stroke="#111" stroke-width="0.18">SLC11A1</text>
<text x="110.4" y="524.6" font-size="6.2" fill="#111" font-style="italic" stroke="#111" stroke-width="0.18">PPARG</text>
<text x="56.3" y="540.4" font-size="6.2" fill="#111" font-style="italic" stroke="#111" stroke-width="0.18">MARCO</text>
<text x="87.4" y="538.2" font-size="6.2" fill="#111" font-style="italic" stroke="#111" stroke-width="0.18">IFIT3</text>
<text x="122.8" y="541" font-size="6.2" fill="#111" font-style="italic" stroke="#111" stroke-width="0.18">TXNIP</text>
<text x="74.5" y="555.3" font-size="6.2" fill="#111" font-style="italic" stroke="#111" stroke-width="0.18">GLIPR2</text>
<text x="117.3" y="554.1" font-size="6.2" fill="#111" font-style="italic" stroke="#111" stroke-width="0.18">LTA4H</text>
<text x="62.8" y="563.5" font-size="6.2" fill="#111" font-style="italic" stroke="#111" stroke-width="0.18">MCEMP1</text>
<text x="60.8" y="575.7" font-size="6.2" fill="#111" font-style="italic" stroke="#111" stroke-width="0.18">EREG</text>
<text x="88.9" y="575.7" font-size="6.2" fill="#111" font-style="italic" stroke="#111" stroke-width="0.18">LPL</text>
<text x="174.5" y="524.6" font-size="6.2" fill="#111" font-style="italic" stroke="#111" stroke-width="0.18">C1orf54</text>
<text x="209.2" y="522.8" font-size="6.2" fill="#111" font-style="italic" stroke="#111" stroke-width="0.18">TMIGD3</text>
<text x="169.5" y="544.9" font-size="6.2" fill="#111" font-style="italic" stroke="#111" stroke-width="0.18">GPR34</text>
<text x="198.8" y="544.9" font-size="6.2" fill="#111" font-style="italic" stroke="#111" stroke-width="0.18">SLC40A1</text>
<text x="192.3" y="558.3" font-size="6.2" fill="#111" font-style="italic" stroke="#111" stroke-width="0.18">PLTP</text>
<text x="186.9" y="572.7" font-size="6.2" fill="#111" font-style="italic" stroke="#111" stroke-width="0.18">SERPINF1</text>
<text x="212.2" y="583.4" font-size="6.2" fill="#111" font-style="italic" stroke="#111" stroke-width="0.18">FOLR2</text>
<line x1="79" y1="455.5" x2="80" y2="453.5" stroke="#444" stroke-width="0.5"/>
<line x1="84.4" y1="502" x2="85.6" y2="508" stroke="#444" stroke-width="0.5"/>
<line x1="91.8" y1="523.8" x2="93.8" y2="526.3" stroke="#444" stroke-width="0.5"/>
<line x1="109.2" y1="521.8" x2="96.3" y2="544.7" stroke="#444" stroke-width="0.5"/>
<line x1="79.4" y1="540.4" x2="82.4" y2="544.7" stroke="#444" stroke-width="0.5"/>
<line x1="95.6" y1="539.2" x2="96.8" y2="544.2" stroke="#444" stroke-width="0.5"/>
<line x1="121.6" y1="539.2" x2="117.9" y2="539.2" stroke="#444" stroke-width="0.5"/>
<line x1="91.3" y1="551.6" x2="93.6" y2="546.2" stroke="#444" stroke-width="0.5"/>
<line x1="115.9" y1="552.1" x2="108.7" y2="551.4" stroke="#444" stroke-width="0.5"/>
<line x1="93.8" y1="572" x2="97.8" y2="561.5" stroke="#444" stroke-width="0.5"/>
<line x1="60.8" y1="560.8" x2="62.5" y2="561.5" stroke="#444" stroke-width="0.5"/>
<line x1="62" y1="567" x2="65" y2="571" stroke="#444" stroke-width="0.5"/>
<line x1="189.8" y1="525.6" x2="192.6" y2="528.8" stroke="#444" stroke-width="0.5"/>
<line x1="179.4" y1="546.2" x2="185.1" y2="556.6" stroke="#444" stroke-width="0.5"/>
<line x1="191.3" y1="557.1" x2="187.4" y2="557.6" stroke="#444" stroke-width="0.5"/>
<line x1="195.6" y1="565.3" x2="198" y2="569" stroke="#444" stroke-width="0.5"/>
<line x1="210" y1="569" x2="210" y2="580.2" stroke="#444" stroke-width="0.5"/>
<text x="269.7" y="450.2" font-size="16.8" fill="#231815" font-weight="bold">F</text>
<path d="M331.6 461.5V537H381.3" stroke="#333" stroke-width="0.8" fill="none"/>
<line x1="329.4" y1="474.1" x2="331.6" y2="474.1" stroke="#333" stroke-width="0.7"/>
<text x="328.2" y="477.1" font-size="8.4" fill="#463d3d" text-anchor="end">10</text>
<line x1="329.4" y1="495.6" x2="331.6" y2="495.6" stroke="#333" stroke-width="0.7"/>
<text x="328.2" y="498.6" font-size="8.4" fill="#463d3d" text-anchor="end">5</text>
<line x1="329.4" y1="517.1" x2="331.6" y2="517.1" stroke="#333" stroke-width="0.7"/>
<text x="328.2" y="520.1" font-size="8.4" fill="#463d3d" text-anchor="end">0</text>
<line x1="344.9" y1="537" x2="344.9" y2="539.2" stroke="#333" stroke-width="0.7"/>
<line x1="367.8" y1="537" x2="367.8" y2="539.2" stroke="#333" stroke-width="0.7"/>
<path d="M344.9 464.6C344.7 465.2 344.4 466.8 343.6 468C342.9 469.2 341.5 470.7 340.2 472C338.9 473.3 336.9 474.6 336 476C335 477.4 334.5 478.9 334.4 480.2C334.3 481.5 334.7 482.7 335.4 484C336.2 485.3 338 486.8 339.1 488C340.3 489.2 341.5 490 342.3 491C343.1 492 343.6 492.7 343.8 494.2C344.1 495.7 344.1 498.4 344.1 500C344 501.6 343.6 502.8 343.4 504C343.3 505.2 343 506.1 343 507.1C343 508.1 343.3 509 343.5 510C343.7 511 344 511.9 344.3 513C344.5 514.1 344.8 515.8 344.9 516.4C345 515.8 345.3 514.1 345.5 513C345.8 511.9 346.1 511 346.3 510C346.5 509 346.8 508.1 346.8 507.1C346.8 506.1 346.5 505.2 346.4 504C346.2 502.8 345.8 501.6 345.7 500C345.7 498.4 345.7 495.7 345.9 494.2C346.2 492.7 346.7 492 347.5 491C348.3 490 349.5 489.2 350.7 488C351.8 486.8 353.6 485.3 354.3 484C355.1 482.7 355.5 481.5 355.4 480.2C355.3 478.9 354.8 477.4 353.8 476C352.9 474.6 350.9 473.3 349.6 472C348.3 470.7 346.9 469.2 346.2 468C345.4 466.8 345.1 465.2 344.9 464.6Z" fill="#808080" stroke="#2b2b2b" stroke-width="0.6" stroke-linejoin="round"/>
<path d="M367.8 465C367.7 465.8 367.6 468.2 367.2 470C366.8 471.8 366.3 474.2 365.5 476C364.6 477.8 363.1 479.5 362 481C360.9 482.5 359.7 483.6 358.9 485C358.1 486.4 357.4 488.1 357.3 489.6C357.2 491.1 357.6 492.4 358.1 494C358.7 495.6 359.7 497.2 360.4 499C361.2 500.8 362 502.9 362.6 505C363.1 507.1 363.2 509.6 363.6 511.8C364 514 364.2 516 364.7 518C365.1 520 365.6 522.2 366 524C366.4 525.8 366.8 527.4 367.1 529C367.4 530.6 367.7 533.1 367.8 533.9C367.9 533.1 368.2 530.6 368.5 529C368.8 527.4 369.2 525.8 369.6 524C370 522.2 370.5 520 370.9 518C371.4 516 371.6 514 372 511.8C372.4 509.6 372.5 507.1 373.1 505C373.6 502.9 374.4 500.8 375.2 499C375.9 497.2 376.9 495.6 377.5 494C378 492.4 378.4 491.1 378.3 489.6C378.2 488.1 377.5 486.4 376.7 485C375.9 483.6 374.7 482.5 373.6 481C372.5 479.5 371 477.8 370.1 476C369.3 474.2 368.8 471.8 368.4 470C368 468.2 367.9 465.8 367.8 465Z" fill="#2e7fb4" stroke="#2b2b2b" stroke-width="0.6" stroke-linejoin="round"/>
<line x1="344.9" y1="474.4" x2="344.9" y2="486.1" stroke="#2b2b2b" stroke-width="0.55"/>
<rect x="343.1" y="476.7" width="3.5" height="8.7" fill="none" stroke="#2b2b2b" stroke-width="0.55"/>
<line x1="343.1" y1="480.9" x2="346.6" y2="480.9" stroke="#2b2b2b" stroke-width="0.7"/>
<line x1="367.8" y1="486" x2="367.8" y2="514.5" stroke="#2b2b2b" stroke-width="0.55"/>
<rect x="366.1" y="487.7" width="3.5" height="15.4" fill="none" stroke="#2b2b2b" stroke-width="0.55"/>
<line x1="366.1" y1="490" x2="369.6" y2="490" stroke="#2b2b2b" stroke-width="0.7"/>
<text x="356.4" y="445.9" font-size="10.4" fill="#1a1a1a" text-anchor="middle" font-style="italic">MX1</text>
<text x="356.1" y="459.9" font-size="7.75" fill="#1a1a1a" text-anchor="middle">7.18e−08</text>
<line x1="344.9" y1="463.4" x2="367.8" y2="463.4" stroke="#333" stroke-width="0.7"/>
<path d="M407.2 461.5V537H457" stroke="#333" stroke-width="0.8" fill="none"/>
<line x1="405" y1="471.6" x2="407.2" y2="471.6" stroke="#333" stroke-width="0.7"/>
<text x="403.8" y="474.6" font-size="8.4" fill="#463d3d" text-anchor="end">10</text>
<line x1="405" y1="493.3" x2="407.2" y2="493.3" stroke="#333" stroke-width="0.7"/>
<text x="403.8" y="496.3" font-size="8.4" fill="#463d3d" text-anchor="end">5</text>
<line x1="405" y1="515.3" x2="407.2" y2="515.3" stroke="#333" stroke-width="0.7"/>
<text x="403.8" y="518.3" font-size="8.4" fill="#463d3d" text-anchor="end">0</text>
<line x1="405" y1="537" x2="407.2" y2="537" stroke="#333" stroke-width="0.7"/>
<text x="403.8" y="540" font-size="8.4" fill="#463d3d" text-anchor="end">−5</text>
<line x1="420.5" y1="537" x2="420.5" y2="539.2" stroke="#333" stroke-width="0.7"/>
<line x1="443.2" y1="537" x2="443.2" y2="539.2" stroke="#333" stroke-width="0.7"/>
<path d="M420.5 470.2C420.3 470.7 420.1 472 419.4 473C418.8 474 418 475 416.8 476C415.7 477 413.8 477.9 412.6 479C411.5 480.1 410.2 481.5 410 482.6C409.8 483.7 410.6 484.5 411.6 485.5C412.5 486.5 414.6 487.5 415.8 488.5C416.9 489.5 417.8 490.4 418.4 491.5C419 492.6 419.3 493.8 419.7 495C420 496.2 420.4 498.2 420.5 498.9C420.6 498.2 421 496.2 421.3 495C421.7 493.8 422 492.6 422.6 491.5C423.2 490.4 424.1 489.5 425.2 488.5C426.4 487.5 428.5 486.5 429.4 485.5C430.4 484.5 431.2 483.7 431 482.6C430.8 481.5 429.5 480.1 428.4 479C427.2 477.9 425.3 477 424.2 476C423 475 422.2 474 421.6 473C420.9 472 420.7 470.7 420.5 470.2Z" fill="#808080" stroke="#2b2b2b" stroke-width="0.6" stroke-linejoin="round"/>
<path d="M443.2 465C443.1 465.8 443 468.3 442.5 470C442 471.7 441.3 473.3 440.3 475C439.2 476.7 437.5 478.5 436.4 480C435.3 481.5 434.4 482.6 433.8 484C433.1 485.4 432.8 486.9 432.7 488.4C432.6 489.9 432.9 491.4 433.2 493C433.5 494.6 434.2 496.4 434.6 498C435 499.6 435.4 500.9 435.4 502.4C435.5 503.9 435.2 505.2 435 507C434.8 508.8 434.2 511.1 434.3 512.9C434.3 514.7 434.7 516.3 435.3 518C435.9 519.7 437 521.3 437.9 523C438.9 524.7 440.2 526.7 440.9 528C441.6 529.3 441.9 530 442.3 531C442.6 532 443 533.5 443.2 534C443.4 533.5 443.8 532 444.1 531C444.5 530 444.8 529.3 445.5 528C446.2 526.7 447.5 524.7 448.4 523C449.4 521.3 450.5 519.7 451.1 518C451.7 516.3 452.1 514.7 452.1 512.9C452.2 511.1 451.6 508.8 451.4 507C451.2 505.2 450.9 503.9 451 502.4C451 500.9 451.4 499.6 451.8 498C452.2 496.4 452.9 494.6 453.2 493C453.5 491.4 453.8 489.9 453.7 488.4C453.6 486.9 453.3 485.4 452.6 484C452 482.6 451.1 481.5 450 480C448.9 478.5 447.2 476.7 446.1 475C445.1 473.3 444.4 471.7 443.9 470C443.4 468.3 443.3 465.8 443.2 465Z" fill="#2e7fb4" stroke="#2b2b2b" stroke-width="0.6" stroke-linejoin="round"/>
<line x1="420.5" y1="476.7" x2="420.5" y2="493.1" stroke="#2b2b2b" stroke-width="0.55"/>
<rect x="418.8" y="479.8" width="3.5" height="5.8" fill="none" stroke="#2b2b2b" stroke-width="0.55"/>
<line x1="418.8" y1="482.6" x2="422.2" y2="482.6" stroke="#2b2b2b" stroke-width="0.7"/>
<line x1="443.2" y1="485" x2="443.2" y2="514" stroke="#2b2b2b" stroke-width="0.55"/>
<rect x="441.4" y="486.8" width="3.5" height="26.6" fill="none" stroke="#2b2b2b" stroke-width="0.55"/>
<line x1="441.4" y1="497" x2="444.9" y2="497" stroke="#2b2b2b" stroke-width="0.7"/>
<text x="431.9" y="445.9" font-size="10.4" fill="#1a1a1a" text-anchor="middle" font-style="italic">IFIT3</text>
<text x="431.6" y="459.9" font-size="7.75" fill="#1a1a1a" text-anchor="middle">1.48e−05</text>
<line x1="420.5" y1="463.4" x2="443.2" y2="463.4" stroke="#333" stroke-width="0.7"/>
<path d="M484.3 461.5V537H534.3" stroke="#333" stroke-width="0.8" fill="none"/>
<line x1="482.1" y1="478.4" x2="484.3" y2="478.4" stroke="#333" stroke-width="0.7"/>
<text x="480.9" y="481.4" font-size="8.4" fill="#463d3d" text-anchor="end">10</text>
<line x1="482.1" y1="501.2" x2="484.3" y2="501.2" stroke="#333" stroke-width="0.7"/>
<text x="480.9" y="504.2" font-size="8.4" fill="#463d3d" text-anchor="end">5</text>
<line x1="482.1" y1="524.1" x2="484.3" y2="524.1" stroke="#333" stroke-width="0.7"/>
<text x="480.9" y="527.1" font-size="8.4" fill="#463d3d" text-anchor="end">0</text>
<line x1="497.8" y1="537" x2="497.8" y2="539.2" stroke="#333" stroke-width="0.7"/>
<line x1="520.5" y1="537" x2="520.5" y2="539.2" stroke="#333" stroke-width="0.7"/>
<path d="M497.8 465.5C497.7 465.9 497.6 467.1 497 468C496.3 468.9 495.4 469.8 494.1 471C492.9 472.2 490.5 473.7 489.4 475C488.3 476.3 487.4 477.7 487.3 479C487.2 480.3 488 481.7 488.9 483C489.8 484.3 491.5 485.7 492.6 487C493.6 488.3 494.5 489.7 495.2 491C495.8 492.3 496.2 493.8 496.5 495C496.9 496.2 497 497 497.2 498C497.4 499 497.7 500.7 497.8 501.2C497.9 500.7 498.2 499 498.4 498C498.6 497 498.7 496.2 499.1 495C499.4 493.8 499.8 492.3 500.4 491C501.1 489.7 502 488.3 503.1 487C504.1 485.7 505.9 484.3 506.7 483C507.6 481.7 508.4 480.3 508.3 479C508.2 477.7 507.3 476.3 506.2 475C505.1 473.7 502.7 472.2 501.5 471C500.2 469.8 499.3 468.9 498.6 468C498 467.1 497.9 465.9 497.8 465.5Z" fill="#808080" stroke="#2b2b2b" stroke-width="0.6" stroke-linejoin="round"/>
<path d="M520.5 468.5C520.4 469.1 520.2 470.8 519.7 472C519.1 473.2 518.5 474.7 517.4 476C516.2 477.3 513.9 478.5 512.6 480C511.4 481.5 510.1 483.4 510 484.9C509.9 486.4 511.1 487.6 512.1 489C513.1 490.4 515.2 491.7 516.3 493C517.4 494.3 518.2 495.5 518.7 497C519.3 498.5 519.5 500.2 519.7 502C519.9 503.8 519.9 506.2 519.9 508C519.9 509.8 519.9 511.3 519.7 513C519.4 514.7 518.7 516.5 518.4 518C518.1 519.5 517.8 521 517.9 522.3C517.9 523.6 518.3 524.7 518.6 526C518.9 527.3 519.5 528.7 519.8 530C520.1 531.3 520.4 533.3 520.5 534C520.6 533.3 520.9 531.3 521.2 530C521.5 528.7 522.1 527.3 522.4 526C522.7 524.7 523.1 523.6 523.1 522.3C523.2 521 522.9 519.5 522.6 518C522.3 516.5 521.6 514.7 521.3 513C521.1 511.3 521.1 509.8 521.1 508C521.1 506.2 521.1 503.8 521.3 502C521.5 500.2 521.7 498.5 522.3 497C522.8 495.5 523.6 494.3 524.7 493C525.8 491.7 527.9 490.4 528.9 489C529.9 487.6 531.1 486.4 531 484.9C530.9 483.4 529.6 481.5 528.4 480C527.1 478.5 524.8 477.3 523.6 476C522.5 474.7 521.9 473.2 521.3 472C520.8 470.8 520.6 469.1 520.5 468.5Z" fill="#2e7fb4" stroke="#2b2b2b" stroke-width="0.6" stroke-linejoin="round"/>
<line x1="497.8" y1="473.5" x2="497.8" y2="494" stroke="#2b2b2b" stroke-width="0.55"/>
<rect x="496.1" y="476" width="3.5" height="8.2" fill="none" stroke="#2b2b2b" stroke-width="0.55"/>
<line x1="496.1" y1="479.8" x2="499.6" y2="479.8" stroke="#2b2b2b" stroke-width="0.7"/>
<line x1="520.5" y1="480.5" x2="520.5" y2="500.1" stroke="#2b2b2b" stroke-width="0.55"/>
<rect x="518.8" y="482.6" width="3.5" height="10" fill="none" stroke="#2b2b2b" stroke-width="0.55"/>
<line x1="518.8" y1="485.4" x2="522.2" y2="485.4" stroke="#2b2b2b" stroke-width="0.7"/>
<text x="509.1" y="445.9" font-size="10.4" fill="#1a1a1a" text-anchor="middle" font-style="italic">ISG15</text>
<text x="508.8" y="459.9" font-size="7.75" fill="#1a1a1a" text-anchor="middle">2.46e−04</text>
<line x1="497.8" y1="463.4" x2="520.5" y2="463.4" stroke="#333" stroke-width="0.7"/>
<path d="M559.1 461.5V537H609.6" stroke="#333" stroke-width="0.8" fill="none"/>
<line x1="556.9" y1="472.3" x2="559.1" y2="472.3" stroke="#333" stroke-width="0.7"/>
<text x="555.7" y="475.3" font-size="8.4" fill="#463d3d" text-anchor="end">10</text>
<line x1="556.9" y1="488.5" x2="559.1" y2="488.5" stroke="#333" stroke-width="0.7"/>
<text x="555.7" y="491.5" font-size="8.4" fill="#463d3d" text-anchor="end">9</text>
<line x1="556.9" y1="504.4" x2="559.1" y2="504.4" stroke="#333" stroke-width="0.7"/>
<text x="555.7" y="507.4" font-size="8.4" fill="#463d3d" text-anchor="end">8</text>
<line x1="556.9" y1="520.7" x2="559.1" y2="520.7" stroke="#333" stroke-width="0.7"/>
<text x="555.7" y="523.7" font-size="8.4" fill="#463d3d" text-anchor="end">7</text>
<line x1="556.9" y1="536.9" x2="559.1" y2="536.9" stroke="#333" stroke-width="0.7"/>
<text x="555.7" y="539.9" font-size="8.4" fill="#463d3d" text-anchor="end">6</text>
<line x1="573.3" y1="537" x2="573.3" y2="539.2" stroke="#333" stroke-width="0.7"/>
<line x1="595.9" y1="537" x2="595.9" y2="539.2" stroke="#333" stroke-width="0.7"/>
<path d="M573.3 470.5C573.1 471.1 572.9 472.8 572.2 474C571.6 475.2 570.9 476.7 569.6 478C568.4 479.3 566 480.7 564.9 482C563.8 483.3 562.8 484.6 562.8 485.8C562.8 487 563.9 488 564.9 489C565.9 490 567.7 491 568.6 492C569.5 493 569.9 493.8 570.4 495C570.8 496.2 571.2 497.8 571.5 499C571.9 500.2 572.2 500.9 572.5 502C572.8 503.1 573.2 504.9 573.3 505.5C573.4 504.9 573.8 503.1 574.1 502C574.4 500.9 574.7 500.2 575.1 499C575.4 497.8 575.8 496.2 576.2 495C576.7 493.8 577.1 493 578 492C578.9 491 580.7 490 581.7 489C582.7 488 583.8 487 583.8 485.8C583.8 484.6 582.8 483.3 581.7 482C580.6 480.7 578.2 479.3 577 478C575.7 476.7 575 475.2 574.3 474C573.7 472.8 573.5 471.1 573.3 470.5Z" fill="#808080" stroke="#2b2b2b" stroke-width="0.6" stroke-linejoin="round"/>
<path d="M595.9 462.8C595.8 463.7 595.7 466.1 595.3 468C594.9 469.9 594.3 472 593.6 474C592.9 476 591.8 478 590.9 480C589.9 482 588.8 484 588 486C587.2 488 586.5 490 586 492C585.6 494 585.4 495.9 585.4 497.9C585.4 499.9 585.6 502 586 504C586.4 506 587 508 587.7 510C588.4 512 589.3 514 590.1 516C591 518 592 520.2 592.8 522C593.5 523.8 594 525.2 594.5 527C595.1 528.8 595.7 531.9 595.9 532.9C596.1 531.9 596.7 528.8 597.3 527C597.8 525.2 598.3 523.8 599 522C599.8 520.2 600.8 518 601.7 516C602.5 514 603.4 512 604.1 510C604.8 508 605.4 506 605.8 504C606.2 502 606.4 499.9 606.4 497.9C606.4 495.9 606.2 494 605.8 492C605.3 490 604.6 488 603.8 486C603 484 601.9 482 600.9 480C600 478 598.9 476 598.2 474C597.5 472 596.9 469.9 596.5 468C596.1 466.1 596 463.7 595.9 462.8Z" fill="#2e7fb4" stroke="#2b2b2b" stroke-width="0.6" stroke-linejoin="round"/>
<line x1="573.3" y1="477.1" x2="573.3" y2="493.5" stroke="#2b2b2b" stroke-width="0.55"/>
<rect x="571.5" y="483.2" width="3.5" height="6.4" fill="none" stroke="#2b2b2b" stroke-width="0.55"/>
<line x1="571.5" y1="486.5" x2="575" y2="486.5" stroke="#2b2b2b" stroke-width="0.7"/>
<line x1="595.9" y1="481.5" x2="595.9" y2="516.5" stroke="#2b2b2b" stroke-width="0.55"/>
<rect x="594.1" y="489.1" width="3.5" height="18.6" fill="none" stroke="#2b2b2b" stroke-width="0.55"/>
<line x1="594.1" y1="498.3" x2="597.6" y2="498.3" stroke="#2b2b2b" stroke-width="0.7"/>
<text x="584.6" y="445.9" font-size="10.4" fill="#1a1a1a" text-anchor="middle" font-style="italic">CD44</text>
<text x="584.3" y="459.9" font-size="7.75" fill="#1a1a1a" text-anchor="middle">0.016</text>
<line x1="573.3" y1="463.4" x2="595.9" y2="463.4" stroke="#333" stroke-width="0.7"/>
<path d="M635.7 461.5V537H685" stroke="#333" stroke-width="0.8" fill="none"/>
<line x1="633.5" y1="472.3" x2="635.7" y2="472.3" stroke="#333" stroke-width="0.7"/>
<text x="632.3" y="475.3" font-size="8.4" fill="#463d3d" text-anchor="end">10</text>
<line x1="633.5" y1="494.2" x2="635.7" y2="494.2" stroke="#333" stroke-width="0.7"/>
<text x="632.3" y="497.2" font-size="8.4" fill="#463d3d" text-anchor="end">5</text>
<line x1="633.5" y1="516.1" x2="635.7" y2="516.1" stroke="#333" stroke-width="0.7"/>
<text x="632.3" y="519.1" font-size="8.4" fill="#463d3d" text-anchor="end">0</text>
<line x1="648.4" y1="537" x2="648.4" y2="539.2" stroke="#333" stroke-width="0.7"/>
<line x1="671.4" y1="537" x2="671.4" y2="539.2" stroke="#333" stroke-width="0.7"/>
<path d="M648.4 476C648.2 476.4 647.9 477.7 647.4 478.5C646.8 479.3 646.4 480.2 645.2 481C644.1 481.8 641.8 482.7 640.5 483.5C639.3 484.3 637.9 485.1 637.9 485.8C637.9 486.6 639.3 487.2 640.5 488C641.7 488.8 644 489.7 645 490.5C646.1 491.3 646.4 492.2 646.8 493C647.3 493.8 647.4 494.7 647.7 495.5C647.9 496.3 648.3 497.5 648.4 497.9C648.5 497.5 648.9 496.3 649.1 495.5C649.4 494.7 649.5 493.8 650 493C650.4 492.2 650.7 491.3 651.8 490.5C652.8 489.7 655.1 488.8 656.3 488C657.5 487.2 658.9 486.6 658.9 485.8C658.9 485.1 657.5 484.3 656.3 483.5C655 482.7 652.7 481.8 651.5 481C650.4 480.2 650 479.3 649.4 478.5C648.9 477.7 648.6 476.4 648.4 476Z" fill="#808080" stroke="#2b2b2b" stroke-width="0.6" stroke-linejoin="round"/>
<path d="M671.4 462.8C671.3 463.7 671.1 466.1 670.8 468C670.4 469.9 670.1 472 669.3 474C668.5 476 667.3 478.2 666.1 480C665 481.8 663.4 483.3 662.5 485C661.6 486.7 661 488.5 660.9 490.2C660.8 491.9 661.3 493.4 661.7 495C662.2 496.6 663.1 498.4 663.6 500C664.1 501.6 664.6 502.9 664.8 504.4C665 505.9 665 507.4 664.9 509C664.8 510.6 664.3 512.6 664.4 514.3C664.4 516 664.8 517.4 665.3 519C665.9 520.6 666.9 522.5 667.6 524C668.3 525.5 669 526.5 669.6 528C670.2 529.5 671.1 532.1 671.4 532.9C671.7 532.1 672.6 529.5 673.2 528C673.8 526.5 674.5 525.5 675.2 524C675.9 522.5 676.9 520.6 677.5 519C678 517.4 678.4 516 678.4 514.3C678.5 512.6 678 510.6 677.9 509C677.8 507.4 677.8 505.9 678 504.4C678.2 502.9 678.7 501.6 679.2 500C679.7 498.4 680.6 496.6 681.1 495C681.5 493.4 682 491.9 681.9 490.2C681.8 488.5 681.2 486.7 680.3 485C679.4 483.3 677.8 481.8 676.6 480C675.5 478.2 674.3 476 673.5 474C672.7 472 672.4 469.9 672 468C671.7 466.1 671.5 463.7 671.4 462.8Z" fill="#2e7fb4" stroke="#2b2b2b" stroke-width="0.6" stroke-linejoin="round"/>
<line x1="648.4" y1="482" x2="648.4" y2="491" stroke="#2b2b2b" stroke-width="0.55"/>
<rect x="646.6" y="484.1" width="3.5" height="3.9" fill="none" stroke="#2b2b2b" stroke-width="0.55"/>
<line x1="646.6" y1="485.8" x2="650.1" y2="485.8" stroke="#2b2b2b" stroke-width="0.7"/>
<line x1="671.4" y1="485" x2="671.4" y2="515" stroke="#2b2b2b" stroke-width="0.55"/>
<rect x="669.6" y="488" width="3.5" height="26.3" fill="none" stroke="#2b2b2b" stroke-width="0.55"/>
<line x1="669.6" y1="493.5" x2="673.1" y2="493.5" stroke="#2b2b2b" stroke-width="0.7"/>
<text x="659.9" y="445.9" font-size="10.4" fill="#1a1a1a" text-anchor="middle" font-style="italic">TRIM22</text>
<text x="659.6" y="459.9" font-size="7.75" fill="#1a1a1a" text-anchor="middle">0.019</text>
<line x1="648.4" y1="463.4" x2="671.4" y2="463.4" stroke="#333" stroke-width="0.7"/>
<path d="M331.6 566.6V642.2H381.3" stroke="#333" stroke-width="0.8" fill="none"/>
<line x1="329.4" y1="575.4" x2="331.6" y2="575.4" stroke="#333" stroke-width="0.7"/>
<text x="328.2" y="578.4" font-size="8.4" fill="#463d3d" text-anchor="end">12.5</text>
<line x1="329.4" y1="592.6" x2="331.6" y2="592.6" stroke="#333" stroke-width="0.7"/>
<text x="328.2" y="595.6" font-size="8.4" fill="#463d3d" text-anchor="end">10.0</text>
<line x1="329.4" y1="609.9" x2="331.6" y2="609.9" stroke="#333" stroke-width="0.7"/>
<text x="328.2" y="612.9" font-size="8.4" fill="#463d3d" text-anchor="end">7.5</text>
<line x1="329.4" y1="627.4" x2="331.6" y2="627.4" stroke="#333" stroke-width="0.7"/>
<text x="328.2" y="630.4" font-size="8.4" fill="#463d3d" text-anchor="end">5.0</text>
<line x1="344.9" y1="642.2" x2="344.9" y2="644.4" stroke="#333" stroke-width="0.7"/>
<line x1="367.8" y1="642.2" x2="367.8" y2="644.4" stroke="#333" stroke-width="0.7"/>
<path d="M344.9 592.9C344.8 593.4 344.7 594.8 344.3 596C343.8 597.2 343.2 598.7 342.3 600C341.3 601.3 339.7 602.7 338.6 604C337.5 605.3 336.1 606.6 335.4 608C334.8 609.4 334.5 611 334.4 612.3C334.3 613.6 334.6 614.7 335.1 616C335.6 617.3 336.5 618.5 337.3 620C338.2 621.5 339.4 623.3 340.3 625C341.2 626.7 342 628.3 342.6 630C343.2 631.7 343.7 633.5 344.1 635C344.4 636.5 344.8 638.4 344.9 639.1C345 638.4 345.4 636.5 345.7 635C346.1 633.5 346.6 631.7 347.2 630C347.8 628.3 348.6 626.7 349.5 625C350.4 623.3 351.6 621.5 352.5 620C353.3 618.5 354.2 617.3 354.7 616C355.2 614.7 355.5 613.6 355.4 612.3C355.3 611 355 609.4 354.3 608C353.6 606.6 352.3 605.3 351.2 604C350.1 602.7 348.5 601.3 347.5 600C346.6 598.7 346 597.2 345.5 596C345.1 594.8 345 593.4 344.9 592.9Z" fill="#808080" stroke="#2b2b2b" stroke-width="0.6" stroke-linejoin="round"/>
<path d="M367.8 570.2C367.7 571.2 367.6 574 367.4 576C367.2 578 367.1 580.2 366.8 582C366.4 583.8 366.2 585.3 365.5 587C364.8 588.7 363.7 590.3 362.6 592C361.4 593.7 359.8 595.4 358.9 597C358 598.6 357.4 600.3 357.3 601.8C357.2 603.3 357.5 604.6 358 606C358.5 607.4 359.3 608.5 360.2 610C361.1 611.5 362.5 613.3 363.4 615C364.3 616.7 365.1 618.5 365.7 620C366.3 621.5 366.6 622.6 367 624C367.3 625.4 367.7 627.8 367.8 628.6C367.9 627.8 368.3 625.4 368.6 624C369 622.6 369.3 621.5 369.9 620C370.5 618.5 371.3 616.7 372.2 615C373.1 613.3 374.5 611.5 375.4 610C376.3 608.5 377.1 607.4 377.6 606C378.1 604.6 378.4 603.3 378.3 601.8C378.2 600.3 377.6 598.6 376.7 597C375.9 595.4 374.2 593.7 373.1 592C371.9 590.3 370.8 588.7 370.1 587C369.4 585.3 369.2 583.8 368.9 582C368.5 580.2 368.4 578 368.2 576C368 574 367.9 571.2 367.8 570.2Z" fill="#2e7fb4" stroke="#2b2b2b" stroke-width="0.6" stroke-linejoin="round"/>
<line x1="344.9" y1="604.1" x2="344.9" y2="627.5" stroke="#2b2b2b" stroke-width="0.55"/>
<rect x="343.1" y="608.8" width="3.5" height="10.5" fill="none" stroke="#2b2b2b" stroke-width="0.55"/>
<line x1="343.1" y1="613.4" x2="346.6" y2="613.4" stroke="#2b2b2b" stroke-width="0.7"/>
<line x1="367.8" y1="581.9" x2="367.8" y2="614.6" stroke="#2b2b2b" stroke-width="0.55"/>
<rect x="366.1" y="598.3" width="3.5" height="10.9" fill="none" stroke="#2b2b2b" stroke-width="0.55"/>
<line x1="366.1" y1="602.2" x2="369.6" y2="602.2" stroke="#2b2b2b" stroke-width="0.7"/>
<text x="356.4" y="553.5" font-size="10.4" fill="#1a1a1a" text-anchor="middle" font-style="italic">PLTP</text>
<text x="356.1" y="564.8" font-size="7.75" fill="#1a1a1a" text-anchor="middle">1.50e−04</text>
<line x1="344.9" y1="568.3" x2="367.8" y2="568.3" stroke="#333" stroke-width="0.7"/>
<path d="M407.2 566.6V642.2H457" stroke="#333" stroke-width="0.8" fill="none"/>
<line x1="405" y1="571.4" x2="407.2" y2="571.4" stroke="#333" stroke-width="0.7"/>
<text x="403.8" y="574.4" font-size="8.4" fill="#463d3d" text-anchor="end">12</text>
<line x1="405" y1="592.5" x2="407.2" y2="592.5" stroke="#333" stroke-width="0.7"/>
<text x="403.8" y="595.5" font-size="8.4" fill="#463d3d" text-anchor="end">8</text>
<line x1="405" y1="613.3" x2="407.2" y2="613.3" stroke="#333" stroke-width="0.7"/>
<text x="403.8" y="616.3" font-size="8.4" fill="#463d3d" text-anchor="end">4</text>
<line x1="405" y1="634.3" x2="407.2" y2="634.3" stroke="#333" stroke-width="0.7"/>
<text x="403.8" y="637.3" font-size="8.4" fill="#463d3d" text-anchor="end">0</text>
<line x1="420.5" y1="642.2" x2="420.5" y2="644.4" stroke="#333" stroke-width="0.7"/>
<line x1="443.2" y1="642.2" x2="443.2" y2="644.4" stroke="#333" stroke-width="0.7"/>
<path d="M420.5 585.9C420.4 586.4 420.3 587.8 419.7 589C419 590.2 418.1 591.7 416.8 593C415.6 594.3 413.4 595.6 412.3 597C411.2 598.4 410.2 600.3 410 601.6C409.8 602.9 410.4 603.8 411.1 605C411.8 606.2 413.1 607.7 414.2 609C415.2 610.3 416.5 611.7 417.4 613C418.2 614.3 418.9 615.8 419.4 617C420 618.2 420.3 619.8 420.5 620.3C420.7 619.8 421 618.2 421.6 617C422.1 615.8 422.8 614.3 423.6 613C424.5 611.7 425.8 610.3 426.8 609C427.9 607.7 429.2 606.2 429.9 605C430.6 603.8 431.2 602.9 431 601.6C430.8 600.3 429.8 598.4 428.7 597C427.6 595.6 425.4 594.3 424.2 593C422.9 591.7 422 590.2 421.3 589C420.7 587.8 420.6 586.4 420.5 585.9Z" fill="#808080" stroke="#2b2b2b" stroke-width="0.6" stroke-linejoin="round"/>
<path d="M443.2 572.8C443.1 573.3 443 574.8 442.6 576C442.2 577.2 441.7 578.7 440.9 580C440.1 581.3 439.1 582.8 437.9 584C436.8 585.2 435.1 586.4 434.3 587.5C433.4 588.6 432.6 589.6 432.7 590.6C432.8 591.6 433.7 592.5 434.8 593.5C435.9 594.5 438.4 595.6 439.5 596.5C440.6 597.4 440.8 598.1 441.3 599C441.8 599.9 442.1 599.8 442.4 601.6C442.6 603.4 442.6 606.9 442.7 610C442.7 613.1 442.7 617.3 442.7 620C442.7 622.7 442.7 624.5 442.6 626C442.4 627.5 441.9 628.1 441.7 629C441.5 629.9 441.3 630.7 441.3 631.5C441.3 632.3 441.6 633.1 441.8 634C442.1 634.9 442.4 636.2 442.7 637C442.9 637.8 443.1 638.7 443.2 639C443.3 638.7 443.5 637.8 443.7 637C444 636.2 444.3 634.9 444.6 634C444.8 633.1 445.1 632.3 445.1 631.5C445.1 630.7 444.9 629.9 444.7 629C444.5 628.1 444 627.5 443.8 626C443.7 624.5 443.7 622.7 443.7 620C443.7 617.3 443.7 613.1 443.7 610C443.8 606.9 443.8 603.4 444 601.6C444.3 599.8 444.6 599.9 445.1 599C445.6 598.1 445.8 597.4 446.9 596.5C448 595.6 450.5 594.5 451.6 593.5C452.7 592.5 453.6 591.6 453.7 590.6C453.8 589.6 453 588.6 452.1 587.5C451.2 586.4 449.6 585.2 448.4 584C447.3 582.8 446.3 581.3 445.5 580C444.7 578.7 444.2 577.2 443.8 576C443.4 574.8 443.3 573.3 443.2 572.8Z" fill="#2e7fb4" stroke="#2b2b2b" stroke-width="0.6" stroke-linejoin="round"/>
<line x1="420.5" y1="594" x2="420.5" y2="611" stroke="#2b2b2b" stroke-width="0.55"/>
<rect x="418.8" y="599.9" width="3.5" height="6.3" fill="none" stroke="#2b2b2b" stroke-width="0.55"/>
<line x1="418.8" y1="603" x2="422.2" y2="603" stroke="#2b2b2b" stroke-width="0.7"/>
<line x1="443.2" y1="580" x2="443.2" y2="597" stroke="#2b2b2b" stroke-width="0.55"/>
<rect x="441.4" y="586.9" width="3.5" height="6.5" fill="none" stroke="#2b2b2b" stroke-width="0.55"/>
<line x1="441.4" y1="590" x2="444.9" y2="590" stroke="#2b2b2b" stroke-width="0.7"/>
<text x="431.9" y="553.5" font-size="10.4" fill="#1a1a1a" text-anchor="middle" font-style="italic">FOLR2</text>
<text x="431.6" y="564.8" font-size="7.75" fill="#1a1a1a" text-anchor="middle">8.33e−04</text>
<line x1="420.5" y1="568.3" x2="443.2" y2="568.3" stroke="#333" stroke-width="0.7"/>
<path d="M484.3 566.6V642.2H534.3" stroke="#333" stroke-width="0.8" fill="none"/>
<line x1="482.1" y1="582.2" x2="484.3" y2="582.2" stroke="#333" stroke-width="0.7"/>
<text x="480.9" y="585.2" font-size="8.4" fill="#463d3d" text-anchor="end">7.5</text>
<line x1="482.1" y1="598.8" x2="484.3" y2="598.8" stroke="#333" stroke-width="0.7"/>
<text x="480.9" y="601.8" font-size="8.4" fill="#463d3d" text-anchor="end">5.0</text>
<line x1="482.1" y1="615.6" x2="484.3" y2="615.6" stroke="#333" stroke-width="0.7"/>
<text x="480.9" y="618.6" font-size="8.4" fill="#463d3d" text-anchor="end">2.5</text>
<line x1="482.1" y1="632.4" x2="484.3" y2="632.4" stroke="#333" stroke-width="0.7"/>
<text x="480.9" y="635.4" font-size="8.4" fill="#463d3d" text-anchor="end">0.0</text>
<line x1="497.8" y1="642.2" x2="497.8" y2="644.4" stroke="#333" stroke-width="0.7"/>
<line x1="520.5" y1="642.2" x2="520.5" y2="644.4" stroke="#333" stroke-width="0.7"/>
<path d="M497.8 584C497.6 584.4 497.4 585.7 496.8 586.5C496.1 587.3 495.4 588.2 494.1 589C492.9 589.8 490.5 590.6 489.4 591.3C488.3 592 487.4 592.7 487.3 593.4C487.2 594.1 487.8 594.7 488.9 595.5C489.9 596.3 492.3 597 493.6 598C494.9 599 496.4 600.6 496.8 601.6C497.1 602.6 496 603.2 495.7 604C495.4 604.8 494.9 605.5 495 606.2C495 607 495.5 607.7 495.9 608.5C496.3 609.3 496.9 609.4 497.2 611C497.4 612.6 497.4 615.5 497.4 618C497.4 620.5 497.4 624.1 497.3 626C497.2 627.9 496.6 628.6 496.6 629.6C496.6 630.6 497.1 631 497.3 632C497.5 633 497.7 634.8 497.8 635.4C497.9 634.8 498.1 633 498.3 632C498.5 631 499 630.6 499 629.6C499 628.6 498.4 627.9 498.3 626C498.2 624.1 498.2 620.5 498.2 618C498.2 615.5 498.2 612.6 498.4 611C498.7 609.4 499.3 609.3 499.7 608.5C500.1 607.7 500.6 607 500.6 606.2C500.7 605.5 500.2 604.8 499.9 604C499.6 603.2 498.5 602.6 498.9 601.6C499.2 600.6 500.7 599 502 598C503.3 597 505.7 596.3 506.7 595.5C507.8 594.7 508.4 594.1 508.3 593.4C508.2 592.7 507.3 592 506.2 591.3C505.1 590.6 502.7 589.8 501.5 589C500.2 588.2 499.5 587.3 498.9 586.5C498.2 585.7 498 584.4 497.8 584Z" fill="#808080" stroke="#2b2b2b" stroke-width="0.6" stroke-linejoin="round"/>
<path d="M520.5 570.5C520.4 571.1 520.2 572.8 519.7 574C519.1 575.2 518.5 576.7 517.4 578C516.2 579.3 513.9 580.5 512.6 582C511.4 583.5 510.2 585.4 510 586.9C509.8 588.4 510.6 589.6 511.6 591C512.5 592.4 514.6 593.7 515.8 595C517 596.3 518 597.7 518.7 599C519.4 600.3 519.6 600.8 519.9 603C520.1 605.2 520.1 609.2 520.1 612C520.1 614.8 520.3 618 520 620C519.7 622 519 622.8 518.4 624C517.8 625.2 516.8 626.1 516.3 627C515.8 627.9 515.4 628.8 515.4 629.6C515.4 630.4 515.8 631.1 516.3 632C516.8 632.9 517.9 633.8 518.6 635C519.3 636.2 520.2 638.3 520.5 639C520.8 638.3 521.7 636.2 522.4 635C523.1 633.8 524.2 632.9 524.7 632C525.2 631.1 525.6 630.4 525.6 629.6C525.6 628.8 525.2 627.9 524.7 627C524.2 626.1 523.2 625.2 522.6 624C522 622.8 521.3 622 521 620C520.7 618 520.9 614.8 520.9 612C520.9 609.2 520.9 605.2 521.1 603C521.4 600.8 521.6 600.3 522.3 599C523 597.7 524 596.3 525.2 595C526.4 593.7 528.5 592.4 529.4 591C530.4 589.6 531.2 588.4 531 586.9C530.8 585.4 529.6 583.5 528.4 582C527.1 580.5 524.8 579.3 523.6 578C522.5 576.7 521.9 575.2 521.3 574C520.8 572.8 520.6 571.1 520.5 570.5Z" fill="#2e7fb4" stroke="#2b2b2b" stroke-width="0.6" stroke-linejoin="round"/>
<line x1="497.8" y1="590" x2="497.8" y2="600" stroke="#2b2b2b" stroke-width="0.55"/>
<rect x="496.1" y="591.8" width="3.5" height="6.3" fill="none" stroke="#2b2b2b" stroke-width="0.55"/>
<line x1="496.1" y1="594.5" x2="499.6" y2="594.5" stroke="#2b2b2b" stroke-width="0.7"/>
<line x1="520.5" y1="579" x2="520.5" y2="592.5" stroke="#2b2b2b" stroke-width="0.55"/>
<rect x="518.8" y="583.6" width="3.5" height="8.2" fill="none" stroke="#2b2b2b" stroke-width="0.55"/>
<line x1="518.8" y1="588.5" x2="522.2" y2="588.5" stroke="#2b2b2b" stroke-width="0.7"/>
<text x="509.1" y="553.5" font-size="10.4" fill="#1a1a1a" text-anchor="middle" font-style="italic">CD300A</text>
<text x="508.8" y="564.8" font-size="7.75" fill="#1a1a1a" text-anchor="middle">0.043</text>
<line x1="497.8" y1="568.3" x2="520.5" y2="568.3" stroke="#333" stroke-width="0.7"/>
<path d="M559.1 566.6V642.2H609.6" stroke="#333" stroke-width="0.8" fill="none"/>
<line x1="556.9" y1="577.7" x2="559.1" y2="577.7" stroke="#333" stroke-width="0.7"/>
<text x="555.7" y="580.7" font-size="8.4" fill="#463d3d" text-anchor="end">14</text>
<line x1="556.9" y1="598.1" x2="559.1" y2="598.1" stroke="#333" stroke-width="0.7"/>
<text x="555.7" y="601.1" font-size="8.4" fill="#463d3d" text-anchor="end">12</text>
<line x1="556.9" y1="618.2" x2="559.1" y2="618.2" stroke="#333" stroke-width="0.7"/>
<text x="555.7" y="621.2" font-size="8.4" fill="#463d3d" text-anchor="end">10</text>
<line x1="556.9" y1="638.6" x2="559.1" y2="638.6" stroke="#333" stroke-width="0.7"/>
<text x="555.7" y="641.6" font-size="8.4" fill="#463d3d" text-anchor="end">8</text>
<line x1="573.3" y1="642.2" x2="573.3" y2="644.4" stroke="#333" stroke-width="0.7"/>
<line x1="595.9" y1="642.2" x2="595.9" y2="644.4" stroke="#333" stroke-width="0.7"/>
<path d="M573.3 570C573.2 571 573.1 574 572.9 576C572.7 578 572.5 580 572.2 582C572 584 571.8 586 571.2 588C570.6 590 569.8 592.2 568.9 594C568 595.8 566.8 597.3 565.9 599C565.1 600.7 564.2 602.3 563.6 604C563.1 605.7 562.9 607.7 562.8 609.4C562.7 611.1 563 612.4 563.3 614C563.7 615.6 564.2 617.3 564.9 619C565.6 620.7 566.6 622.3 567.5 624C568.4 625.7 569.4 627.3 570.1 629C570.9 630.7 571.5 632.3 572 634C572.6 635.7 573.1 638.2 573.3 639C573.5 638.2 574 635.7 574.6 634C575.1 632.3 575.7 630.7 576.4 629C577.2 627.3 578.2 625.7 579.1 624C579.9 622.3 581 620.7 581.7 619C582.4 617.3 582.9 615.6 583.3 614C583.6 612.4 583.9 611.1 583.8 609.4C583.7 607.7 583.5 605.7 583 604C582.4 602.3 581.5 600.7 580.6 599C579.8 597.3 578.6 595.8 577.7 594C576.8 592.2 576 590 575.4 588C574.8 586 574.6 584 574.3 582C574.1 580 573.9 578 573.7 576C573.5 574 573.4 571 573.3 570Z" fill="#808080" stroke="#2b2b2b" stroke-width="0.6" stroke-linejoin="round"/>
<path d="M595.9 581C595.7 581.4 595.2 582.7 594.6 583.5C594.1 584.3 593 585.2 592.5 586C592.1 586.8 591.9 587.5 591.9 588.2C591.9 589 592.5 589.6 592.8 590.5C593 591.4 593.9 592.8 593.6 593.7C593.2 594.6 592 595.1 590.6 596C589.3 596.9 585.6 598.2 585.4 599.2C585.2 600.2 588.3 601.1 589.6 602C590.9 602.9 592.5 603.6 593.3 604.5C594.1 605.4 594.3 606.4 594.5 607.3C594.8 608.2 594.9 608.9 594.9 610C594.8 611.1 594.1 612.8 594.1 613.8C594.1 614.8 594.4 615.3 594.6 616C594.9 616.7 595.2 617.3 595.4 618C595.6 618.7 595.8 620 595.9 620.4C596 620 596.2 618.7 596.4 618C596.6 617.3 596.9 616.7 597.2 616C597.4 615.3 597.7 614.8 597.7 613.8C597.6 612.8 597 611.1 596.9 610C596.9 608.9 597 608.2 597.3 607.3C597.5 606.4 597.7 605.4 598.5 604.5C599.3 603.6 600.9 602.9 602.2 602C603.5 601.1 606.6 600.2 606.4 599.2C606.2 598.2 602.5 596.9 601.1 596C599.8 595.1 598.6 594.6 598.2 593.7C597.9 592.8 598.8 591.4 599 590.5C599.3 589.6 599.9 589 599.9 588.2C599.9 587.5 599.7 586.8 599.3 586C598.8 585.2 597.7 584.3 597.2 583.5C596.6 582.7 596.1 581.4 595.9 581Z" fill="#2e7fb4" stroke="#2b2b2b" stroke-width="0.6" stroke-linejoin="round"/>
<line x1="573.3" y1="585.4" x2="573.3" y2="623.7" stroke="#2b2b2b" stroke-width="0.55"/>
<rect x="571.5" y="604" width="3.5" height="13.1" fill="none" stroke="#2b2b2b" stroke-width="0.55"/>
<line x1="571.5" y1="609.4" x2="575" y2="609.4" stroke="#2b2b2b" stroke-width="0.7"/>
<line x1="595.9" y1="592" x2="595.9" y2="607" stroke="#2b2b2b" stroke-width="0.55"/>
<rect x="594.1" y="596.3" width="3.5" height="5.5" fill="none" stroke="#2b2b2b" stroke-width="0.55"/>
<line x1="594.1" y1="599" x2="597.6" y2="599" stroke="#2b2b2b" stroke-width="0.7"/>
<text x="584.6" y="553.5" font-size="10.4" fill="#1a1a1a" text-anchor="middle" font-style="italic">C1QA</text>
<text x="584.3" y="564.8" font-size="7.75" fill="#1a1a1a" text-anchor="middle">0.0018</text>
<line x1="573.3" y1="568.3" x2="595.9" y2="568.3" stroke="#333" stroke-width="0.7"/>
<path d="M635.7 566.6V642.2H685" stroke="#333" stroke-width="0.8" fill="none"/>
<line x1="633.5" y1="574.4" x2="635.7" y2="574.4" stroke="#333" stroke-width="0.7"/>
<text x="632.3" y="577.4" font-size="8.4" fill="#463d3d" text-anchor="end">14</text>
<line x1="633.5" y1="596.7" x2="635.7" y2="596.7" stroke="#333" stroke-width="0.7"/>
<text x="632.3" y="599.7" font-size="8.4" fill="#463d3d" text-anchor="end">12</text>
<line x1="633.5" y1="619.3" x2="635.7" y2="619.3" stroke="#333" stroke-width="0.7"/>
<text x="632.3" y="622.3" font-size="8.4" fill="#463d3d" text-anchor="end">10</text>
<line x1="633.5" y1="641.9" x2="635.7" y2="641.9" stroke="#333" stroke-width="0.7"/>
<text x="632.3" y="644.9" font-size="8.4" fill="#463d3d" text-anchor="end">8</text>
<line x1="648.4" y1="642.2" x2="648.4" y2="644.4" stroke="#333" stroke-width="0.7"/>
<line x1="671.4" y1="642.2" x2="671.4" y2="644.4" stroke="#333" stroke-width="0.7"/>
<path d="M648.4 570C648.3 571 648.2 574 648 576C647.8 578 647.6 580.1 647.4 582C647.1 583.9 647.1 585.7 646.6 587.5C646.1 589.3 645.1 591.2 644.2 593C643.3 594.8 642.1 596.3 641.3 598C640.4 599.7 639.5 601.3 638.9 603C638.4 604.7 638 606.7 637.9 608.4C637.8 610.1 638.1 611.4 638.4 613C638.8 614.6 639.3 616.3 640 618C640.7 619.7 641.8 621.3 642.6 623C643.5 624.7 644.5 626.3 645.2 628C646 629.7 646.5 631.2 647 633C647.6 634.8 648.2 638 648.4 639C648.6 638 649.2 634.8 649.8 633C650.3 631.2 650.8 629.7 651.5 628C652.3 626.3 653.3 624.7 654.2 623C655 621.3 656.1 619.7 656.8 618C657.5 616.3 658 614.6 658.4 613C658.7 611.4 659 610.1 658.9 608.4C658.8 606.7 658.4 604.7 657.9 603C657.3 601.3 656.4 599.7 655.5 598C654.7 596.3 653.5 594.8 652.6 593C651.7 591.2 650.7 589.3 650.2 587.5C649.7 585.7 649.7 583.9 649.4 582C649.2 580.1 649 578 648.8 576C648.6 574 648.5 571 648.4 570Z" fill="#808080" stroke="#2b2b2b" stroke-width="0.6" stroke-linejoin="round"/>
<path d="M671.4 574C671.3 574.7 671.1 576.7 670.6 578C670 579.3 669.1 580.7 668.2 582C667.4 583.3 666.2 584.7 665.3 586C664.4 587.3 663.4 588.7 662.8 590C662.1 591.3 661.7 592.6 661.4 594C661.1 595.4 660.8 597 660.9 598.5C661 600 661.2 601.6 661.7 603C662.2 604.4 663.1 605.7 663.8 607C664.6 608.3 665.7 609.7 666.5 611C667.3 612.3 668 613.7 668.6 615C669.2 616.3 669.6 617.7 670 619C670.4 620.3 670.6 621.7 670.9 623C671.1 624.3 671.3 626.3 671.4 627C671.5 626.3 671.7 624.3 671.9 623C672.2 621.7 672.4 620.3 672.8 619C673.1 617.7 673.6 616.3 674.2 615C674.8 613.7 675.5 612.3 676.3 611C677.1 609.7 678.2 608.3 679 607C679.7 605.7 680.6 604.4 681.1 603C681.5 601.6 681.8 600 681.9 598.5C682 597 681.7 595.4 681.4 594C681.1 592.6 680.7 591.3 680 590C679.4 588.7 678.4 587.3 677.5 586C676.6 584.7 675.4 583.3 674.5 582C673.7 580.7 672.8 579.3 672.2 578C671.7 576.7 671.5 574.7 671.4 574Z" fill="#2e7fb4" stroke="#2b2b2b" stroke-width="0.6" stroke-linejoin="round"/>
<line x1="648.4" y1="590" x2="648.4" y2="623" stroke="#2b2b2b" stroke-width="0.55"/>
<rect x="646.6" y="602.4" width="3.5" height="13.6" fill="none" stroke="#2b2b2b" stroke-width="0.55"/>
<line x1="646.6" y1="608.4" x2="650.1" y2="608.4" stroke="#2b2b2b" stroke-width="0.7"/>
<line x1="671.4" y1="587.1" x2="671.4" y2="613.8" stroke="#2b2b2b" stroke-width="0.55"/>
<rect x="669.6" y="593" width="3.5" height="12.1" fill="none" stroke="#2b2b2b" stroke-width="0.55"/>
<line x1="669.6" y1="598.5" x2="673.1" y2="598.5" stroke="#2b2b2b" stroke-width="0.7"/>
<text x="659.9" y="553.5" font-size="10.4" fill="#1a1a1a" text-anchor="middle" font-style="italic">C1QB</text>
<text x="659.6" y="564.8" font-size="7.75" fill="#1a1a1a" text-anchor="middle">0.011</text>
<line x1="648.4" y1="568.3" x2="671.4" y2="568.3" stroke="#333" stroke-width="0.7"/>
<text x="308.4" y="538" font-size="11.6" fill="#000" text-anchor="middle" transform="rotate(-90 308.4 538)">log2(CPM)</text>
<rect x="420" y="656.5" width="24.5" height="9.1" fill="#666666"/>
<text x="450.6" y="663.9" font-size="9.0" fill="#000">TAM_MARCO</text>
<rect x="533.5" y="656.5" width="24.5" height="9.1" fill="#136ea3"/>
<text x="564.5" y="663.9" font-size="9.0" fill="#000">TAM_PLTP</text>
<text x="2" y="669.3" font-size="16.8" fill="#231815" font-weight="bold">G</text>
<text x="143.3" y="665.8" font-size="10" fill="#000" text-anchor="middle">TAM_MARCO vs. TAM_PLTP</text>
<rect x="147.5" y="677.1" width="32.4" height="5.2" fill="#6fa9cf"/>
<text x="150.6" y="681.8" font-size="6.05" fill="#111">humoral immune response</text>
<rect x="147.5" y="684.4" width="30.3" height="5.2" fill="#6fa9cf"/>
<text x="150.6" y="689.1" font-size="6.05" fill="#111">immunoglobulin mediated immune response</text>
<rect x="147.5" y="691.8" width="31.4" height="5.2" fill="#6fa9cf"/>
<text x="150.6" y="696.5" font-size="6.05" fill="#111">B cell mediated immunity</text>
<rect x="147.5" y="699.1" width="30.7" height="5.2" fill="#6fa9cf"/>
<text x="150.6" y="703.8" font-size="6.05" fill="#111">leukocyte mediated immunity</text>
<rect x="147.5" y="706.4" width="30.7" height="5.2" fill="#6fa9cf"/>
<text x="150.6" y="711.1" font-size="6.05" fill="#111">adaptive immune response</text>
<rect x="147.5" y="713.8" width="29.6" height="5.2" fill="#6fa9cf"/>
<text x="150.6" y="718.5" font-size="6.05" fill="#111">complement activation</text>
<rect x="147.5" y="721.1" width="27.7" height="5.2" fill="#6fa9cf"/>
<text x="150.6" y="725.8" font-size="6.05" fill="#111">positive regulation of chemokine production</text>
<rect x="147.5" y="728.4" width="27.3" height="5.2" fill="#6fa9cf"/>
<text x="150.6" y="733.1" font-size="6.05" fill="#111">complement activation, classical pathway</text>
<rect x="147.5" y="735.8" width="27.7" height="5.2" fill="#6fa9cf"/>
<text x="150.6" y="740.5" font-size="6.05" fill="#111">activation of immune response</text>
<rect x="147.5" y="743.1" width="26.8" height="5.2" fill="#6fa9cf"/>
<text x="150.6" y="747.8" font-size="6.05" fill="#111">lymphocyte mediated immunity</text>
<rect x="104.7" y="750.5" width="42.8" height="5.2" fill="#ababab"/>
<text x="146.6" y="755.2" font-size="6.05" fill="#111" text-anchor="end">regulation of viral genome replication</text>
<rect x="104.3" y="757.8" width="43.2" height="5.2" fill="#ababab"/>
<text x="146.6" y="762.5" font-size="6.05" fill="#111" text-anchor="end">regulation of viral life cycle</text>
<rect x="101.3" y="765.1" width="46.2" height="5.2" fill="#ababab"/>
<text x="146.6" y="769.8" font-size="6.05" fill="#111" text-anchor="end">regulation of viral process</text>
<rect x="90.4" y="772.5" width="57.1" height="5.2" fill="#ababab"/>
<text x="146.6" y="777.2" font-size="6.05" fill="#111" text-anchor="end">interferon−mediated signaling pathway</text>
<rect x="89.2" y="779.8" width="58.3" height="5.2" fill="#ababab"/>
<text x="146.6" y="784.5" font-size="6.05" fill="#111" text-anchor="end">viral process</text>
<rect x="88" y="787.1" width="59.5" height="5.2" fill="#ababab"/>
<text x="146.6" y="791.8" font-size="6.05" fill="#111" text-anchor="end">regulation of response to biotic stimulus</text>
<rect x="80.4" y="794.5" width="67.1" height="5.2" fill="#ababab"/>
<text x="146.6" y="799.2" font-size="6.05" fill="#111" text-anchor="end">regulation of innate immune response</text>
<rect x="42.4" y="801.8" width="105.1" height="5.2" fill="#ababab"/>
<text x="146.6" y="806.5" font-size="6.05" fill="#111" text-anchor="end">defense response to symbiont</text>
<rect x="42.4" y="809.1" width="105.1" height="5.2" fill="#ababab"/>
<text x="146.6" y="813.8" font-size="6.05" fill="#111" text-anchor="end">defense response to virus</text>
<rect x="36.6" y="816.5" width="110.9" height="5.2" fill="#ababab"/>
<text x="146.6" y="821.2" font-size="6.05" fill="#111" text-anchor="end">response to virus</text>
<rect x="29.8" y="675.5" width="242.3" height="147.8" fill="none" stroke="#444" stroke-width="1.1"/>
<line x1="147.5" y1="675.5" x2="147.5" y2="823.3" stroke="#333" stroke-width="0.8"/>
<line x1="61.4" y1="823.3" x2="61.4" y2="825.5" stroke="#333" stroke-width="0.7"/>
<text x="61.4" y="831.5" font-size="6.2" fill="#333" text-anchor="middle">10</text>
<line x1="104.4" y1="823.3" x2="104.4" y2="825.5" stroke="#333" stroke-width="0.7"/>
<text x="104.4" y="831.5" font-size="6.2" fill="#333" text-anchor="middle">5</text>
<line x1="147.5" y1="823.3" x2="147.5" y2="825.5" stroke="#333" stroke-width="0.7"/>
<text x="147.5" y="831.5" font-size="6.2" fill="#333" text-anchor="middle">0</text>
<line x1="190.5" y1="823.3" x2="190.5" y2="825.5" stroke="#333" stroke-width="0.7"/>
<text x="190.5" y="831.5" font-size="6.2" fill="#333" text-anchor="middle">5</text>
<text x="146.8" y="843.6" font-size="8.5" fill="#000" text-anchor="middle">−Log10(p.adjust)</text>
<text x="25.4" y="746.8" font-size="12.9" fill="#000" text-anchor="middle" transform="rotate(-90 25.4 746.8)">GO Terms</text>
<text x="280.2" y="685.3" font-size="16.8" fill="#231815" font-weight="bold">H</text>
<path d="M311.8 685.8V823.4H480.4" stroke="#333" stroke-width="0.9" fill="none"/>
<line x1="309.5" y1="691.4" x2="311.8" y2="691.4" stroke="#333" stroke-width="0.8"/>
<text x="308" y="693.9" font-size="7.1" fill="#111" text-anchor="end">1.00</text>
<line x1="309.5" y1="722.6" x2="311.8" y2="722.6" stroke="#333" stroke-width="0.8"/>
<text x="308" y="725.1" font-size="7.1" fill="#111" text-anchor="end">0.75</text>
<line x1="309.5" y1="753.9" x2="311.8" y2="753.9" stroke="#333" stroke-width="0.8"/>
<text x="308" y="756.4" font-size="7.1" fill="#111" text-anchor="end">0.50</text>
<line x1="309.5" y1="785.1" x2="311.8" y2="785.1" stroke="#333" stroke-width="0.8"/>
<text x="308" y="787.6" font-size="7.1" fill="#111" text-anchor="end">0.25</text>
<line x1="309.5" y1="816.4" x2="311.8" y2="816.4" stroke="#333" stroke-width="0.8"/>
<text x="308" y="818.9" font-size="7.1" fill="#111" text-anchor="end">0.00</text>
<line x1="319.8" y1="823.4" x2="319.8" y2="825.4" stroke="#333" stroke-width="0.8"/>
<text x="319.8" y="832.8" font-size="7.1" fill="#111" text-anchor="middle">0</text>
<line x1="358.3" y1="823.4" x2="358.3" y2="825.4" stroke="#333" stroke-width="0.8"/>
<text x="358.3" y="832.8" font-size="7.1" fill="#111" text-anchor="middle">300</text>
<line x1="396.8" y1="823.4" x2="396.8" y2="825.4" stroke="#333" stroke-width="0.8"/>
<text x="396.8" y="832.8" font-size="7.1" fill="#111" text-anchor="middle">600</text>
<line x1="435.2" y1="823.4" x2="435.2" y2="825.4" stroke="#333" stroke-width="0.8"/>
<text x="435.2" y="832.8" font-size="7.1" fill="#111" text-anchor="middle">900</text>
<line x1="473.7" y1="823.4" x2="473.7" y2="825.4" stroke="#333" stroke-width="0.8"/>
<text x="473.7" y="832.8" font-size="7.1" fill="#111" text-anchor="middle">1200</text>
<text x="286.6" y="754.5" font-size="8.6" fill="#000" text-anchor="middle" transform="rotate(-90 286.6 754.5)">Progression-free survival</text>
<text x="399.8" y="841.9" font-size="8.5" fill="#000" text-anchor="middle">Time (Days)</text>
<path d="M319.8 691.4H320.1V693.6H320.4V695.8H320.7V698H321V700.3H322.5V701.8H322.8V704.2H323.1V706.7H323.4V709.1H323.7V711.6H324V714H324.4V716.5H324.7V719H325V721.4H325.3V723.9H325.6V726.3H326V728.8H326.4V731.2H326.9V733.7H327.3V736.1H327.7V738.6H328.2V740.7H328.6V742.9H329.1V745H329.6V747.2H336.3V747.2H336.3V760H340.9V763.1H341.9V765.7H343V768.2H344V770.8H345.5V773.1H347V775.4H349V778.1H351V780.9H353.2V783.5H355.3V786.1H363.9V787.6H365.4V789.7H367V791.7H368.5V793.8H383.8V793.8H384.6V796.1H385.4V798.4H388.4V801.4H417.6V801.4H418.3V803.4H419.1V805.4H437.5V805.4H438.2V807.2H439V809.1H449.7V809.1" stroke="#e3272a" stroke-width="0.9" fill="none" stroke-linejoin="miter"/>
<path d="M320.5 700.9h4M322.5 698.9v4M337.4 761h4M339.4 759v4M444.7 809.1h4M446.7 807.1v4M446.8 809.1h4M448.8 807.1v4" stroke="#e3272a" stroke-width="0.7" fill="none"/>
<path d="M319.8 691.4H321.6V694.1H324V695.7H324.4V698H324.8V700.3H325.2V702.6H325.6V704.9H325.9V707.3H326.2V709.8H326.5V712.2H326.8V714.7H327.1V717.1H327.7V719.4H328.3V721.7H329V724H329.6V726.3H330V728.8H330.4V731.2H330.9V733.7H331.3V736.1H331.7V738.6H334.8V741.6H335.3V743.7H335.8V745.7H336.3V747.8H338.6V750.1H340.9V752.4H342.4V754.7H344V757H348.6V758.5H353.2V761.6H357.2V762.5H357.9V765.2H358.6V768H359.3V770.8H362.4V772.9H376.2V772.9H380.8V774.7H382.3V777.4H383.8V780H393V781.5H396.1V783H399.2V783.9H399.7V786.2H400.2V788.4H400.7V790.7H401.5V793.3H402.2V795.9H471.2V795.9" stroke="#2a64a9" stroke-width="0.9" fill="none" stroke-linejoin="miter"/>
<path d="M320.5 694.7h4M322.5 692.7v4M325.7 718h4M327.7 716v4M328.2 727.2h4M330.2 725.2v4M331.2 739.5h4M333.2 737.5v4M342.9 757h4M344.9 755v4M346.6 758.5h4M348.6 756.5v4M348.7 759.7h4M350.7 757.7v4M355.2 762.5h4M357.2 760.5v4M360.4 772.9h4M362.4 770.9v4M366.5 772.9h4M368.5 770.9v4M369.6 772.9h4M371.6 770.9v4M374.2 773.8h4M376.2 771.8v4M378.2 774.7h4M380.2 772.7v4M380.3 774.7h4M382.3 772.7v4M393.5 783h4M395.5 781v4M395 783h4M397 781v4M397.2 783.9h4M399.2 781.9v4M433.9 795.9h4M435.9 793.9v4M436.4 795.9h4M438.4 793.9v4M442.2 795.9h4M444.2 793.9v4M451.4 795.9h4M453.4 793.9v4M467.1 795.9h4M469.1 793.9v4" stroke="#2a64a9" stroke-width="0.7" fill="none"/>
<line x1="346.4" y1="712.5" x2="356.9" y2="712.5" stroke="#2a64a9" stroke-width="0.9"/>
<line x1="351.6" y1="710.2" x2="351.6" y2="714.8" stroke="#2a64a9" stroke-width="0.9"/>
<line x1="346.4" y1="724.8" x2="356.9" y2="724.8" stroke="#e3272a" stroke-width="0.9"/>
<line x1="351.6" y1="722.5" x2="351.6" y2="727.1" stroke="#e3272a" stroke-width="0.9"/>
<text x="360.2" y="714.9" font-size="8.75" fill="#000">TAM_MARCO High (n=85)</text>
<text x="360.2" y="727.4" font-size="8.75" fill="#000">TAM_MARCO Low (n=37)</text>
<text x="465.7" y="743.3" font-size="8.55" fill="#000" text-anchor="end">HR: 0.68, 95%CI (0.44-1.04)</text>
<text x="463.6" y="754.6" font-size="8.6" text-anchor="end"><tspan font-style="italic">P</tspan> = 0.071</text>
<text x="476.6" y="688" font-size="16.8" fill="#231815" font-weight="bold">I</text>
<path d="M514.7 684.5V823.4H683.5" stroke="#333" stroke-width="0.9" fill="none"/>
<line x1="512.4" y1="690.8" x2="514.7" y2="690.8" stroke="#333" stroke-width="0.8"/>
<text x="510.9" y="693.3" font-size="7.1" fill="#111" text-anchor="end">1.00</text>
<line x1="512.4" y1="722.1" x2="514.7" y2="722.1" stroke="#333" stroke-width="0.8"/>
<text x="510.9" y="724.6" font-size="7.1" fill="#111" text-anchor="end">0.75</text>
<line x1="512.4" y1="753.5" x2="514.7" y2="753.5" stroke="#333" stroke-width="0.8"/>
<text x="510.9" y="756" font-size="7.1" fill="#111" text-anchor="end">0.50</text>
<line x1="512.4" y1="784.8" x2="514.7" y2="784.8" stroke="#333" stroke-width="0.8"/>
<text x="510.9" y="787.3" font-size="7.1" fill="#111" text-anchor="end">0.25</text>
<line x1="512.4" y1="816.1" x2="514.7" y2="816.1" stroke="#333" stroke-width="0.8"/>
<text x="510.9" y="818.6" font-size="7.1" fill="#111" text-anchor="end">0.00</text>
<line x1="522.5" y1="823.4" x2="522.5" y2="825.4" stroke="#333" stroke-width="0.8"/>
<text x="522.5" y="832.8" font-size="7.1" fill="#111" text-anchor="middle">0</text>
<line x1="560.7" y1="823.4" x2="560.7" y2="825.4" stroke="#333" stroke-width="0.8"/>
<text x="560.7" y="832.8" font-size="7.1" fill="#111" text-anchor="middle">300</text>
<line x1="598.9" y1="823.4" x2="598.9" y2="825.4" stroke="#333" stroke-width="0.8"/>
<text x="598.9" y="832.8" font-size="7.1" fill="#111" text-anchor="middle">600</text>
<line x1="637" y1="823.4" x2="637" y2="825.4" stroke="#333" stroke-width="0.8"/>
<text x="637" y="832.8" font-size="7.1" fill="#111" text-anchor="middle">900</text>
<line x1="675.2" y1="823.4" x2="675.2" y2="825.4" stroke="#333" stroke-width="0.8"/>
<text x="675.2" y="832.8" font-size="7.1" fill="#111" text-anchor="middle">1200</text>
<text x="490.3" y="754.5" font-size="8.6" fill="#000" text-anchor="middle" transform="rotate(-90 490.3 754.5)">Progression-free survival</text>
<text x="601.4" y="841.9" font-size="8.5" fill="#000" text-anchor="middle">Time (Days)</text>
<path d="M522.5 690.8H525.6V690.8H525.6V694.7H526.7V697.5H527.7V700.3H528V702.9H528.3V705.6H528.6V708.3H529V711H529.4V713.5H529.8V716.1H530.2V718.6H530.6V720.9H530.9V723.2H531.3V725.5H531.7V727.8H533.2V730.5H534.8V733.1H537.8V734.9H538.6V737.1H539.3V739.4H540V741.6H544V743.2H547V745.3H548.6V747.3H550.1V749.3H553.2V752.4H556.2V754.8H560.2V757H561.3V759.6H562.4V762.2H565.4V764.6H568.5V767.1H571.6V769.2H583.8V769.8H584.3V772.2H584.9V774.5H585.4V776.9H590.9V777.8H593V780.1H595.2V782.4H637.5V782.4H638.3V784.7H639.1V786.9H639.9V789.2H671.2V789.2" stroke="#e3272a" stroke-width="0.9" fill="none" stroke-linejoin="miter"/>
<path d="M524.2 694.7h4M526.2 692.7v4M528.5 718.6h4M530.5 716.6v4M530.6 728.5h4M532.6 726.5v4M534.3 733.1h4M536.3 731.1v4M539.8 743.2h4M541.8 741.2v4M545.7 745.6h4M547.7 743.6v4M548.1 749.3h4M550.1 747.3v4M550.3 751.1h4M552.3 749.1v4M553.6 754.5h4M555.6 752.5v4M557.3 756h4M559.3 754v4M563.4 763.7h4M565.4 761.7v4M569.6 767.1h4M571.6 765.1v4M577.2 769.8h4M579.2 767.8v4M579.7 769.8h4M581.7 767.8v4M582.1 769.8h4M584.1 767.8v4M595 782.4h4M597 780.4v4M597.5 782.4h4M599.5 780.4v4M635.5 782.4h4M637.5 780.4v4M645.6 789.2h4M647.6 787.2v4M647.7 789.2h4M649.7 787.2v4M653 789.2h4M655 787.2v4M668.3 789.2h4M670.3 787.2v4" stroke="#e3272a" stroke-width="0.7" fill="none"/>
<path d="M522.5 690.8H522.5V694.1H524V697.2H526.5V698.7H526.7V701.2H527V703.6H527.2V706.1H527.5V708.5H527.7V711H528.2V713.7H528.6V716.3H529.1V719H529.6V721.7H530V724H530.3V726.3H530.7V728.6H531.1V730.9H531.6V733.2H532.2V735.5H532.7V737.8H533.2V740.1H534V742.4H534.8V744.7H535.5V747H536.3V749.3H537.1V751.6H537.8V753.9H538.6V756.2H539.4V758.5H540.2V760.5H541V762.6H541.8V764.6H542.9V766.7H543.9V768.7H544.9V770.8H546.4V772.6H548V774.4H553.2V775.4H555.3V778.4H556.9V780.7H558.4V783H560.4V785.6H562.4V788.2H577.7V788.2H579.2V790.7H586.9V791.3H588V793.6H589V795.9H597.6V795.9H601.3V798.4H602.2V800.7H603.1V803H604.4V806H619.1V806H619.8V807.9H620.6V809.7H646.7V809.7" stroke="#2a64a9" stroke-width="0.9" fill="none" stroke-linejoin="miter"/>
<path d="M522 697.2h4M524 695.2v4M523.9 698.7h4M525.9 696.7v4M551.8 775.4h4M553.8 773.4v4M561.9 788.2h4M563.9 786.2v4M571.7 788.2h4M573.7 786.2v4M595.6 795.9h4M597.6 793.9v4M597.2 795.9h4M599.2 793.9v4M638.5 809.7h4M640.5 807.7v4M644.1 809.7h4M646.1 807.7v4" stroke="#2a64a9" stroke-width="0.7" fill="none"/>
<line x1="564.8" y1="708.5" x2="575.2" y2="708.5" stroke="#2a64a9" stroke-width="0.9"/>
<line x1="570" y1="706.2" x2="570" y2="710.8" stroke="#2a64a9" stroke-width="0.9"/>
<line x1="564.8" y1="721.1" x2="575.2" y2="721.1" stroke="#e3272a" stroke-width="0.9"/>
<line x1="570" y1="718.8" x2="570" y2="723.4" stroke="#e3272a" stroke-width="0.9"/>
<text x="578.6" y="710.6" font-size="8.75" fill="#000">TAM_PLTP High (n=62)</text>
<text x="578.6" y="723.4" font-size="8.75" fill="#000">TAM_PLTP Low (n=60)</text>
<text x="670.3" y="737.4" font-size="8.55" fill="#000" text-anchor="end">HR: 1.66, 95%CI (1.09-2.52)</text>
<text x="667.6" y="750.3" font-size="8.6" text-anchor="end"><tspan font-style="italic">P</tspan> = 0.016</text></svg></body></html>
